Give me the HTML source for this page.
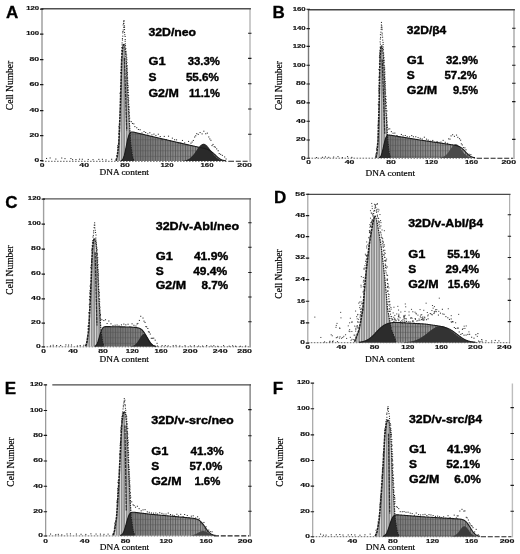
<!DOCTYPE html>
<html lang="en">
<head>
<meta charset="utf-8">
<title>Cell cycle analysis of 32D transfectants</title>
<style>
html,body{margin:0;padding:0;background:#fff;}
body{width:520px;height:554px;overflow:hidden;}
svg{display:block;}
.base{fill:none;stroke:#555;stroke-width:.9;stroke-dasharray:1.6 1.4;}
.rbase{fill:none;stroke:#222;stroke-width:1.1;stroke-dasharray:5 1.8;}
.g1{fill:#8e8e8e;}
.g1i{fill:none;stroke:#2b2b2b;stroke-width:1.3;stroke-dasharray:3 .6;}
.g1s{fill:url(#hw);}
.g1ll{fill:none;stroke:#1f1f1f;stroke-width:1.6;stroke-dasharray:2.6 .6;}
.g1lr{fill:none;stroke:#222;stroke-width:1.2;stroke-dasharray:1.5 .9;}
.sps{fill:url(#hd);}
.spl{fill:none;stroke:#1c1c1c;stroke-width:1.1;}
.ov{fill:#2c2c2c;}
.dots{fill:none;stroke:#262626;stroke-width:1;}
.sdots{fill:none;stroke:#4a4a4a;stroke-width:1;}
.tick{fill:none;stroke:#1a1a1a;stroke-width:1.1;}
.tl{font-family:"Liberation Sans", Arial, Helvetica, sans-serif;font-weight:bold;font-size:5.3px;fill:#111;stroke:#111;stroke-width:.15;}
.ax{font-family:"Liberation Serif", "Times New Roman", Times, serif;font-size:9.5px;fill:#000;stroke:#000;stroke-width:.18;}
.axd{font-family:"Liberation Serif", "Times New Roman", Times, serif;font-size:8.7px;fill:#000;stroke:#000;stroke-width:.18;}
.letter{font-family:"Liberation Sans", Arial, Helvetica, sans-serif;font-weight:bold;font-size:17px;fill:#000;stroke:#000;stroke-width:.3;}
.st{font-family:"Liberation Sans", Arial, Helvetica, sans-serif;font-weight:bold;font-size:11.7px;fill:#000;stroke:#000;stroke-width:.4;}
</style>
</head>
<body>
<svg width="520" height="554" viewBox="0 0 520 554" role="img" aria-label="DNA content histograms">

<defs>
<pattern id="hw" width="2.5" height="4" patternUnits="userSpaceOnUse"><rect x="0" y="0" width=".75" height="4" fill="#e8e8e8"/></pattern>
<pattern id="hd" width="2.5" height="5.5" patternUnits="userSpaceOnUse"><rect x="0" y="0" width=".8" height="5.5" fill="#585858"/><rect x="0" y="2" width="2.5" height=".8" fill="#4e4e4e" fill-opacity=".55"/></pattern>
<filter id="soft" x="0" y="0" width="100%" height="100%" filterUnits="userSpaceOnUse" color-interpolation-filters="sRGB"><feGaussianBlur stdDeviation="0.45"/></filter>
<linearGradient id="sgA" gradientUnits="userSpaceOnUse" x1="126.3" y1="0" x2="216" y2="0"><stop offset="0" stop-color="#6e6e6e"/><stop offset="1" stop-color="#9a9a9a"/></linearGradient>
<linearGradient id="sgB" gradientUnits="userSpaceOnUse" x1="383.6" y1="0" x2="466" y2="0"><stop offset="0" stop-color="#707070"/><stop offset="1" stop-color="#a4a4a4"/></linearGradient>
<linearGradient id="sgC" gradientUnits="userSpaceOnUse" x1="99.5" y1="0" x2="147" y2="0"><stop offset="0" stop-color="#6a6a6a"/><stop offset="1" stop-color="#858585"/></linearGradient>
<linearGradient id="sgD" gradientUnits="userSpaceOnUse" x1="376" y1="0" x2="459" y2="0"><stop offset="0" stop-color="#8a8a8a"/><stop offset="1" stop-color="#9c9c9c"/></linearGradient>
<linearGradient id="sgE" gradientUnits="userSpaceOnUse" x1="126.3" y1="0" x2="205.3" y2="0"><stop offset="0" stop-color="#787878"/><stop offset="1" stop-color="#9a9a9a"/></linearGradient>
<linearGradient id="sgF" gradientUnits="userSpaceOnUse" x1="389.5" y1="0" x2="470.5" y2="0"><stop offset="0" stop-color="#7a7a7a"/><stop offset="1" stop-color="#8e8e8e"/></linearGradient>
</defs>

<rect width="520" height="554" fill="#fff"/>
<g id="frames">
<path d="M42 8.3V162" fill="none" stroke="#9a9a9a" stroke-width="1.4"/>
<path d="M250 8.3V162" fill="none" stroke="#c6c6c6" stroke-width="1.8"/>
<path d="M41.3 8.8H250.9" fill="none" stroke="#505050" stroke-width="1.4"/>
<path class="tick" d="M40 9.1h3.4M40 34.1h3.4M40 59.6h3.4M40 84.6h3.4M40 110.6h3.4M40 135.6h3.4M40 160.6h3.4M248.1 33.3h3.4M248.1 58.4h3.4M248.1 83.7h3.4M248.1 109h3.4M248.1 134.2h3.4"/>
<path d="M308.5 9.2V158.9" fill="none" stroke="#777" stroke-width="1.4"/>
<path d="M514 9.2V158.9" fill="none" stroke="#bbb" stroke-width="1.8"/>
<path d="M307.8 9.7H514.9" fill="none" stroke="#444" stroke-width="1.5"/>
<path class="tick" d="M306.5 9.3h3.4M306.5 28.6h3.4M306.5 46.4h3.4M306.5 65.2h3.4M306.5 84h3.4M306.5 102.9h3.4M306.5 121.2h3.4M306.5 140h3.4M306.5 158.2h3.4M512.1 28.3h3.4M512.1 46.8h3.4M512.1 65.3h3.4M512.1 83.3h3.4M512.1 101.6h3.4M512.1 139.4h3.4"/>
<path d="M43.6 198.4V347.5" fill="none" stroke="#a0a0a0" stroke-width="1.4"/>
<path d="M250.1 198.4V347.5" fill="none" stroke="#888" stroke-width="1.4"/>
<path d="M42.9 198.9H251" fill="none" stroke="#555" stroke-width="1.3"/>
<path class="tick" d="M41.6 199.1h3.4M41.6 224.1h3.4M41.6 249.1h3.4M41.6 274.1h3.4M41.6 298.9h3.4M41.6 323.1h3.4M41.6 346.9h3.4M248.2 222.7h3.4M248.2 247.3h3.4M248.2 272.5h3.4M248.2 297h3.4M248.2 321.8h3.4"/>
<path d="M307.8 193.9V343.4" fill="none" stroke="#a2a2a2" stroke-width="1.2"/>
<path d="M509.6 193.9V343.4" fill="none" stroke="#b0b0b0" stroke-width="1.2"/>
<path d="M307.1 194.4H510.5" fill="none" stroke="#4a4a4a" stroke-width="1.3"/>
<path class="tick" d="M305.8 194.2h3.4M305.8 215.6h3.4M305.8 236.6h3.4M305.8 258.1h3.4M305.8 279.6h3.4M305.8 301.2h3.4M305.8 322.9h3.4M305.8 343.1h3.4M507.7 214.8h3.4M507.7 236.3h3.4M507.7 257.5h3.4M507.7 279h3.4M507.7 300.4h3.4M507.7 321.6h3.4"/>
<path d="M45.7 384.4V536.6" fill="none" stroke="#8a8a8a" stroke-width="1.1"/>
<path d="M250.1 384.4V536.6" fill="none" stroke="#777" stroke-width="1.3"/>
<path d="M52.3 384.9H251" fill="none" stroke="#4a4a4a" stroke-width="1.2"/>
<path class="tick" d="M43.7 384.9h3.4M43.7 410.5h3.4M43.7 435.4h3.4M43.7 461h3.4M43.7 486.2h3.4M43.7 511.8h3.4M43.7 536h3.4M248.2 409.6h3.4M248.2 435.8h3.4M248.2 460.8h3.4M248.2 486.3h3.4M248.2 511.2h3.4"/>
<path d="M312.7 383.5V537.4" fill="none" stroke="#a4a4a4" stroke-width="1.2"/>
<path d="M512.4 383.5V537.4" fill="none" stroke="#bdbdbd" stroke-width="1.4"/>
<path class="tick" d="M310.7 383.1h3.4M310.7 408.7h3.4M310.7 434.9h3.4M310.7 460.5h3.4M310.7 486.1h3.4M310.7 511.7h3.4M310.7 536.8h3.4M510.5 407.6h3.4M510.5 433.5h3.4M510.5 459.5h3.4M510.5 485.4h3.4M510.5 511.2h3.4"/>
</g>
<g filter="url(#soft)">
<g id="panelA">
<path class="base" d="M42 161.3H229"/>
<path class="rbase" d="M229 161.3H249"/>
<path class="g1" d="M116 161L116 160.66L116.25 159.83L116.5 158.99L116.75 158.15L117 157.31L117.25 156.47L117.5 154.57L117.75 152.42L118 150.28L118.25 148.13L118.5 145.98L118.75 143.84L119 138.8L119.25 133.13L119.5 127.47L119.75 121.8L120 115.99L120.25 108.31L120.5 100.63L120.75 92.95L121 84.23L121.25 75.1L121.5 65.97L121.75 59.65L122 54.92L122.25 52.12L122.5 49.33L122.75 47.16L123 46.15L123.25 45.25L123.5 44.68L123.75 44.11L124 44.44L124.25 44.98L124.5 45.62L124.75 46.56L125 47.5L125.25 49.79L125.5 52.1L125.75 54.41L126 57.41L126.25 61.29L126.5 65.69L126.75 71.1L127 76.51L127.25 81.92L127.5 87.34L127.75 92.55L128 97.42L128.25 102.29L128.5 107.16L128.75 112.02L129 116.83L129.25 120.8L129.5 124.77L129.75 128.75L130 132.72L130.25 136.69L130.5 140.67L130.75 144L131 145.85L131.25 147.7L131.5 149.55L131.75 151.4L132 153.24L132.25 155.09L132.5 156.58L132.75 157.37L133 158.16L133.25 158.95L133.5 159.74L133.75 160.53L133.75 161Z"/>
<path class="g1s" d="M116 161L116 160.66L116.25 159.83L116.5 158.99L116.75 158.15L117 157.31L117.25 156.47L117.5 154.57L117.75 152.42L118 150.28L118.25 148.13L118.5 145.98L118.75 143.84L119 138.8L119.25 133.13L119.5 127.47L119.75 121.8L120 115.99L120.25 108.31L120.5 100.63L120.75 92.95L121 84.23L121.25 75.1L121.5 65.97L121.75 59.65L122 54.92L122.25 52.12L122.5 49.33L122.75 47.16L123 46.15L123.25 45.25L123.5 44.68L123.75 44.11L124 44.44L124.25 44.98L124.5 45.62L124.75 46.56L125 47.5L125.25 49.79L125.5 52.1L125.75 54.41L126 57.41L126.25 61.29L126.5 65.69L126.75 71.1L127 76.51L127.25 81.92L127.5 87.34L127.75 92.55L128 97.42L128.25 102.29L128.5 107.16L128.75 112.02L129 116.83L129.25 120.8L129.5 124.77L129.75 128.75L130 132.72L130.25 136.69L130.5 140.67L130.75 144L131 145.85L131.25 147.7L131.5 149.55L131.75 151.4L132 153.24L132.25 155.09L132.5 156.58L132.75 157.37L133 158.16L133.25 158.95L133.5 159.74L133.75 160.53L133.75 161Z"/>
<path class="sp" fill="url(#sgA)" d="M120.75 161L120.75 160.77L121 160.69L121.25 160.58L121.5 160.45L121.75 160.29L122 160.09L122.25 159.84L122.5 159.54L122.75 159.18L123 158.75L123.25 158.26L123.5 157.68L123.75 157.03L124 156.29L124.25 155.47L124.5 154.57L124.75 153.58L125 152.52L125.25 151.4L125.5 150.21L125.75 148.98L126 147.72L126.25 146.45L126.5 145.17L126.75 143.9L127 142.66L127.25 141.46L127.5 140.32L127.75 139.23L128 138.22L128.25 137.29L128.5 136.45L128.75 135.68L129 135L129.25 134.41L129.5 133.89L129.75 133.44L130 133.06L130.25 132.75L130.5 132.49L130.75 132.28L131 132.1L131.25 132.02L131.5 131.97L131.75 131.94L132 131.93L132.25 131.94L132.5 131.96L132.75 131.99L133 132.03L133.25 132.07L133.5 132.12L133.75 132.17L134 132.22L134.25 132.28L134.5 132.33L134.75 132.39L135 132.45L135.25 132.51L135.5 132.57L135.75 132.63L136 132.68L136.25 132.74L136.5 132.8L136.75 132.86L137 132.92L137.25 132.98L137.5 133.04L137.75 133.1L138 133.16L138.25 133.22L138.5 133.28L138.75 133.34L139 133.39L139.25 133.45L139.5 133.51L139.75 133.57L140 133.63L140.25 133.69L140.5 133.75L140.75 133.81L141 133.87L141.25 133.93L141.5 133.99L141.75 134.05L142 134.11L142.25 134.16L142.5 134.22L142.75 134.28L143 134.34L143.25 134.4L143.5 134.46L143.75 134.52L144 134.58L144.25 134.64L144.5 134.7L144.75 134.76L145 134.82L145.25 134.88L145.5 134.93L145.75 134.99L146 135.05L146.25 135.11L146.5 135.17L146.75 135.23L147 135.29L147.25 135.35L147.5 135.41L147.75 135.47L148 135.53L148.25 135.59L148.5 135.64L148.75 135.7L149 135.76L149.25 135.82L149.5 135.88L149.75 135.94L150 136L150.25 136.06L150.5 136.12L150.75 136.18L151 136.23L151.25 136.29L151.5 136.35L151.75 136.41L152 136.47L152.25 136.53L152.5 136.58L152.75 136.64L153 136.7L153.25 136.76L153.5 136.82L153.75 136.88L154 136.93L154.25 136.99L154.5 137.05L154.75 137.11L155 137.17L155.25 137.22L155.5 137.28L155.75 137.34L156 137.4L156.25 137.46L156.5 137.52L156.75 137.57L157 137.63L157.25 137.69L157.5 137.75L157.75 137.81L158 137.87L158.25 137.93L158.5 137.98L158.75 138.04L159 138.1L159.25 138.16L159.5 138.22L159.75 138.28L160 138.33L160.25 138.39L160.5 138.45L160.75 138.51L161 138.57L161.25 138.62L161.5 138.68L161.75 138.74L162 138.8L162.25 138.86L162.5 138.92L162.75 138.97L163 139.03L163.25 139.09L163.5 139.15L163.75 139.21L164 139.27L164.25 139.32L164.5 139.38L164.75 139.44L165 139.5L165.25 139.56L165.5 139.62L165.75 139.68L166 139.73L166.25 139.79L166.5 139.85L166.75 139.91L167 139.97L167.25 140.03L167.5 140.08L167.75 140.14L168 140.2L168.25 140.26L168.5 140.32L168.75 140.38L169 140.43L169.25 140.49L169.5 140.55L169.75 140.61L170 140.67L170.25 140.72L170.5 140.78L170.75 140.84L171 140.9L171.25 140.96L171.5 141.02L171.75 141.07L172 141.13L172.25 141.19L172.5 141.25L172.75 141.31L173 141.37L173.25 141.43L173.5 141.48L173.75 141.54L174 141.6L174.25 141.66L174.5 141.72L174.75 141.78L175 141.83L175.25 141.89L175.5 141.95L175.75 142.01L176 142.07L176.25 142.13L176.5 142.18L176.75 142.24L177 142.3L177.25 142.36L177.5 142.42L177.75 142.48L178 142.53L178.25 142.59L178.5 142.65L178.75 142.71L179 142.77L179.25 142.83L179.5 142.88L179.75 142.94L180 143L180.25 143.06L180.5 143.11L180.75 143.17L181 143.23L181.25 143.28L181.5 143.34L181.75 143.39L182 143.45L182.25 143.51L182.5 143.56L182.75 143.62L183 143.68L183.25 143.73L183.5 143.79L183.75 143.84L184 143.9L184.25 143.96L184.5 144.01L184.75 144.07L185 144.13L185.25 144.18L185.5 144.24L185.75 144.29L186 144.35L186.25 144.41L186.5 144.46L186.75 144.52L187 144.58L187.25 144.63L187.5 144.69L187.75 144.74L188 144.8L188.25 144.86L188.5 144.91L188.75 144.97L189 145.03L189.25 145.08L189.5 145.14L189.75 145.19L190 145.25L190.25 145.31L190.5 145.36L190.75 145.42L191 145.48L191.25 145.53L191.5 145.59L191.75 145.64L192 145.7L192.25 145.76L192.5 145.81L192.75 145.87L193 145.93L193.25 145.98L193.5 146.04L193.75 146.09L194 146.15L194.25 146.21L194.5 146.26L194.75 146.32L195 146.38L195.25 146.43L195.5 146.49L195.75 146.54L196 146.6L196.25 146.66L196.5 146.71L196.75 146.77L197 146.83L197.25 146.88L197.5 146.94L197.75 147L198 147.05L198.25 147.11L198.5 147.17L198.75 147.22L199 147.28L199.25 147.34L199.5 147.39L199.75 147.45L200 147.51L200.25 147.56L200.5 147.6L200.75 147.65L201 147.7L201.25 147.75L201.5 147.79L201.75 147.84L202 147.89L202.25 147.94L202.5 148L202.75 148.05L203 148.1L203.25 148.15L203.5 148.21L203.75 148.27L204 148.32L204.25 148.38L204.5 148.45L204.75 148.51L205 148.58L205.25 148.64L205.5 148.71L205.75 148.79L206 148.86L206.25 148.94L206.5 149.02L206.75 149.11L207 149.2L207.25 149.29L207.5 149.39L207.75 149.49L208 149.6L208.25 149.71L208.5 149.83L208.75 149.95L209 150.08L209.25 150.21L209.5 150.35L209.75 150.5L210 150.65L210.25 150.8L210.5 150.97L210.75 151.13L211 151.31L211.25 151.49L211.5 151.67L211.75 151.87L212 152.06L212.25 152.26L212.5 152.47L212.75 152.68L213 152.9L213.25 153.12L213.5 153.35L213.75 153.57L214 153.8L214.25 154.04L214.5 154.27L214.75 154.51L215 154.74L215.25 154.98L215.5 155.22L215.75 155.45L216 155.69L216.25 155.92L216.5 156.15L216.75 156.38L217 156.61L217.25 156.83L217.5 157.05L217.75 157.26L218 157.46L218.25 157.67L218.5 157.86L218.75 158.05L219 158.24L219.25 158.41L219.5 158.58L219.75 158.75L220 158.9L220.25 159.05L220.5 159.19L220.75 159.33L221 159.46L221.25 159.58L221.5 159.69L221.75 159.8L222 159.9L222.25 160L222.5 160.09L222.75 160.17L223 160.24L223.25 160.32L223.5 160.38L223.75 160.44L224 160.5L224.25 160.55L224.5 160.59L224.75 160.64L225 160.68L225.25 160.71L225.5 160.74L225.75 160.77L226 160.8L226 161Z"/>
<path class="sps" d="M120.75 161L120.75 160.77L121 160.69L121.25 160.58L121.5 160.45L121.75 160.29L122 160.09L122.25 159.84L122.5 159.54L122.75 159.18L123 158.75L123.25 158.26L123.5 157.68L123.75 157.03L124 156.29L124.25 155.47L124.5 154.57L124.75 153.58L125 152.52L125.25 151.4L125.5 150.21L125.75 148.98L126 147.72L126.25 146.45L126.5 145.17L126.75 143.9L127 142.66L127.25 141.46L127.5 140.32L127.75 139.23L128 138.22L128.25 137.29L128.5 136.45L128.75 135.68L129 135L129.25 134.41L129.5 133.89L129.75 133.44L130 133.06L130.25 132.75L130.5 132.49L130.75 132.28L131 132.1L131.25 132.02L131.5 131.97L131.75 131.94L132 131.93L132.25 131.94L132.5 131.96L132.75 131.99L133 132.03L133.25 132.07L133.5 132.12L133.75 132.17L134 132.22L134.25 132.28L134.5 132.33L134.75 132.39L135 132.45L135.25 132.51L135.5 132.57L135.75 132.63L136 132.68L136.25 132.74L136.5 132.8L136.75 132.86L137 132.92L137.25 132.98L137.5 133.04L137.75 133.1L138 133.16L138.25 133.22L138.5 133.28L138.75 133.34L139 133.39L139.25 133.45L139.5 133.51L139.75 133.57L140 133.63L140.25 133.69L140.5 133.75L140.75 133.81L141 133.87L141.25 133.93L141.5 133.99L141.75 134.05L142 134.11L142.25 134.16L142.5 134.22L142.75 134.28L143 134.34L143.25 134.4L143.5 134.46L143.75 134.52L144 134.58L144.25 134.64L144.5 134.7L144.75 134.76L145 134.82L145.25 134.88L145.5 134.93L145.75 134.99L146 135.05L146.25 135.11L146.5 135.17L146.75 135.23L147 135.29L147.25 135.35L147.5 135.41L147.75 135.47L148 135.53L148.25 135.59L148.5 135.64L148.75 135.7L149 135.76L149.25 135.82L149.5 135.88L149.75 135.94L150 136L150.25 136.06L150.5 136.12L150.75 136.18L151 136.23L151.25 136.29L151.5 136.35L151.75 136.41L152 136.47L152.25 136.53L152.5 136.58L152.75 136.64L153 136.7L153.25 136.76L153.5 136.82L153.75 136.88L154 136.93L154.25 136.99L154.5 137.05L154.75 137.11L155 137.17L155.25 137.22L155.5 137.28L155.75 137.34L156 137.4L156.25 137.46L156.5 137.52L156.75 137.57L157 137.63L157.25 137.69L157.5 137.75L157.75 137.81L158 137.87L158.25 137.93L158.5 137.98L158.75 138.04L159 138.1L159.25 138.16L159.5 138.22L159.75 138.28L160 138.33L160.25 138.39L160.5 138.45L160.75 138.51L161 138.57L161.25 138.62L161.5 138.68L161.75 138.74L162 138.8L162.25 138.86L162.5 138.92L162.75 138.97L163 139.03L163.25 139.09L163.5 139.15L163.75 139.21L164 139.27L164.25 139.32L164.5 139.38L164.75 139.44L165 139.5L165.25 139.56L165.5 139.62L165.75 139.68L166 139.73L166.25 139.79L166.5 139.85L166.75 139.91L167 139.97L167.25 140.03L167.5 140.08L167.75 140.14L168 140.2L168.25 140.26L168.5 140.32L168.75 140.38L169 140.43L169.25 140.49L169.5 140.55L169.75 140.61L170 140.67L170.25 140.72L170.5 140.78L170.75 140.84L171 140.9L171.25 140.96L171.5 141.02L171.75 141.07L172 141.13L172.25 141.19L172.5 141.25L172.75 141.31L173 141.37L173.25 141.43L173.5 141.48L173.75 141.54L174 141.6L174.25 141.66L174.5 141.72L174.75 141.78L175 141.83L175.25 141.89L175.5 141.95L175.75 142.01L176 142.07L176.25 142.13L176.5 142.18L176.75 142.24L177 142.3L177.25 142.36L177.5 142.42L177.75 142.48L178 142.53L178.25 142.59L178.5 142.65L178.75 142.71L179 142.77L179.25 142.83L179.5 142.88L179.75 142.94L180 143L180.25 143.06L180.5 143.11L180.75 143.17L181 143.23L181.25 143.28L181.5 143.34L181.75 143.39L182 143.45L182.25 143.51L182.5 143.56L182.75 143.62L183 143.68L183.25 143.73L183.5 143.79L183.75 143.84L184 143.9L184.25 143.96L184.5 144.01L184.75 144.07L185 144.13L185.25 144.18L185.5 144.24L185.75 144.29L186 144.35L186.25 144.41L186.5 144.46L186.75 144.52L187 144.58L187.25 144.63L187.5 144.69L187.75 144.74L188 144.8L188.25 144.86L188.5 144.91L188.75 144.97L189 145.03L189.25 145.08L189.5 145.14L189.75 145.19L190 145.25L190.25 145.31L190.5 145.36L190.75 145.42L191 145.48L191.25 145.53L191.5 145.59L191.75 145.64L192 145.7L192.25 145.76L192.5 145.81L192.75 145.87L193 145.93L193.25 145.98L193.5 146.04L193.75 146.09L194 146.15L194.25 146.21L194.5 146.26L194.75 146.32L195 146.38L195.25 146.43L195.5 146.49L195.75 146.54L196 146.6L196.25 146.66L196.5 146.71L196.75 146.77L197 146.83L197.25 146.88L197.5 146.94L197.75 147L198 147.05L198.25 147.11L198.5 147.17L198.75 147.22L199 147.28L199.25 147.34L199.5 147.39L199.75 147.45L200 147.51L200.25 147.56L200.5 147.6L200.75 147.65L201 147.7L201.25 147.75L201.5 147.79L201.75 147.84L202 147.89L202.25 147.94L202.5 148L202.75 148.05L203 148.1L203.25 148.15L203.5 148.21L203.75 148.27L204 148.32L204.25 148.38L204.5 148.45L204.75 148.51L205 148.58L205.25 148.64L205.5 148.71L205.75 148.79L206 148.86L206.25 148.94L206.5 149.02L206.75 149.11L207 149.2L207.25 149.29L207.5 149.39L207.75 149.49L208 149.6L208.25 149.71L208.5 149.83L208.75 149.95L209 150.08L209.25 150.21L209.5 150.35L209.75 150.5L210 150.65L210.25 150.8L210.5 150.97L210.75 151.13L211 151.31L211.25 151.49L211.5 151.67L211.75 151.87L212 152.06L212.25 152.26L212.5 152.47L212.75 152.68L213 152.9L213.25 153.12L213.5 153.35L213.75 153.57L214 153.8L214.25 154.04L214.5 154.27L214.75 154.51L215 154.74L215.25 154.98L215.5 155.22L215.75 155.45L216 155.69L216.25 155.92L216.5 156.15L216.75 156.38L217 156.61L217.25 156.83L217.5 157.05L217.75 157.26L218 157.46L218.25 157.67L218.5 157.86L218.75 158.05L219 158.24L219.25 158.41L219.5 158.58L219.75 158.75L220 158.9L220.25 159.05L220.5 159.19L220.75 159.33L221 159.46L221.25 159.58L221.5 159.69L221.75 159.8L222 159.9L222.25 160L222.5 160.09L222.75 160.17L223 160.24L223.25 160.32L223.5 160.38L223.75 160.44L224 160.5L224.25 160.55L224.5 160.59L224.75 160.64L225 160.68L225.25 160.71L225.5 160.74L225.75 160.77L226 160.8L226 161Z"/>
<path class="g1i" d="M124.4 58L126.76 130.38"/>
<path class="ov" d="M120.75 161L120.75 160.77L121 160.69L121.25 160.58L121.5 160.45L121.75 160.29L122 160.09L122.25 159.84L122.5 159.54L122.75 159.18L123 158.75L123.25 158.26L123.5 157.68L123.75 157.03L124 156.29L124.25 155.47L124.5 154.57L124.75 153.58L125 152.52L125.25 151.4L125.5 150.21L125.75 148.98L126 147.72L126.25 146.45L126.5 145.17L126.75 143.9L127 142.66L127.25 141.46L127.5 140.32L127.75 139.23L128 138.22L128.25 137.29L128.5 136.45L128.75 135.68L129 135L129.25 134.41L129.5 133.89L129.75 133.44L130 133.06L130.25 136.69L130.5 140.67L130.75 144L131 145.85L131.25 147.7L131.5 149.55L131.75 151.4L132 153.24L132.25 155.09L132.5 156.58L132.75 157.37L133 158.16L133.25 158.95L133.5 159.74L133.75 160.53L133.75 161Z"/>
<path class="g2" fill="#2a2a2a" d="M182.25 161L182.25 160.79L182.5 160.77L182.75 160.74L183 160.71L183.25 160.68L183.5 160.65L183.75 160.62L184 160.58L184.25 160.54L184.5 160.49L184.75 160.44L185 160.39L185.25 160.33L185.5 160.27L185.75 160.2L186 160.13L186.25 160.06L186.5 159.98L186.75 159.89L187 159.79L187.25 159.69L187.5 159.59L187.75 159.48L188 159.36L188.25 159.23L188.5 159.09L188.75 158.95L189 158.8L189.25 158.64L189.5 158.47L189.75 158.3L190 158.11L190.25 157.92L190.5 157.71L190.75 157.5L191 157.28L191.25 157.05L191.5 156.81L191.75 156.56L192 156.3L192.25 156.04L192.5 155.76L192.75 155.47L193 155.18L193.25 154.88L193.5 154.57L193.75 154.25L194 153.93L194.25 153.6L194.5 153.26L194.75 152.92L195 152.57L195.25 152.22L195.5 151.87L195.75 151.51L196 151.15L196.25 150.78L196.5 150.42L196.75 150.06L197 149.7L197.25 149.34L197.5 148.99L197.75 148.64L198 148.29L198.25 147.95L198.5 147.62L198.75 147.29L199 146.98L199.25 146.67L199.5 146.37L199.75 146.09L200 145.82L200.25 145.56L200.5 145.32L200.75 145.1L201 144.89L201.25 144.69L201.5 144.52L201.75 144.36L202 144.22L202.25 144.1L202.5 144L202.75 143.92L203 143.86L203.25 143.82L203.5 143.8L203.75 143.8L204 143.83L204.25 143.87L204.5 143.93L204.75 144.02L205 144.12L205.25 144.25L205.5 144.39L205.75 144.55L206 144.73L206.25 144.93L206.5 145.14L206.75 145.37L207 145.61L207.25 145.87L207.5 146.15L207.75 146.43L208 146.73L208.25 147.04L208.5 147.36L208.75 147.68L209 148.02L209.25 148.36L209.5 148.71L209.75 149.06L210 149.41L210.25 149.77L210.5 150.13L210.75 150.5L211 150.86L211.25 151.22L211.5 151.58L211.75 151.94L212 152.29L212.25 152.64L212.5 152.99L212.75 153.33L213 153.66L213.25 153.99L213.5 154.32L213.75 154.63L214 154.94L214.25 155.24L214.5 155.53L214.75 155.81L215 156.09L215.25 156.35L215.5 156.61L215.75 156.86L216 157.1L216.25 157.33L216.5 157.54L216.75 157.76L217 157.96L217.25 158.15L217.5 158.33L217.75 158.51L218 158.67L218.25 158.83L218.5 158.98L218.75 159.12L219 159.25L219.25 159.38L219.5 159.5L219.75 159.61L220 159.71L220.25 159.81L220.5 159.91L220.75 159.99L221 160.07L221.25 160.15L221.5 160.22L221.75 160.28L222 160.34L222.25 160.4L222.5 160.45L222.75 160.5L223 160.54L223.25 160.58L223.5 160.62L223.75 160.66L224 160.69L224.25 160.72L224.5 160.75L224.75 160.77L225 160.79L225 161Z"/>
<path class="g1ll" d="M116 160.66L116.25 159.83L116.5 158.99L116.75 158.15L117 157.31L117.25 156.47L117.5 154.57L117.75 152.42L118 150.28L118.25 148.13L118.5 145.98L118.75 143.84L119 138.8L119.25 133.13L119.5 127.47L119.75 121.8L120 115.99L120.25 108.31L120.5 100.63L120.75 92.95L121 84.23L121.25 75.1L121.5 65.97L121.75 59.65L122 54.92L122.25 52.12L122.5 49.33L122.75 47.16L123 46.15L123.25 45.25L123.5 44.68L123.75 44.11"/>
<path class="g1lr" d="M123.75 44.11L124 44.44L124.25 44.98L124.5 45.62L124.75 46.56L125 47.5L125.25 49.79L125.5 52.1L125.75 54.41L126 57.41L126.25 61.29L126.5 65.69L126.75 71.1L127 76.51L127.25 81.92L127.5 87.34L127.75 92.55L128 97.42L128.25 102.29L128.5 107.16L128.75 112.02L129 116.83L129.25 120.8L129.5 124.77L129.75 128.75L130 132.72L130.25 136.69L130.5 140.67L130.75 144L131 145.85L131.25 147.7L131.5 149.55L131.75 151.4L132 153.24L132.25 155.09L132.5 156.58L132.75 157.37L133 158.16L133.25 158.95L133.5 159.74L133.75 160.53"/>
<path class="spl" d="M120.75 160.77L121 160.69L121.25 160.58L121.5 160.45L121.75 160.29L122 160.09L122.25 159.84L122.5 159.54L122.75 159.18L123 158.75L123.25 158.26L123.5 157.68L123.75 157.03L124 156.29L124.25 155.47L124.5 154.57L124.75 153.58L125 152.52L125.25 151.4L125.5 150.21L125.75 148.98L126 147.72L126.25 146.45L126.5 145.17L126.75 143.9L127 142.66L127.25 141.46L127.5 140.32L127.75 139.23L128 138.22L128.25 137.29L128.5 136.45L128.75 135.68L129 135L129.25 134.41L129.5 133.89L129.75 133.44L130 133.06L130.25 132.75L130.5 132.49L130.75 132.28L131 132.1L131.25 132.02L131.5 131.97L131.75 131.94L132 131.93L132.25 131.94L132.5 131.96L132.75 131.99L133 132.03L133.25 132.07L133.5 132.12L133.75 132.17L134 132.22L134.25 132.28L134.5 132.33L134.75 132.39L135 132.45L135.25 132.51L135.5 132.57L135.75 132.63L136 132.68L136.25 132.74L136.5 132.8L136.75 132.86L137 132.92L137.25 132.98L137.5 133.04L137.75 133.1L138 133.16L138.25 133.22L138.5 133.28L138.75 133.34L139 133.39L139.25 133.45L139.5 133.51L139.75 133.57L140 133.63L140.25 133.69L140.5 133.75L140.75 133.81L141 133.87L141.25 133.93L141.5 133.99L141.75 134.05L142 134.11L142.25 134.16L142.5 134.22L142.75 134.28L143 134.34L143.25 134.4L143.5 134.46L143.75 134.52L144 134.58L144.25 134.64L144.5 134.7L144.75 134.76L145 134.82L145.25 134.88L145.5 134.93L145.75 134.99L146 135.05L146.25 135.11L146.5 135.17L146.75 135.23L147 135.29L147.25 135.35L147.5 135.41L147.75 135.47L148 135.53L148.25 135.59L148.5 135.64L148.75 135.7L149 135.76L149.25 135.82L149.5 135.88L149.75 135.94L150 136L150.25 136.06L150.5 136.12L150.75 136.18L151 136.23L151.25 136.29L151.5 136.35L151.75 136.41L152 136.47L152.25 136.53L152.5 136.58L152.75 136.64L153 136.7L153.25 136.76L153.5 136.82L153.75 136.88L154 136.93L154.25 136.99L154.5 137.05L154.75 137.11L155 137.17L155.25 137.22L155.5 137.28L155.75 137.34L156 137.4L156.25 137.46L156.5 137.52L156.75 137.57L157 137.63L157.25 137.69L157.5 137.75L157.75 137.81L158 137.87L158.25 137.93L158.5 137.98L158.75 138.04L159 138.1L159.25 138.16L159.5 138.22L159.75 138.28L160 138.33L160.25 138.39L160.5 138.45L160.75 138.51L161 138.57L161.25 138.62L161.5 138.68L161.75 138.74L162 138.8L162.25 138.86L162.5 138.92L162.75 138.97L163 139.03L163.25 139.09L163.5 139.15L163.75 139.21L164 139.27L164.25 139.32L164.5 139.38L164.75 139.44L165 139.5L165.25 139.56L165.5 139.62L165.75 139.68L166 139.73L166.25 139.79L166.5 139.85L166.75 139.91L167 139.97L167.25 140.03L167.5 140.08L167.75 140.14L168 140.2L168.25 140.26L168.5 140.32L168.75 140.38L169 140.43L169.25 140.49L169.5 140.55L169.75 140.61L170 140.67L170.25 140.72L170.5 140.78L170.75 140.84L171 140.9L171.25 140.96L171.5 141.02L171.75 141.07L172 141.13L172.25 141.19L172.5 141.25L172.75 141.31L173 141.37L173.25 141.43L173.5 141.48L173.75 141.54L174 141.6L174.25 141.66L174.5 141.72L174.75 141.78L175 141.83L175.25 141.89L175.5 141.95L175.75 142.01L176 142.07L176.25 142.13L176.5 142.18L176.75 142.24L177 142.3L177.25 142.36L177.5 142.42L177.75 142.48L178 142.53L178.25 142.59L178.5 142.65L178.75 142.71L179 142.77L179.25 142.83L179.5 142.88L179.75 142.94L180 143L180.25 143.06L180.5 143.11L180.75 143.17L181 143.23L181.25 143.28L181.5 143.34L181.75 143.39L182 143.45L182.25 143.51L182.5 143.56L182.75 143.62L183 143.68L183.25 143.73L183.5 143.79L183.75 143.84L184 143.9L184.25 143.96L184.5 144.01L184.75 144.07L185 144.13L185.25 144.18L185.5 144.24L185.75 144.29L186 144.35L186.25 144.41L186.5 144.46L186.75 144.52L187 144.58L187.25 144.63L187.5 144.69L187.75 144.74L188 144.8L188.25 144.86L188.5 144.91L188.75 144.97L189 145.03L189.25 145.08L189.5 145.14L189.75 145.19L190 145.25L190.25 145.31L190.5 145.36L190.75 145.42L191 145.48L191.25 145.53L191.5 145.59L191.75 145.64L192 145.7L192.25 145.76L192.5 145.81L192.75 145.87L193 145.93L193.25 145.98L193.5 146.04L193.75 146.09L194 146.15L194.25 146.21L194.5 146.26L194.75 146.32L195 146.38L195.25 146.43L195.5 146.49L195.75 146.54L196 146.6L196.25 146.66L196.5 146.71L196.75 146.77L197 146.83L197.25 146.88L197.5 146.94L197.75 147L198 147.05L198.25 147.11L198.5 147.17L198.75 147.22L199 147.28L199.25 147.34L199.5 147.39L199.75 147.45L200 147.51L200.25 147.56L200.5 147.6L200.75 147.65L201 147.7L201.25 147.75L201.5 147.79L201.75 147.84L202 147.89L202.25 147.94L202.5 148L202.75 148.05L203 148.1L203.25 148.15L203.5 148.21L203.75 148.27L204 148.32L204.25 148.38L204.5 148.45L204.75 148.51L205 148.58L205.25 148.64L205.5 148.71L205.75 148.79L206 148.86L206.25 148.94L206.5 149.02L206.75 149.11L207 149.2L207.25 149.29L207.5 149.39L207.75 149.49L208 149.6L208.25 149.71L208.5 149.83L208.75 149.95L209 150.08L209.25 150.21L209.5 150.35L209.75 150.5L210 150.65L210.25 150.8L210.5 150.97L210.75 151.13L211 151.31L211.25 151.49L211.5 151.67L211.75 151.87L212 152.06L212.25 152.26L212.5 152.47L212.75 152.68L213 152.9L213.25 153.12L213.5 153.35L213.75 153.57L214 153.8L214.25 154.04L214.5 154.27L214.75 154.51L215 154.74L215.25 154.98L215.5 155.22L215.75 155.45L216 155.69L216.25 155.92L216.5 156.15L216.75 156.38L217 156.61L217.25 156.83L217.5 157.05L217.75 157.26L218 157.46L218.25 157.67L218.5 157.86L218.75 158.05L219 158.24L219.25 158.41L219.5 158.58L219.75 158.75L220 158.9L220.25 159.05L220.5 159.19L220.75 159.33L221 159.46L221.25 159.58L221.5 159.69L221.75 159.8L222 159.9L222.25 160L222.5 160.09L222.75 160.17L223 160.24L223.25 160.32L223.5 160.38L223.75 160.44L224 160.5L224.25 160.55L224.5 160.59L224.75 160.64L225 160.68L225.25 160.71L225.5 160.74L225.75 160.77L226 160.8"/>
<path class="dots" d="M116.06 155.85h1.1M117.23 147.61h1.1M117.22 145.68h1.1M118.23 133.21h1.1M118.42 126.65h1.1M119.5 93.29h1.1M119.95 86.73h1.1M120.05 72.61h1.1M120.8 59.37h1.1M121.11 53.49h1.1M121.22 50.46h1.1M121.23 47.61h1.1M121.53 44.9h1.1M121.58 42.9h1.1M121.93 40.07h1.1M121.91 38.61h1.1M122.24 36.15h1.1M122.23 32.88h1.1M122.37 31.52h1.1M122.74 29.93h1.1M123.06 27.26h1.1M122.66 24.94h1.1M123.12 23.39h1.1M123.44 20.58h1.1M123.29 21.54h1.1M123.19 23.38h1.1M123.96 25.89h1.1M123.98 27.34h1.1M123.98 29.57h1.1M123.96 32.41h1.1M124.25 34.72h1.1M124.58 36.5h1.1M124.66 39.5h1.1M124.61 41.3h1.1M124.79 43.8h1.1M124.95 45.61h1.1M125.27 48.58h1.1M125.51 51.34h1.1M125.49 53.02h1.1M126.03 54.98h1.1M126.15 57.69h1.1M126.37 59.81h1.1M126.42 62.66h1.1M126.8 65.83h1.1M126.65 68.12h1.1M126.65 69.85h1.1M126.93 72.36h1.1M126.86 74.39h1.1M127.02 77.19h1.1M127.02 78.85h1.1M127.22 80.94h1.1M127.23 83.35h1.1M127.48 85.42h1.1M127.69 87.15h1.1M127.7 90.09h1.1M127.81 92.45h1.1M128.03 95.47h1.1M128.08 98.14h1.1M128.19 100.73h1.1M128.3 104.13h1.1M128.82 107.02h1.1M128.59 110.02h1.1M128.76 112.66h1.1M128.88 115.67h1.1M129.11 118.11h1.1M129.18 121.28h1.1M130.79 121.7h1.1M131.93 123.45h1.1M133.28 123.86h1.1M134.3 126.6h1.1M136.21 127.78h1.1M137.87 129.47h1.1M139.59 129.77h1.1M141.44 133.01h1.1M143.48 131.6h1.1M145.1 132.54h1.1M147.24 133.86h1.1M149.28 132.8h1.1M151.42 134.88h1.1M153.39 134.13h1.1M155.37 135.44h1.1M157.77 134.23h1.1M159.7 136.51h1.1M161.44 139.78h1.1M163.73 136.42h1.1M165.8 139.49h1.1M167.98 136.19h1.1M169.68 140.74h1.1M171.83 138.16h1.1M174.06 139.73h1.1M175.99 139.83h1.1M178.21 142.88h1.1M180.16 143.04h1.1M181.92 140.45h1.1M184.11 142.9h1.1M186.17 144.76h1.1M188 141.42h1.1M190.41 143.16h1.1M191.58 142.01h1.1M192.81 140.45h1.1M194.08 137.05h1.1M195.16 135.81h1.1M196.2 133.68h1.1M197.71 134.36h1.1M199.56 132.57h1.1M201.57 133.9h1.1M203.29 131.21h1.1M205.18 133.75h1.1M206.81 133.13h1.1M208.22 136.96h1.1M209.26 138.95h1.1M210.38 140.3h1.1M211.48 145.61h1.1M212.48 144.43h1.1M213.71 146.66h1.1M214.8 147.23h1.1M216.12 148.92h1.1M217.62 150.76h1.1M218.67 153.64h1.1M220.13 154.39h1.1M221.83 155.38h1.1M224.08 156.94h1.1M225.54 159.01h1.1M46 158.44h1.1M49.6 157.98h1.1M55.29 159.06h1.1M61.19 158.03h1.1M64.44 158.64h1.1M70.37 158.55h1.1M72 159.69h1.1M75.41 159.55h1.1M78.98 159.2h1.1M81.77 159.24h1.1M87.71 159.44h1.1M92.49 159.67h1.1M98.28 159.37h1.1M101.86 159.29h1.1M105.47 159.92h1.1M111.09 159.26h1.1"/>
<text class="tl" x="39.2" y="10.4" textLength="13" lengthAdjust="spacingAndGlyphs" text-anchor="end">120</text>
<text class="tl" x="39.2" y="35.4" textLength="13" lengthAdjust="spacingAndGlyphs" text-anchor="end">100</text>
<text class="tl" x="39.2" y="60.9" textLength="9.7" lengthAdjust="spacingAndGlyphs" text-anchor="end">80</text>
<text class="tl" x="39.2" y="85.9" textLength="9.7" lengthAdjust="spacingAndGlyphs" text-anchor="end">60</text>
<text class="tl" x="39.2" y="111.9" textLength="9.7" lengthAdjust="spacingAndGlyphs" text-anchor="end">40</text>
<text class="tl" x="39.2" y="136.9" textLength="9.7" lengthAdjust="spacingAndGlyphs" text-anchor="end">20</text>
<text class="tl" x="39.2" y="161.9" textLength="4.7" lengthAdjust="spacingAndGlyphs" text-anchor="end">0</text>
<text class="tl" x="42" y="166.9" textLength="4.7" lengthAdjust="spacingAndGlyphs" text-anchor="middle">0</text>
<text class="tl" x="84.2" y="166.9" textLength="9.7" lengthAdjust="spacingAndGlyphs" text-anchor="middle">40</text>
<text class="tl" x="125" y="166.9" textLength="9.7" lengthAdjust="spacingAndGlyphs" text-anchor="middle">80</text>
<text class="tl" x="167" y="166.9" textLength="13" lengthAdjust="spacingAndGlyphs" text-anchor="middle">120</text>
<text class="tl" x="207" y="166.9" textLength="13" lengthAdjust="spacingAndGlyphs" text-anchor="middle">160</text>
<text class="tl" x="244.6" y="166.9" textLength="14.7" lengthAdjust="spacingAndGlyphs" text-anchor="middle">200</text>
<text class="ax" text-anchor="middle" transform="translate(13.4 85.5) rotate(-90)">Cell Number</text>
<text class="axd" text-anchor="middle" x="124.2" y="174.8" textLength="49.4" lengthAdjust="spacingAndGlyphs">DNA content</text>
<text class="letter" x="5.9" y="17.5">A</text>
<text class="st" x="148.4" y="35.7" textLength="47.7" lengthAdjust="spacingAndGlyphs">32D/neo</text>
<text class="st" x="148.4" y="65.4" textLength="17.2" lengthAdjust="spacingAndGlyphs">G1</text>
<text class="st" x="148.4" y="80.9" textLength="8" lengthAdjust="spacingAndGlyphs">S</text>
<text class="st" x="148.4" y="96.6" textLength="30.4" lengthAdjust="spacingAndGlyphs">G2/M</text>
<text class="st" x="187.7" y="65.4" textLength="32.2" lengthAdjust="spacingAndGlyphs">33.3%</text>
<text class="st" x="185.9" y="80.9" textLength="33" lengthAdjust="spacingAndGlyphs">55.6%</text>
<text class="st" x="188.9" y="96.6" textLength="31" lengthAdjust="spacingAndGlyphs">11.1%</text>
</g>
<g id="panelB">
<path class="base" d="M308.5 158.2H477"/>
<path class="rbase" d="M477 158.2H513"/>
<path class="g1" d="M375.75 157.9L375.75 157.7L376 156.7L376.25 155.7L376.5 154.7L376.75 153.7L377 151.53L377.25 148.88L377.5 146.23L377.75 143.58L378 140.75L378.25 133.04L378.5 125.33L378.75 117.62L379 107.61L379.25 96.52L379.5 84.22L379.75 70.43L380 60.28L380.25 54.85L380.5 51.34L380.75 48.45L381 47.24L381.25 46.35L381.5 45.67L381.75 45.78L382 46.41L382.25 47.24L382.5 48.31L382.75 50.24L383 52.79L383.25 55.34L383.5 58.67L383.75 62.82L384 67.81L384.25 73.39L384.5 78.97L384.75 84.55L385 90.13L385.25 95.24L385.5 100.32L385.75 105.4L386 110.48L386.25 115.49L386.5 119.72L386.75 123.95L387 128.18L387.25 132.41L387.5 136.64L387.75 140.87L388 143.02L388.25 145.08L388.5 147.15L388.75 149.22L389 151.28L389.25 153.35L389.5 154.28L389.75 155.19L390 156.09L390.25 157L390.25 157.9Z"/>
<path class="g1s" d="M375.75 157.9L375.75 157.7L376 156.7L376.25 155.7L376.5 154.7L376.75 153.7L377 151.53L377.25 148.88L377.5 146.23L377.75 143.58L378 140.75L378.25 133.04L378.5 125.33L378.75 117.62L379 107.61L379.25 96.52L379.5 84.22L379.75 70.43L380 60.28L380.25 54.85L380.5 51.34L380.75 48.45L381 47.24L381.25 46.35L381.5 45.67L381.75 45.78L382 46.41L382.25 47.24L382.5 48.31L382.75 50.24L383 52.79L383.25 55.34L383.5 58.67L383.75 62.82L384 67.81L384.25 73.39L384.5 78.97L384.75 84.55L385 90.13L385.25 95.24L385.5 100.32L385.75 105.4L386 110.48L386.25 115.49L386.5 119.72L386.75 123.95L387 128.18L387.25 132.41L387.5 136.64L387.75 140.87L388 143.02L388.25 145.08L388.5 147.15L388.75 149.22L389 151.28L389.25 153.35L389.5 154.28L389.75 155.19L390 156.09L390.25 157L390.25 157.9Z"/>
<path class="sp" fill="url(#sgB)" d="M379 157.9L379 157.65L379.25 157.56L379.5 157.43L379.75 157.27L380 157.06L380.25 156.81L380.5 156.49L380.75 156.11L381 155.65L381.25 155.11L381.5 154.49L381.75 153.78L382 152.98L382.25 152.1L382.5 151.14L382.75 150.12L383 149.04L383.25 147.91L383.5 146.77L383.75 145.61L384 144.47L384.25 143.36L384.5 142.29L384.75 141.28L385 140.34L385.25 139.48L385.5 138.71L385.75 138.02L386 137.42L386.25 136.91L386.5 136.47L386.75 136.11L387 135.81L387.25 135.57L387.5 135.38L387.75 135.23L388 135.12L388.25 135.07L388.5 135.05L388.75 135.04L389 135.04L389.25 135.06L389.5 135.08L389.75 135.11L390 135.14L390.25 135.18L390.5 135.21L390.75 135.25L391 135.29L391.25 135.33L391.5 135.37L391.75 135.41L392 135.45L392.25 135.49L392.5 135.53L392.75 135.57L393 135.61L393.25 135.65L393.5 135.69L393.75 135.73L394 135.78L394.25 135.82L394.5 135.86L394.75 135.9L395 135.94L395.25 135.98L395.5 136.02L395.75 136.06L396 136.1L396.25 136.14L396.5 136.18L396.75 136.22L397 136.26L397.25 136.3L397.5 136.34L397.75 136.38L398 136.43L398.25 136.47L398.5 136.51L398.75 136.55L399 136.59L399.25 136.63L399.5 136.67L399.75 136.71L400 136.75L400.25 136.79L400.5 136.83L400.75 136.87L401 136.91L401.25 136.95L401.5 136.99L401.75 137.03L402 137.08L402.25 137.12L402.5 137.16L402.75 137.2L403 137.24L403.25 137.28L403.5 137.32L403.75 137.36L404 137.4L404.25 137.44L404.5 137.48L404.75 137.52L405 137.56L405.25 137.6L405.5 137.64L405.75 137.68L406 137.72L406.25 137.77L406.5 137.81L406.75 137.85L407 137.89L407.25 137.93L407.5 137.97L407.75 138.01L408 138.05L408.25 138.09L408.5 138.13L408.75 138.17L409 138.21L409.25 138.25L409.5 138.29L409.75 138.33L410 138.38L410.25 138.42L410.5 138.46L410.75 138.5L411 138.54L411.25 138.58L411.5 138.62L411.75 138.66L412 138.7L412.25 138.74L412.5 138.78L412.75 138.82L413 138.86L413.25 138.9L413.5 138.94L413.75 138.98L414 139.03L414.25 139.07L414.5 139.11L414.75 139.15L415 139.19L415.25 139.23L415.5 139.27L415.75 139.31L416 139.35L416.25 139.39L416.5 139.43L416.75 139.47L417 139.51L417.25 139.55L417.5 139.59L417.75 139.63L418 139.68L418.25 139.72L418.5 139.76L418.75 139.8L419 139.84L419.25 139.88L419.5 139.92L419.75 139.96L420 140L420.25 140.04L420.5 140.07L420.75 140.11L421 140.15L421.25 140.19L421.5 140.22L421.75 140.26L422 140.3L422.25 140.34L422.5 140.38L422.75 140.41L423 140.45L423.25 140.49L423.5 140.53L423.75 140.56L424 140.6L424.25 140.64L424.5 140.68L424.75 140.71L425 140.75L425.25 140.79L425.5 140.82L425.75 140.86L426 140.9L426.25 140.94L426.5 140.97L426.75 141.01L427 141.05L427.25 141.09L427.5 141.12L427.75 141.16L428 141.2L428.25 141.24L428.5 141.28L428.75 141.31L429 141.35L429.25 141.39L429.5 141.43L429.75 141.46L430 141.5L430.25 141.54L430.5 141.58L430.75 141.61L431 141.65L431.25 141.69L431.5 141.73L431.75 141.76L432 141.8L432.25 141.84L432.5 141.88L432.75 141.91L433 141.95L433.25 141.99L433.5 142.03L433.75 142.06L434 142.1L434.25 142.14L434.5 142.18L434.75 142.21L435 142.25L435.25 142.29L435.5 142.33L435.75 142.36L436 142.4L436.25 142.44L436.5 142.48L436.75 142.51L437 142.55L437.25 142.59L437.5 142.63L437.75 142.66L438 142.7L438.25 142.74L438.5 142.78L438.75 142.81L439 142.85L439.25 142.89L439.5 142.93L439.75 142.96L440 143L440.25 143.04L440.5 143.08L440.75 143.11L441 143.15L441.25 143.19L441.5 143.23L441.75 143.26L442 143.3L442.25 143.34L442.5 143.38L442.75 143.41L443 143.45L443.25 143.49L443.5 143.53L443.75 143.56L444 143.6L444.25 143.64L444.5 143.68L444.75 143.71L445 143.75L445.25 143.79L445.5 143.83L445.75 143.86L446 143.9L446.25 143.94L446.5 143.98L446.75 144.01L447 144.05L447.25 144.09L447.5 144.13L447.75 144.16L448 144.2L448.25 144.24L448.5 144.28L448.75 144.31L449 144.35L449.25 144.39L449.5 144.43L449.75 144.46L450 144.5L450.25 144.54L450.5 144.57L450.75 144.61L451 144.65L451.25 144.68L451.5 144.72L451.75 144.76L452 144.79L452.25 144.83L452.5 144.87L452.75 144.91L453 144.95L453.25 144.98L453.5 145.03L453.75 145.07L454 145.11L454.25 145.15L454.5 145.2L454.75 145.24L455 145.29L455.25 145.34L455.5 145.39L455.75 145.45L456 145.5L456.25 145.56L456.5 145.63L456.75 145.69L457 145.76L457.25 145.84L457.5 145.91L457.75 146L458 146.08L458.25 146.18L458.5 146.27L458.75 146.38L459 146.49L459.25 146.6L459.5 146.73L459.75 146.86L460 146.99L460.25 147.14L460.5 147.29L460.75 147.45L461 147.62L461.25 147.8L461.5 147.98L461.75 148.17L462 148.37L462.25 148.58L462.5 148.79L462.75 149.02L463 149.24L463.25 149.48L463.5 149.72L463.75 149.97L464 150.22L464.25 150.47L464.5 150.73L464.75 150.99L465 151.26L465.25 151.52L465.5 151.79L465.75 152.05L466 152.32L466.25 152.58L466.5 152.85L466.75 153.1L467 153.36L467.25 153.61L467.5 153.85L467.75 154.09L468 154.33L468.25 154.55L468.5 154.77L468.75 154.98L469 155.19L469.25 155.38L469.5 155.57L469.75 155.75L470 155.92L470.25 156.08L470.5 156.23L470.75 156.37L471 156.51L471.25 156.63L471.5 156.75L471.75 156.86L472 156.96L472.25 157.05L472.5 157.14L472.75 157.22L473 157.29L473.25 157.36L473.5 157.42L473.75 157.47L474 157.52L474.25 157.57L474.5 157.61L474.75 157.64L475 157.67L475 157.9Z"/>
<path class="sps" d="M379 157.9L379 157.65L379.25 157.56L379.5 157.43L379.75 157.27L380 157.06L380.25 156.81L380.5 156.49L380.75 156.11L381 155.65L381.25 155.11L381.5 154.49L381.75 153.78L382 152.98L382.25 152.1L382.5 151.14L382.75 150.12L383 149.04L383.25 147.91L383.5 146.77L383.75 145.61L384 144.47L384.25 143.36L384.5 142.29L384.75 141.28L385 140.34L385.25 139.48L385.5 138.71L385.75 138.02L386 137.42L386.25 136.91L386.5 136.47L386.75 136.11L387 135.81L387.25 135.57L387.5 135.38L387.75 135.23L388 135.12L388.25 135.07L388.5 135.05L388.75 135.04L389 135.04L389.25 135.06L389.5 135.08L389.75 135.11L390 135.14L390.25 135.18L390.5 135.21L390.75 135.25L391 135.29L391.25 135.33L391.5 135.37L391.75 135.41L392 135.45L392.25 135.49L392.5 135.53L392.75 135.57L393 135.61L393.25 135.65L393.5 135.69L393.75 135.73L394 135.78L394.25 135.82L394.5 135.86L394.75 135.9L395 135.94L395.25 135.98L395.5 136.02L395.75 136.06L396 136.1L396.25 136.14L396.5 136.18L396.75 136.22L397 136.26L397.25 136.3L397.5 136.34L397.75 136.38L398 136.43L398.25 136.47L398.5 136.51L398.75 136.55L399 136.59L399.25 136.63L399.5 136.67L399.75 136.71L400 136.75L400.25 136.79L400.5 136.83L400.75 136.87L401 136.91L401.25 136.95L401.5 136.99L401.75 137.03L402 137.08L402.25 137.12L402.5 137.16L402.75 137.2L403 137.24L403.25 137.28L403.5 137.32L403.75 137.36L404 137.4L404.25 137.44L404.5 137.48L404.75 137.52L405 137.56L405.25 137.6L405.5 137.64L405.75 137.68L406 137.72L406.25 137.77L406.5 137.81L406.75 137.85L407 137.89L407.25 137.93L407.5 137.97L407.75 138.01L408 138.05L408.25 138.09L408.5 138.13L408.75 138.17L409 138.21L409.25 138.25L409.5 138.29L409.75 138.33L410 138.38L410.25 138.42L410.5 138.46L410.75 138.5L411 138.54L411.25 138.58L411.5 138.62L411.75 138.66L412 138.7L412.25 138.74L412.5 138.78L412.75 138.82L413 138.86L413.25 138.9L413.5 138.94L413.75 138.98L414 139.03L414.25 139.07L414.5 139.11L414.75 139.15L415 139.19L415.25 139.23L415.5 139.27L415.75 139.31L416 139.35L416.25 139.39L416.5 139.43L416.75 139.47L417 139.51L417.25 139.55L417.5 139.59L417.75 139.63L418 139.68L418.25 139.72L418.5 139.76L418.75 139.8L419 139.84L419.25 139.88L419.5 139.92L419.75 139.96L420 140L420.25 140.04L420.5 140.07L420.75 140.11L421 140.15L421.25 140.19L421.5 140.22L421.75 140.26L422 140.3L422.25 140.34L422.5 140.38L422.75 140.41L423 140.45L423.25 140.49L423.5 140.53L423.75 140.56L424 140.6L424.25 140.64L424.5 140.68L424.75 140.71L425 140.75L425.25 140.79L425.5 140.82L425.75 140.86L426 140.9L426.25 140.94L426.5 140.97L426.75 141.01L427 141.05L427.25 141.09L427.5 141.12L427.75 141.16L428 141.2L428.25 141.24L428.5 141.28L428.75 141.31L429 141.35L429.25 141.39L429.5 141.43L429.75 141.46L430 141.5L430.25 141.54L430.5 141.58L430.75 141.61L431 141.65L431.25 141.69L431.5 141.73L431.75 141.76L432 141.8L432.25 141.84L432.5 141.88L432.75 141.91L433 141.95L433.25 141.99L433.5 142.03L433.75 142.06L434 142.1L434.25 142.14L434.5 142.18L434.75 142.21L435 142.25L435.25 142.29L435.5 142.33L435.75 142.36L436 142.4L436.25 142.44L436.5 142.48L436.75 142.51L437 142.55L437.25 142.59L437.5 142.63L437.75 142.66L438 142.7L438.25 142.74L438.5 142.78L438.75 142.81L439 142.85L439.25 142.89L439.5 142.93L439.75 142.96L440 143L440.25 143.04L440.5 143.08L440.75 143.11L441 143.15L441.25 143.19L441.5 143.23L441.75 143.26L442 143.3L442.25 143.34L442.5 143.38L442.75 143.41L443 143.45L443.25 143.49L443.5 143.53L443.75 143.56L444 143.6L444.25 143.64L444.5 143.68L444.75 143.71L445 143.75L445.25 143.79L445.5 143.83L445.75 143.86L446 143.9L446.25 143.94L446.5 143.98L446.75 144.01L447 144.05L447.25 144.09L447.5 144.13L447.75 144.16L448 144.2L448.25 144.24L448.5 144.28L448.75 144.31L449 144.35L449.25 144.39L449.5 144.43L449.75 144.46L450 144.5L450.25 144.54L450.5 144.57L450.75 144.61L451 144.65L451.25 144.68L451.5 144.72L451.75 144.76L452 144.79L452.25 144.83L452.5 144.87L452.75 144.91L453 144.95L453.25 144.98L453.5 145.03L453.75 145.07L454 145.11L454.25 145.15L454.5 145.2L454.75 145.24L455 145.29L455.25 145.34L455.5 145.39L455.75 145.45L456 145.5L456.25 145.56L456.5 145.63L456.75 145.69L457 145.76L457.25 145.84L457.5 145.91L457.75 146L458 146.08L458.25 146.18L458.5 146.27L458.75 146.38L459 146.49L459.25 146.6L459.5 146.73L459.75 146.86L460 146.99L460.25 147.14L460.5 147.29L460.75 147.45L461 147.62L461.25 147.8L461.5 147.98L461.75 148.17L462 148.37L462.25 148.58L462.5 148.79L462.75 149.02L463 149.24L463.25 149.48L463.5 149.72L463.75 149.97L464 150.22L464.25 150.47L464.5 150.73L464.75 150.99L465 151.26L465.25 151.52L465.5 151.79L465.75 152.05L466 152.32L466.25 152.58L466.5 152.85L466.75 153.1L467 153.36L467.25 153.61L467.5 153.85L467.75 154.09L468 154.33L468.25 154.55L468.5 154.77L468.75 154.98L469 155.19L469.25 155.38L469.5 155.57L469.75 155.75L470 155.92L470.25 156.08L470.5 156.23L470.75 156.37L471 156.51L471.25 156.63L471.5 156.75L471.75 156.86L472 156.96L472.25 157.05L472.5 157.14L472.75 157.22L473 157.29L473.25 157.36L473.5 157.42L473.75 157.47L474 157.52L474.25 157.57L474.5 157.61L474.75 157.64L475 157.67L475 157.9Z"/>
<path class="g1i" d="M382.2 59.4L384.8 133.72"/>
<path class="ov" d="M379 157.9L379 157.65L379.25 157.56L379.5 157.43L379.75 157.27L380 157.06L380.25 156.81L380.5 156.49L380.75 156.11L381 155.65L381.25 155.11L381.5 154.49L381.75 153.78L382 152.98L382.25 152.1L382.5 151.14L382.75 150.12L383 149.04L383.25 147.91L383.5 146.77L383.75 145.61L384 144.47L384.25 143.36L384.5 142.29L384.75 141.28L385 140.34L385.25 139.48L385.5 138.71L385.75 138.02L386 137.42L386.25 136.91L386.5 136.47L386.75 136.11L387 135.81L387.25 135.57L387.5 136.64L387.75 140.87L388 143.02L388.25 145.08L388.5 147.15L388.75 149.22L389 151.28L389.25 153.35L389.5 154.28L389.75 155.19L390 156.09L390.25 157L390.25 157.9Z"/>
<path class="g2" fill="#4a4a4a" d="M439.75 157.9L439.75 157.67L440 157.64L440.25 157.61L440.5 157.57L440.75 157.53L441 157.48L441.25 157.43L441.5 157.37L441.75 157.31L442 157.24L442.25 157.17L442.5 157.08L442.75 156.99L443 156.89L443.25 156.79L443.5 156.67L443.75 156.55L444 156.41L444.25 156.27L444.5 156.11L444.75 155.94L445 155.77L445.25 155.58L445.5 155.38L445.75 155.16L446 154.94L446.25 154.7L446.5 154.45L446.75 154.19L447 153.91L447.25 153.63L447.5 153.33L447.75 153.02L448 152.71L448.25 152.38L448.5 152.04L448.75 151.7L449 151.35L449.25 150.99L449.5 150.62L449.75 150.26L450 149.89L450.25 149.52L450.5 149.15L450.75 148.78L451 148.41L451.25 148.05L451.5 147.7L451.75 147.35L452 147.02L452.25 146.69L452.5 146.38L452.75 146.09L453 145.81L453.25 145.55L453.5 145.31L453.75 145.09L454 144.89L454.25 144.71L454.5 144.56L454.75 144.44L455 144.34L455.25 144.27L455.5 144.22L455.75 144.2L456 144.21L456.25 144.24L456.5 144.31L456.75 144.4L457 144.51L457.25 144.65L457.5 144.82L457.75 145.01L458 145.22L458.25 145.45L458.5 145.7L458.75 145.97L459 146.26L459.25 146.57L459.5 146.89L459.75 147.22L460 147.56L460.25 147.91L460.5 148.27L460.75 148.63L461 149L461.25 149.37L461.5 149.74L461.75 150.11L462 150.48L462.25 150.84L462.5 151.2L462.75 151.56L463 151.91L463.25 152.25L463.5 152.58L463.75 152.9L464 153.21L464.25 153.51L464.5 153.8L464.75 154.08L465 154.35L465.25 154.6L465.5 154.84L465.75 155.07L466 155.29L466.25 155.5L466.5 155.69L466.75 155.87L467 156.05L467.25 156.21L467.5 156.36L467.75 156.49L468 156.62L468.25 156.74L468.5 156.85L468.75 156.95L469 157.05L469.25 157.13L469.5 157.21L469.75 157.28L470 157.35L470.25 157.41L470.5 157.46L470.75 157.51L471 157.56L471.25 157.6L471.5 157.63L471.75 157.66L472 157.69L472 157.9Z"/>
<path class="g1ll" d="M375.75 157.7L376 156.7L376.25 155.7L376.5 154.7L376.75 153.7L377 151.53L377.25 148.88L377.5 146.23L377.75 143.58L378 140.75L378.25 133.04L378.5 125.33L378.75 117.62L379 107.61L379.25 96.52L379.5 84.22L379.75 70.43L380 60.28L380.25 54.85L380.5 51.34L380.75 48.45L381 47.24L381.25 46.35L381.5 45.67"/>
<path class="g1lr" d="M381.5 45.67L381.75 45.78L382 46.41L382.25 47.24L382.5 48.31L382.75 50.24L383 52.79L383.25 55.34L383.5 58.67L383.75 62.82L384 67.81L384.25 73.39L384.5 78.97L384.75 84.55L385 90.13L385.25 95.24L385.5 100.32L385.75 105.4L386 110.48L386.25 115.49L386.5 119.72L386.75 123.95L387 128.18L387.25 132.41L387.5 136.64L387.75 140.87L388 143.02L388.25 145.08L388.5 147.15L388.75 149.22L389 151.28L389.25 153.35L389.5 154.28L389.75 155.19L390 156.09L390.25 157"/>
<path class="spl" d="M379 157.65L379.25 157.56L379.5 157.43L379.75 157.27L380 157.06L380.25 156.81L380.5 156.49L380.75 156.11L381 155.65L381.25 155.11L381.5 154.49L381.75 153.78L382 152.98L382.25 152.1L382.5 151.14L382.75 150.12L383 149.04L383.25 147.91L383.5 146.77L383.75 145.61L384 144.47L384.25 143.36L384.5 142.29L384.75 141.28L385 140.34L385.25 139.48L385.5 138.71L385.75 138.02L386 137.42L386.25 136.91L386.5 136.47L386.75 136.11L387 135.81L387.25 135.57L387.5 135.38L387.75 135.23L388 135.12L388.25 135.07L388.5 135.05L388.75 135.04L389 135.04L389.25 135.06L389.5 135.08L389.75 135.11L390 135.14L390.25 135.18L390.5 135.21L390.75 135.25L391 135.29L391.25 135.33L391.5 135.37L391.75 135.41L392 135.45L392.25 135.49L392.5 135.53L392.75 135.57L393 135.61L393.25 135.65L393.5 135.69L393.75 135.73L394 135.78L394.25 135.82L394.5 135.86L394.75 135.9L395 135.94L395.25 135.98L395.5 136.02L395.75 136.06L396 136.1L396.25 136.14L396.5 136.18L396.75 136.22L397 136.26L397.25 136.3L397.5 136.34L397.75 136.38L398 136.43L398.25 136.47L398.5 136.51L398.75 136.55L399 136.59L399.25 136.63L399.5 136.67L399.75 136.71L400 136.75L400.25 136.79L400.5 136.83L400.75 136.87L401 136.91L401.25 136.95L401.5 136.99L401.75 137.03L402 137.08L402.25 137.12L402.5 137.16L402.75 137.2L403 137.24L403.25 137.28L403.5 137.32L403.75 137.36L404 137.4L404.25 137.44L404.5 137.48L404.75 137.52L405 137.56L405.25 137.6L405.5 137.64L405.75 137.68L406 137.72L406.25 137.77L406.5 137.81L406.75 137.85L407 137.89L407.25 137.93L407.5 137.97L407.75 138.01L408 138.05L408.25 138.09L408.5 138.13L408.75 138.17L409 138.21L409.25 138.25L409.5 138.29L409.75 138.33L410 138.38L410.25 138.42L410.5 138.46L410.75 138.5L411 138.54L411.25 138.58L411.5 138.62L411.75 138.66L412 138.7L412.25 138.74L412.5 138.78L412.75 138.82L413 138.86L413.25 138.9L413.5 138.94L413.75 138.98L414 139.03L414.25 139.07L414.5 139.11L414.75 139.15L415 139.19L415.25 139.23L415.5 139.27L415.75 139.31L416 139.35L416.25 139.39L416.5 139.43L416.75 139.47L417 139.51L417.25 139.55L417.5 139.59L417.75 139.63L418 139.68L418.25 139.72L418.5 139.76L418.75 139.8L419 139.84L419.25 139.88L419.5 139.92L419.75 139.96L420 140L420.25 140.04L420.5 140.07L420.75 140.11L421 140.15L421.25 140.19L421.5 140.22L421.75 140.26L422 140.3L422.25 140.34L422.5 140.38L422.75 140.41L423 140.45L423.25 140.49L423.5 140.53L423.75 140.56L424 140.6L424.25 140.64L424.5 140.68L424.75 140.71L425 140.75L425.25 140.79L425.5 140.82L425.75 140.86L426 140.9L426.25 140.94L426.5 140.97L426.75 141.01L427 141.05L427.25 141.09L427.5 141.12L427.75 141.16L428 141.2L428.25 141.24L428.5 141.28L428.75 141.31L429 141.35L429.25 141.39L429.5 141.43L429.75 141.46L430 141.5L430.25 141.54L430.5 141.58L430.75 141.61L431 141.65L431.25 141.69L431.5 141.73L431.75 141.76L432 141.8L432.25 141.84L432.5 141.88L432.75 141.91L433 141.95L433.25 141.99L433.5 142.03L433.75 142.06L434 142.1L434.25 142.14L434.5 142.18L434.75 142.21L435 142.25L435.25 142.29L435.5 142.33L435.75 142.36L436 142.4L436.25 142.44L436.5 142.48L436.75 142.51L437 142.55L437.25 142.59L437.5 142.63L437.75 142.66L438 142.7L438.25 142.74L438.5 142.78L438.75 142.81L439 142.85L439.25 142.89L439.5 142.93L439.75 142.96L440 143L440.25 143.04L440.5 143.08L440.75 143.11L441 143.15L441.25 143.19L441.5 143.23L441.75 143.26L442 143.3L442.25 143.34L442.5 143.38L442.75 143.41L443 143.45L443.25 143.49L443.5 143.53L443.75 143.56L444 143.6L444.25 143.64L444.5 143.68L444.75 143.71L445 143.75L445.25 143.79L445.5 143.83L445.75 143.86L446 143.9L446.25 143.94L446.5 143.98L446.75 144.01L447 144.05L447.25 144.09L447.5 144.13L447.75 144.16L448 144.2L448.25 144.24L448.5 144.28L448.75 144.31L449 144.35L449.25 144.39L449.5 144.43L449.75 144.46L450 144.5L450.25 144.54L450.5 144.57L450.75 144.61L451 144.65L451.25 144.68L451.5 144.72L451.75 144.76L452 144.79L452.25 144.83L452.5 144.87L452.75 144.91L453 144.95L453.25 144.98L453.5 145.03L453.75 145.07L454 145.11L454.25 145.15L454.5 145.2L454.75 145.24L455 145.29L455.25 145.34L455.5 145.39L455.75 145.45L456 145.5L456.25 145.56L456.5 145.63L456.75 145.69L457 145.76L457.25 145.84L457.5 145.91L457.75 146L458 146.08L458.25 146.18L458.5 146.27L458.75 146.38L459 146.49L459.25 146.6L459.5 146.73L459.75 146.86L460 146.99L460.25 147.14L460.5 147.29L460.75 147.45L461 147.62L461.25 147.8L461.5 147.98L461.75 148.17L462 148.37L462.25 148.58L462.5 148.79L462.75 149.02L463 149.24L463.25 149.48L463.5 149.72L463.75 149.97L464 150.22L464.25 150.47L464.5 150.73L464.75 150.99L465 151.26L465.25 151.52L465.5 151.79L465.75 152.05L466 152.32L466.25 152.58L466.5 152.85L466.75 153.1L467 153.36L467.25 153.61L467.5 153.85L467.75 154.09L468 154.33L468.25 154.55L468.5 154.77L468.75 154.98L469 155.19L469.25 155.38L469.5 155.57L469.75 155.75L470 155.92L470.25 156.08L470.5 156.23L470.75 156.37L471 156.51L471.25 156.63L471.5 156.75L471.75 156.86L472 156.96L472.25 157.05L472.5 157.14L472.75 157.22L473 157.29L473.25 157.36L473.5 157.42L473.75 157.47L474 157.52L474.25 157.57L474.5 157.61L474.75 157.64L475 157.67"/>
<path class="dots" d="M375.35 154.05h1.1M375.98 148.85h1.1M377.53 125.7h1.1M377.76 104.31h1.1M378.21 90.85h1.1M378.37 88.08h1.1M378.37 85.24h1.1M378.54 80.4h1.1M378.46 77.25h1.1M378.37 69.42h1.1M378.88 63.64h1.1M378.92 57.31h1.1M379.07 55.62h1.1M379.17 52.91h1.1M379.45 50.25h1.1M379.61 47.19h1.1M379.88 44.16h1.1M379.62 41.92h1.1M379.83 39.07h1.1M380.06 37.39h1.1M379.9 34.65h1.1M380.36 32.2h1.1M380.65 29.3h1.1M380.78 27.36h1.1M380.85 24.96h1.1M380.93 22.43h1.1M381.19 25.95h1.1M381.44 27.82h1.1M381.52 29.66h1.1M381.68 33.16h1.1M381.54 35.03h1.1M382.04 37.2h1.1M382.16 40.08h1.1M382.52 42.45h1.1M382.59 44.44h1.1M382.66 47.03h1.1M382.78 49.4h1.1M383.04 52.86h1.1M383.17 54.94h1.1M383.49 57.66h1.1M383.68 60.25h1.1M383.51 62.19h1.1M383.95 65.94h1.1M384.11 68.01h1.1M384.07 69.47h1.1M384.36 71.98h1.1M384.4 74.12h1.1M384.24 76.9h1.1M384.38 78.78h1.1M384.68 81.59h1.1M384.71 83.4h1.1M384.62 85.57h1.1M384.77 87.99h1.1M385.06 90.09h1.1M384.98 92.95h1.1M385.44 96.33h1.1M385.43 99.43h1.1M385.64 102.42h1.1M385.88 105.75h1.1M385.42 108.4h1.1M386.44 110.96h1.1M386.17 114.94h1.1M386.3 117.59h1.1M386.26 119.04h1.1M386.57 121.79h1.1M386.59 124.88h1.1M386.94 127.18h1.1M387.79 129.08h1.1M389.18 128.87h1.1M390.83 131.65h1.1M392.51 133.2h1.1M394.28 133.08h1.1M396.37 135.52h1.1M398.58 136.99h1.1M400.84 134.45h1.1M402.54 135.88h1.1M404.76 135.48h1.1M406.74 136.75h1.1M409.03 136.87h1.1M411.15 135.64h1.1M412.86 136.75h1.1M415.2 136.78h1.1M417.54 137.64h1.1M419.73 138.32h1.1M421.7 139.02h1.1M423.82 137.22h1.1M425.96 139.17h1.1M427.75 140.1h1.1M430.05 141.22h1.1M432.21 140.43h1.1M433.96 142.32h1.1M436.52 141.55h1.1M438.47 142.4h1.1M440.37 142.09h1.1M442.6 140.36h1.1M444.76 142.3h1.1M447.06 143.33h1.1M448.11 138.87h1.1M449.44 139.15h1.1M450.51 135.92h1.1M452.07 134.74h1.1M453.9 136.34h1.1M455.99 135.1h1.1M457.28 137.31h1.1M458.96 138.71h1.1M460.06 140.2h1.1M460.82 143.83h1.1M461.78 144.94h1.1M462.8 147.57h1.1M464.32 147.83h1.1M465.43 149.82h1.1M466.58 155.15h1.1M468.59 154.28h1.1M470.31 154.68h1.1M316 157.57h1.1M321.96 157.28h1.1M324.91 156.86h1.1M328.22 157.3h1.1M333.1 157.03h1.1M337.44 156.63h1.1M341.83 157.64h1.1M346.98 156.62h1.1M351.28 157.36h1.1"/>
<text class="tl" x="305.7" y="10.6" textLength="13" lengthAdjust="spacingAndGlyphs" text-anchor="end">160</text>
<text class="tl" x="305.7" y="29.9" textLength="13" lengthAdjust="spacingAndGlyphs" text-anchor="end">140</text>
<text class="tl" x="305.7" y="47.7" textLength="13" lengthAdjust="spacingAndGlyphs" text-anchor="end">120</text>
<text class="tl" x="305.7" y="66.5" textLength="13" lengthAdjust="spacingAndGlyphs" text-anchor="end">100</text>
<text class="tl" x="305.7" y="85.3" textLength="9.7" lengthAdjust="spacingAndGlyphs" text-anchor="end">80</text>
<text class="tl" x="305.7" y="104.2" textLength="9.7" lengthAdjust="spacingAndGlyphs" text-anchor="end">60</text>
<text class="tl" x="305.7" y="122.5" textLength="9.7" lengthAdjust="spacingAndGlyphs" text-anchor="end">40</text>
<text class="tl" x="305.7" y="141.3" textLength="9.7" lengthAdjust="spacingAndGlyphs" text-anchor="end">20</text>
<text class="tl" x="305.7" y="159.5" textLength="4.7" lengthAdjust="spacingAndGlyphs" text-anchor="end">0</text>
<text class="tl" x="308.5" y="164" textLength="4.7" lengthAdjust="spacingAndGlyphs" text-anchor="middle">0</text>
<text class="tl" x="349.5" y="164" textLength="9.7" lengthAdjust="spacingAndGlyphs" text-anchor="middle">40</text>
<text class="tl" x="391" y="164" textLength="9.7" lengthAdjust="spacingAndGlyphs" text-anchor="middle">80</text>
<text class="tl" x="431.5" y="164" textLength="13" lengthAdjust="spacingAndGlyphs" text-anchor="middle">120</text>
<text class="tl" x="471.5" y="164" textLength="13" lengthAdjust="spacingAndGlyphs" text-anchor="middle">160</text>
<text class="tl" x="508.8" y="164" textLength="14.7" lengthAdjust="spacingAndGlyphs" text-anchor="middle">200</text>
<text class="ax" text-anchor="middle" transform="translate(282.3 85.7) rotate(-90)">Cell Number</text>
<text class="axd" text-anchor="middle" x="390.3" y="175.7" textLength="49.4" lengthAdjust="spacingAndGlyphs">DNA content</text>
<text class="letter" x="272.4" y="17.7">B</text>
<text class="st" x="406.8" y="33.9" textLength="39.5" lengthAdjust="spacingAndGlyphs">32D/β4</text>
<text class="st" x="406.8" y="63.9" textLength="17.2" lengthAdjust="spacingAndGlyphs">G1</text>
<text class="st" x="406.8" y="78.9" textLength="8" lengthAdjust="spacingAndGlyphs">S</text>
<text class="st" x="406.8" y="93.9" textLength="30.4" lengthAdjust="spacingAndGlyphs">G2/M</text>
<text class="st" x="446" y="63.9" textLength="32.1" lengthAdjust="spacingAndGlyphs">32.9%</text>
<text class="st" x="444.4" y="78.9" textLength="32.6" lengthAdjust="spacingAndGlyphs">57.2%</text>
<text class="st" x="452.9" y="93.9" textLength="25.2" lengthAdjust="spacingAndGlyphs">9.5%</text>
</g>
<g id="panelC">
<path class="base" d="M43.6 346.8H250.1"/>
<path class="g1" d="M85.6 346.5L85.6 346.21L85.85 345.47L86.1 344.74L86.35 344.01L86.6 343.27L86.85 342.54L87.1 341.27L87.35 339.45L87.6 337.64L87.85 335.82L88.1 334.01L88.35 332.19L88.6 330.38L88.85 326.16L89.1 321.78L89.35 317.39L89.6 313L89.85 308.61L90.1 303.89L90.35 298.22L90.6 292.55L90.85 286.88L91.1 281.15L91.35 274.63L91.6 268.1L91.85 261.57L92.1 255.59L92.35 251.32L92.6 247.95L92.85 245.63L93.1 243.31L93.35 241.27L93.6 240.39L93.85 239.51L94.1 239L94.35 238.5L94.6 238.4L94.85 238.89L95.1 239.39L95.35 240.18L95.6 241.04L95.85 242.62L96.1 244.82L96.35 247.03L96.6 249.4L96.85 253.3L97.1 257.48L97.35 263.18L97.6 268.88L97.85 274.59L98.1 280.29L98.35 285.47L98.6 290.51L98.85 295.55L99.1 300.59L99.35 305.57L99.6 309.57L99.85 313.57L100.1 317.57L100.35 321.57L100.6 325.57L100.85 329.57L101.1 331.7L101.35 333.44L101.6 335.19L101.85 336.93L102.1 338.68L102.35 340.42L102.6 342.17L102.85 342.89L103.1 343.61L103.35 344.33L103.6 345.06L103.85 345.78L103.85 346.5Z"/>
<path class="g1s" d="M85.6 346.5L85.6 346.21L85.85 345.47L86.1 344.74L86.35 344.01L86.6 343.27L86.85 342.54L87.1 341.27L87.35 339.45L87.6 337.64L87.85 335.82L88.1 334.01L88.35 332.19L88.6 330.38L88.85 326.16L89.1 321.78L89.35 317.39L89.6 313L89.85 308.61L90.1 303.89L90.35 298.22L90.6 292.55L90.85 286.88L91.1 281.15L91.35 274.63L91.6 268.1L91.85 261.57L92.1 255.59L92.35 251.32L92.6 247.95L92.85 245.63L93.1 243.31L93.35 241.27L93.6 240.39L93.85 239.51L94.1 239L94.35 238.5L94.6 238.4L94.85 238.89L95.1 239.39L95.35 240.18L95.6 241.04L95.85 242.62L96.1 244.82L96.35 247.03L96.6 249.4L96.85 253.3L97.1 257.48L97.35 263.18L97.6 268.88L97.85 274.59L98.1 280.29L98.35 285.47L98.6 290.51L98.85 295.55L99.1 300.59L99.35 305.57L99.6 309.57L99.85 313.57L100.1 317.57L100.35 321.57L100.6 325.57L100.85 329.57L101.1 331.7L101.35 333.44L101.6 335.19L101.85 336.93L102.1 338.68L102.35 340.42L102.6 342.17L102.85 342.89L103.1 343.61L103.35 344.33L103.6 345.06L103.85 345.78L103.85 346.5Z"/>
<path class="sp" fill="url(#sgC)" d="M94.6 346.5L94.6 346.24L94.85 346.15L95.1 346.04L95.35 345.9L95.6 345.73L95.85 345.52L96.1 345.27L96.35 344.97L96.6 344.62L96.85 344.21L97.1 343.74L97.35 343.2L97.6 342.61L97.85 341.96L98.1 341.24L98.35 340.48L98.6 339.66L98.85 338.81L99.1 337.93L99.35 337.04L99.6 336.13L99.85 335.23L100.1 334.35L100.35 333.5L100.6 332.68L100.85 331.9L101.1 331.18L101.35 330.52L101.6 329.92L101.85 329.38L102.1 328.9L102.35 328.49L102.6 328.13L102.85 327.82L103.1 327.57L103.35 327.35L103.6 327.18L103.85 327.04L104.1 326.93L104.35 326.85L104.6 326.78L104.85 326.73L105.1 326.69L105.35 326.67L105.6 326.65L105.85 326.64L106.1 326.63L106.35 326.62L106.6 326.62L106.85 326.62L107.1 326.62L107.35 326.63L107.6 326.63L107.85 326.63L108.1 326.64L108.35 326.64L108.6 326.64L108.85 326.65L109.1 326.65L109.35 326.66L109.6 326.66L109.85 326.66L110.1 326.67L110.35 326.67L110.6 326.68L110.85 326.68L111.1 326.69L111.35 326.69L111.6 326.69L111.85 326.7L112.1 326.7L112.35 326.71L112.6 326.71L112.85 326.71L113.1 326.72L113.35 326.72L113.6 326.73L113.85 326.73L114.1 326.74L114.35 326.74L114.6 326.74L114.85 326.75L115.1 326.75L115.35 326.76L115.6 326.76L115.85 326.76L116.1 326.77L116.35 326.77L116.6 326.78L116.85 326.78L117.1 326.79L117.35 326.79L117.6 326.79L117.85 326.8L118.1 326.8L118.35 326.81L118.6 326.81L118.85 326.81L119.1 326.82L119.35 326.82L119.6 326.83L119.85 326.83L120.1 326.84L120.35 326.84L120.6 326.84L120.85 326.85L121.1 326.85L121.35 326.86L121.6 326.86L121.85 326.86L122.1 326.87L122.35 326.87L122.6 326.88L122.85 326.88L123.1 326.89L123.35 326.89L123.6 326.89L123.85 326.9L124.1 326.9L124.35 326.91L124.6 326.91L124.85 326.91L125.1 326.92L125.35 326.92L125.6 326.93L125.85 326.93L126.1 326.94L126.35 326.94L126.6 326.94L126.85 326.95L127.1 326.95L127.35 326.96L127.6 326.96L127.85 326.96L128.1 326.97L128.35 326.97L128.6 326.98L128.85 326.98L129.1 326.99L129.35 326.99L129.6 326.99L129.85 327L130.1 327.01L130.35 327.03L130.6 327.05L130.85 327.07L131.1 327.09L131.35 327.11L131.6 327.13L131.85 327.15L132.1 327.17L132.35 327.19L132.6 327.21L132.85 327.23L133.1 327.25L133.35 327.27L133.6 327.3L133.85 327.32L134.1 327.34L134.35 327.36L134.6 327.39L134.85 327.41L135.1 327.44L135.35 327.46L135.6 327.49L135.85 327.52L136.1 327.55L136.35 327.58L136.6 327.62L136.85 327.65L137.1 327.69L137.35 327.74L137.6 327.79L137.85 327.84L138.1 327.89L138.35 327.96L138.6 328.02L138.85 328.1L139.1 328.18L139.35 328.27L139.6 328.37L139.85 328.48L140.1 328.6L140.35 328.73L140.6 328.87L140.85 329.02L141.1 329.19L141.35 329.37L141.6 329.57L141.85 329.78L142.1 330.01L142.35 330.26L142.6 330.52L142.85 330.79L143.1 331.09L143.35 331.4L143.6 331.73L143.85 332.07L144.1 332.43L144.35 332.81L144.6 333.2L144.85 333.6L145.1 334.01L145.35 334.44L145.6 334.88L145.85 335.32L146.1 335.77L146.35 336.23L146.6 336.69L146.85 337.15L147.1 337.61L147.35 338.08L147.6 338.53L147.85 338.98L148.1 339.43L148.35 339.87L148.6 340.29L148.85 340.71L149.1 341.11L149.35 341.5L149.6 341.88L149.85 342.24L150.1 342.58L150.35 342.9L150.6 343.21L150.85 343.51L151.1 343.78L151.35 344.04L151.6 344.28L151.85 344.5L152.1 344.71L152.35 344.9L152.6 345.07L152.85 345.23L153.1 345.38L153.35 345.51L153.6 345.63L153.85 345.74L154.1 345.83L154.35 345.92L154.6 346L154.85 346.06L155.1 346.12L155.35 346.18L155.6 346.22L155.85 346.26L156.1 346.3L156.1 346.5Z"/>
<path class="sps" d="M94.6 346.5L94.6 346.24L94.85 346.15L95.1 346.04L95.35 345.9L95.6 345.73L95.85 345.52L96.1 345.27L96.35 344.97L96.6 344.62L96.85 344.21L97.1 343.74L97.35 343.2L97.6 342.61L97.85 341.96L98.1 341.24L98.35 340.48L98.6 339.66L98.85 338.81L99.1 337.93L99.35 337.04L99.6 336.13L99.85 335.23L100.1 334.35L100.35 333.5L100.6 332.68L100.85 331.9L101.1 331.18L101.35 330.52L101.6 329.92L101.85 329.38L102.1 328.9L102.35 328.49L102.6 328.13L102.85 327.82L103.1 327.57L103.35 327.35L103.6 327.18L103.85 327.04L104.1 326.93L104.35 326.85L104.6 326.78L104.85 326.73L105.1 326.69L105.35 326.67L105.6 326.65L105.85 326.64L106.1 326.63L106.35 326.62L106.6 326.62L106.85 326.62L107.1 326.62L107.35 326.63L107.6 326.63L107.85 326.63L108.1 326.64L108.35 326.64L108.6 326.64L108.85 326.65L109.1 326.65L109.35 326.66L109.6 326.66L109.85 326.66L110.1 326.67L110.35 326.67L110.6 326.68L110.85 326.68L111.1 326.69L111.35 326.69L111.6 326.69L111.85 326.7L112.1 326.7L112.35 326.71L112.6 326.71L112.85 326.71L113.1 326.72L113.35 326.72L113.6 326.73L113.85 326.73L114.1 326.74L114.35 326.74L114.6 326.74L114.85 326.75L115.1 326.75L115.35 326.76L115.6 326.76L115.85 326.76L116.1 326.77L116.35 326.77L116.6 326.78L116.85 326.78L117.1 326.79L117.35 326.79L117.6 326.79L117.85 326.8L118.1 326.8L118.35 326.81L118.6 326.81L118.85 326.81L119.1 326.82L119.35 326.82L119.6 326.83L119.85 326.83L120.1 326.84L120.35 326.84L120.6 326.84L120.85 326.85L121.1 326.85L121.35 326.86L121.6 326.86L121.85 326.86L122.1 326.87L122.35 326.87L122.6 326.88L122.85 326.88L123.1 326.89L123.35 326.89L123.6 326.89L123.85 326.9L124.1 326.9L124.35 326.91L124.6 326.91L124.85 326.91L125.1 326.92L125.35 326.92L125.6 326.93L125.85 326.93L126.1 326.94L126.35 326.94L126.6 326.94L126.85 326.95L127.1 326.95L127.35 326.96L127.6 326.96L127.85 326.96L128.1 326.97L128.35 326.97L128.6 326.98L128.85 326.98L129.1 326.99L129.35 326.99L129.6 326.99L129.85 327L130.1 327.01L130.35 327.03L130.6 327.05L130.85 327.07L131.1 327.09L131.35 327.11L131.6 327.13L131.85 327.15L132.1 327.17L132.35 327.19L132.6 327.21L132.85 327.23L133.1 327.25L133.35 327.27L133.6 327.3L133.85 327.32L134.1 327.34L134.35 327.36L134.6 327.39L134.85 327.41L135.1 327.44L135.35 327.46L135.6 327.49L135.85 327.52L136.1 327.55L136.35 327.58L136.6 327.62L136.85 327.65L137.1 327.69L137.35 327.74L137.6 327.79L137.85 327.84L138.1 327.89L138.35 327.96L138.6 328.02L138.85 328.1L139.1 328.18L139.35 328.27L139.6 328.37L139.85 328.48L140.1 328.6L140.35 328.73L140.6 328.87L140.85 329.02L141.1 329.19L141.35 329.37L141.6 329.57L141.85 329.78L142.1 330.01L142.35 330.26L142.6 330.52L142.85 330.79L143.1 331.09L143.35 331.4L143.6 331.73L143.85 332.07L144.1 332.43L144.35 332.81L144.6 333.2L144.85 333.6L145.1 334.01L145.35 334.44L145.6 334.88L145.85 335.32L146.1 335.77L146.35 336.23L146.6 336.69L146.85 337.15L147.1 337.61L147.35 338.08L147.6 338.53L147.85 338.98L148.1 339.43L148.35 339.87L148.6 340.29L148.85 340.71L149.1 341.11L149.35 341.5L149.6 341.88L149.85 342.24L150.1 342.58L150.35 342.9L150.6 343.21L150.85 343.51L151.1 343.78L151.35 344.04L151.6 344.28L151.85 344.5L152.1 344.71L152.35 344.9L152.6 345.07L152.85 345.23L153.1 345.38L153.35 345.51L153.6 345.63L153.85 345.74L154.1 345.83L154.35 345.92L154.6 346L154.85 346.06L155.1 346.12L155.35 346.18L155.6 346.22L155.85 346.26L156.1 346.3L156.1 346.5Z"/>
<path class="g1i" d="M95.1 252.2L96.98 325.42"/>
<path class="ov" d="M94.6 346.5L94.6 346.24L94.85 346.15L95.1 346.04L95.35 345.9L95.6 345.73L95.85 345.52L96.1 345.27L96.35 344.97L96.6 344.62L96.85 344.21L97.1 343.74L97.35 343.2L97.6 342.61L97.85 341.96L98.1 341.24L98.35 340.48L98.6 339.66L98.85 338.81L99.1 337.93L99.35 337.04L99.6 336.13L99.85 335.23L100.1 334.35L100.35 333.5L100.6 332.68L100.85 331.9L101.1 331.7L101.35 333.44L101.6 335.19L101.85 336.93L102.1 338.68L102.35 340.42L102.6 342.17L102.85 342.89L103.1 343.61L103.35 344.33L103.6 345.06L103.85 345.78L103.85 346.5Z"/>
<path class="g2" fill="#2a2a2a" d="M130.85 346.5L130.85 346.29L131.1 346.25L131.35 346.22L131.6 346.17L131.85 346.12L132.1 346.06L132.35 345.99L132.6 345.92L132.85 345.84L133.1 345.75L133.35 345.64L133.6 345.53L133.85 345.4L134.1 345.27L134.35 345.12L134.6 344.95L134.85 344.77L135.1 344.58L135.35 344.37L135.6 344.14L135.85 343.9L136.1 343.64L136.35 343.36L136.6 343.07L136.85 342.77L137.1 342.44L137.35 342.1L137.6 341.75L137.85 341.39L138.1 341.01L138.35 340.62L138.6 340.22L138.85 339.82L139.1 339.41L139.35 339L139.6 338.59L139.85 338.18L140.1 337.77L140.35 337.38L140.6 336.99L140.85 336.61L141.1 336.25L141.35 335.91L141.6 335.59L141.85 335.29L142.1 335.02L142.35 334.78L142.6 334.57L142.85 334.38L143.1 334.24L143.35 334.12L143.6 334.05L143.85 334.01L144.1 334L144.35 334.04L144.6 334.11L144.85 334.21L145.1 334.35L145.35 334.53L145.6 334.73L145.85 334.97L146.1 335.24L146.35 335.53L146.6 335.85L146.85 336.18L147.1 336.54L147.35 336.91L147.6 337.3L147.85 337.69L148.1 338.1L148.35 338.51L148.6 338.92L148.85 339.33L149.1 339.74L149.35 340.14L149.6 340.54L149.85 340.93L150.1 341.31L150.35 341.68L150.6 342.03L150.85 342.38L151.1 342.7L151.35 343.01L151.6 343.31L151.85 343.59L152.1 343.85L152.35 344.09L152.6 344.32L152.85 344.54L153.1 344.73L153.35 344.92L153.6 345.08L153.85 345.24L154.1 345.38L154.35 345.51L154.6 345.62L154.85 345.73L155.1 345.82L155.35 345.9L155.6 345.98L155.85 346.05L156.1 346.11L156.35 346.16L156.6 346.21L156.85 346.25L157.1 346.28L157.1 346.5Z"/>
<path class="g1ll" d="M85.6 346.21L85.85 345.47L86.1 344.74L86.35 344.01L86.6 343.27L86.85 342.54L87.1 341.27L87.35 339.45L87.6 337.64L87.85 335.82L88.1 334.01L88.35 332.19L88.6 330.38L88.85 326.16L89.1 321.78L89.35 317.39L89.6 313L89.85 308.61L90.1 303.89L90.35 298.22L90.6 292.55L90.85 286.88L91.1 281.15L91.35 274.63L91.6 268.1L91.85 261.57L92.1 255.59L92.35 251.32L92.6 247.95L92.85 245.63L93.1 243.31L93.35 241.27L93.6 240.39L93.85 239.51L94.1 239L94.35 238.5L94.6 238.4"/>
<path class="g1lr" d="M94.6 238.4L94.85 238.89L95.1 239.39L95.35 240.18L95.6 241.04L95.85 242.62L96.1 244.82L96.35 247.03L96.6 249.4L96.85 253.3L97.1 257.48L97.35 263.18L97.6 268.88L97.85 274.59L98.1 280.29L98.35 285.47L98.6 290.51L98.85 295.55L99.1 300.59L99.35 305.57L99.6 309.57L99.85 313.57L100.1 317.57L100.35 321.57L100.6 325.57L100.85 329.57L101.1 331.7L101.35 333.44L101.6 335.19L101.85 336.93L102.1 338.68L102.35 340.42L102.6 342.17L102.85 342.89L103.1 343.61L103.35 344.33L103.6 345.06L103.85 345.78"/>
<path class="spl" d="M94.6 346.24L94.85 346.15L95.1 346.04L95.35 345.9L95.6 345.73L95.85 345.52L96.1 345.27L96.35 344.97L96.6 344.62L96.85 344.21L97.1 343.74L97.35 343.2L97.6 342.61L97.85 341.96L98.1 341.24L98.35 340.48L98.6 339.66L98.85 338.81L99.1 337.93L99.35 337.04L99.6 336.13L99.85 335.23L100.1 334.35L100.35 333.5L100.6 332.68L100.85 331.9L101.1 331.18L101.35 330.52L101.6 329.92L101.85 329.38L102.1 328.9L102.35 328.49L102.6 328.13L102.85 327.82L103.1 327.57L103.35 327.35L103.6 327.18L103.85 327.04L104.1 326.93L104.35 326.85L104.6 326.78L104.85 326.73L105.1 326.69L105.35 326.67L105.6 326.65L105.85 326.64L106.1 326.63L106.35 326.62L106.6 326.62L106.85 326.62L107.1 326.62L107.35 326.63L107.6 326.63L107.85 326.63L108.1 326.64L108.35 326.64L108.6 326.64L108.85 326.65L109.1 326.65L109.35 326.66L109.6 326.66L109.85 326.66L110.1 326.67L110.35 326.67L110.6 326.68L110.85 326.68L111.1 326.69L111.35 326.69L111.6 326.69L111.85 326.7L112.1 326.7L112.35 326.71L112.6 326.71L112.85 326.71L113.1 326.72L113.35 326.72L113.6 326.73L113.85 326.73L114.1 326.74L114.35 326.74L114.6 326.74L114.85 326.75L115.1 326.75L115.35 326.76L115.6 326.76L115.85 326.76L116.1 326.77L116.35 326.77L116.6 326.78L116.85 326.78L117.1 326.79L117.35 326.79L117.6 326.79L117.85 326.8L118.1 326.8L118.35 326.81L118.6 326.81L118.85 326.81L119.1 326.82L119.35 326.82L119.6 326.83L119.85 326.83L120.1 326.84L120.35 326.84L120.6 326.84L120.85 326.85L121.1 326.85L121.35 326.86L121.6 326.86L121.85 326.86L122.1 326.87L122.35 326.87L122.6 326.88L122.85 326.88L123.1 326.89L123.35 326.89L123.6 326.89L123.85 326.9L124.1 326.9L124.35 326.91L124.6 326.91L124.85 326.91L125.1 326.92L125.35 326.92L125.6 326.93L125.85 326.93L126.1 326.94L126.35 326.94L126.6 326.94L126.85 326.95L127.1 326.95L127.35 326.96L127.6 326.96L127.85 326.96L128.1 326.97L128.35 326.97L128.6 326.98L128.85 326.98L129.1 326.99L129.35 326.99L129.6 326.99L129.85 327L130.1 327.01L130.35 327.03L130.6 327.05L130.85 327.07L131.1 327.09L131.35 327.11L131.6 327.13L131.85 327.15L132.1 327.17L132.35 327.19L132.6 327.21L132.85 327.23L133.1 327.25L133.35 327.27L133.6 327.3L133.85 327.32L134.1 327.34L134.35 327.36L134.6 327.39L134.85 327.41L135.1 327.44L135.35 327.46L135.6 327.49L135.85 327.52L136.1 327.55L136.35 327.58L136.6 327.62L136.85 327.65L137.1 327.69L137.35 327.74L137.6 327.79L137.85 327.84L138.1 327.89L138.35 327.96L138.6 328.02L138.85 328.1L139.1 328.18L139.35 328.27L139.6 328.37L139.85 328.48L140.1 328.6L140.35 328.73L140.6 328.87L140.85 329.02L141.1 329.19L141.35 329.37L141.6 329.57L141.85 329.78L142.1 330.01L142.35 330.26L142.6 330.52L142.85 330.79L143.1 331.09L143.35 331.4L143.6 331.73L143.85 332.07L144.1 332.43L144.35 332.81L144.6 333.2L144.85 333.6L145.1 334.01L145.35 334.44L145.6 334.88L145.85 335.32L146.1 335.77L146.35 336.23L146.6 336.69L146.85 337.15L147.1 337.61L147.35 338.08L147.6 338.53L147.85 338.98L148.1 339.43L148.35 339.87L148.6 340.29L148.85 340.71L149.1 341.11L149.35 341.5L149.6 341.88L149.85 342.24L150.1 342.58L150.35 342.9L150.6 343.21L150.85 343.51L151.1 343.78L151.35 344.04L151.6 344.28L151.85 344.5L152.1 344.71L152.35 344.9L152.6 345.07L152.85 345.23L153.1 345.38L153.35 345.51L153.6 345.63L153.85 345.74L154.1 345.83L154.35 345.92L154.6 346L154.85 346.06L155.1 346.12L155.35 346.18L155.6 346.22L155.85 346.26L156.1 346.3"/>
<path class="dots" d="M87.54 328.96h1.1M87.42 326.18h1.1M88.21 312.79h1.1M88.79 304.8h1.1M88.91 299.59h1.1M89.17 296.38h1.1M89.12 292.99h1.1M89.62 290.53h1.1M89.56 286.09h1.1M90.31 267.6h1.1M90.77 265.76h1.1M91.07 260.39h1.1M91.14 250.18h1.1M91.67 248.17h1.1M91.71 245.55h1.1M91.95 242.62h1.1M92.22 240.66h1.1M92.44 237.02h1.1M92.85 235.39h1.1M93.13 232.89h1.1M93 230.88h1.1M93.58 227.6h1.1M93.78 225.13h1.1M94.08 222.84h1.1M94.25 225.18h1.1M94.23 227.95h1.1M94.67 230.28h1.1M94.99 232.47h1.1M95.46 235.04h1.1M95.28 238.06h1.1M95.44 240.15h1.1M95.74 242.4h1.1M95.89 244.52h1.1M96.24 247.34h1.1M96.58 249.69h1.1M96.62 253.31h1.1M96.71 254.58h1.1M97.2 257.65h1.1M97.12 259.86h1.1M97.09 261.82h1.1M97.55 264.66h1.1M97.23 266.86h1.1M97.41 269.51h1.1M97.65 271.22h1.1M97.96 273.8h1.1M97.96 275.8h1.1M97.76 278.29h1.1M97.99 280.76h1.1M98.14 283.8h1.1M98.25 286.3h1.1M98.32 289.97h1.1M98.84 292.62h1.1M98.79 295.23h1.1M99 299.27h1.1M99.11 301.85h1.1M99.04 304.81h1.1M99.51 307.17h1.1M99.41 310h1.1M99.43 312.05h1.1M99.92 314.47h1.1M99.82 315.92h1.1M100.05 319.05h1.1M101.33 319.73h1.1M103.3 320.55h1.1M104.95 319.74h1.1M106.55 323.53h1.1M108.28 321.02h1.1M110.41 323.8h1.1M112.43 325.73h1.1M114.58 325.22h1.1M116.56 325.04h1.1M118.52 325.98h1.1M120.91 324.86h1.1M123.29 324.08h1.1M125.26 324.85h1.1M127.53 324.23h1.1M129.34 326.86h1.1M131.51 323.84h1.1M133.38 325.31h1.1M135.39 326.04h1.1M136.53 324h1.1M137.29 323.43h1.1M138.86 320.41h1.1M140.18 316.27h1.1M142.46 318.05h1.1M143.48 321.14h1.1M144.5 322.41h1.1M145.33 326.57h1.1M146.1 326.84h1.1M147.29 328.51h1.1M147.89 331.82h1.1M148.91 332.14h1.1M149.73 334.05h1.1M150.76 338.3h1.1M151.84 338.25h1.1M153.14 338.17h1.1M154.65 340.16h1.1M156.51 343.32h1.1M50 345.94h1.1M52.67 345.23h1.1M56.11 345.53h1.1M60.1 345.47h1.1M65.31 344.9h1.1M68 345.05h1.1M70.94 344.98h1.1M76.85 345.93h1.1M79.65 345.5h1.1M83.26 345.28h1.1M157 345.98h1.1M161.55 345.63h1.1M164.72 345.59h1.1M167.66 345.87h1.1M172.66 345.66h1.1M175.44 345.41h1.1M179.25 345.93h1.1M184.49 345.66h1.1M189.79 345.95h1.1M193.8 345.65h1.1M198.04 346.04h1.1M202.01 346.03h1.1M206.12 345.49h1.1M210.5 346.03h1.1M213.25 345.71h1.1M217.24 346.26h1.1M223.02 345.65h1.1M228.66 346.15h1.1M232.08 345.76h1.1M235.01 346.18h1.1M239.83 346.26h1.1M245.1 346h1.1"/>
<text class="tl" x="40.8" y="200.4" textLength="13" lengthAdjust="spacingAndGlyphs" text-anchor="end">120</text>
<text class="tl" x="40.8" y="225.4" textLength="13" lengthAdjust="spacingAndGlyphs" text-anchor="end">100</text>
<text class="tl" x="40.8" y="250.4" textLength="9.7" lengthAdjust="spacingAndGlyphs" text-anchor="end">80</text>
<text class="tl" x="40.8" y="275.4" textLength="9.7" lengthAdjust="spacingAndGlyphs" text-anchor="end">60</text>
<text class="tl" x="40.8" y="300.2" textLength="9.7" lengthAdjust="spacingAndGlyphs" text-anchor="end">40</text>
<text class="tl" x="40.8" y="324.4" textLength="9.7" lengthAdjust="spacingAndGlyphs" text-anchor="end">20</text>
<text class="tl" x="40.8" y="348.2" textLength="4.7" lengthAdjust="spacingAndGlyphs" text-anchor="end">0</text>
<text class="tl" x="43.6" y="353.2" textLength="4.7" lengthAdjust="spacingAndGlyphs" text-anchor="middle">0</text>
<text class="tl" x="73" y="353.2" textLength="9.7" lengthAdjust="spacingAndGlyphs" text-anchor="middle">40</text>
<text class="tl" x="103" y="353.2" textLength="9.7" lengthAdjust="spacingAndGlyphs" text-anchor="middle">80</text>
<text class="tl" x="132.3" y="353.2" textLength="13" lengthAdjust="spacingAndGlyphs" text-anchor="middle">120</text>
<text class="tl" x="161" y="353.2" textLength="13" lengthAdjust="spacingAndGlyphs" text-anchor="middle">160</text>
<text class="tl" x="190.2" y="353.2" textLength="14.7" lengthAdjust="spacingAndGlyphs" text-anchor="middle">200</text>
<text class="tl" x="220.2" y="353.2" textLength="14.7" lengthAdjust="spacingAndGlyphs" text-anchor="middle">240</text>
<text class="tl" x="244.6" y="353.2" textLength="14.7" lengthAdjust="spacingAndGlyphs" text-anchor="middle">280</text>
<text class="ax" text-anchor="middle" transform="translate(13.3 270) rotate(-90)">Cell Number</text>
<text class="axd" text-anchor="middle" x="124.2" y="361.9" textLength="49.4" lengthAdjust="spacingAndGlyphs">DNA content</text>
<text class="letter" x="5.2" y="208.4">C</text>
<text class="st" x="155.7" y="229.7" textLength="83.5" lengthAdjust="spacingAndGlyphs">32D/v-Abl/neo</text>
<text class="st" x="155.7" y="259.9" textLength="17.2" lengthAdjust="spacingAndGlyphs">G1</text>
<text class="st" x="155.7" y="275.1" textLength="8" lengthAdjust="spacingAndGlyphs">S</text>
<text class="st" x="155.7" y="289.3" textLength="30.4" lengthAdjust="spacingAndGlyphs">G2/M</text>
<text class="st" x="193.9" y="259.9" textLength="34.3" lengthAdjust="spacingAndGlyphs">41.9%</text>
<text class="st" x="193.2" y="275.1" textLength="34" lengthAdjust="spacingAndGlyphs">49.4%</text>
<text class="st" x="201.6" y="289.3" textLength="26.6" lengthAdjust="spacingAndGlyphs">8.7%</text>
</g>
<g id="panelD">
<path class="base" d="M307.8 342.7H509.6"/>
<path class="g1" d="M354.55 342.4L354.55 341.74L354.8 341.08L355.05 340.42L355.3 339.76L355.55 339.1L355.8 338.44L356.05 337.78L356.3 337.12L356.55 336.46L356.8 335.8L357.05 335.14L357.3 334.47L357.55 333.81L357.8 333.15L358.05 332.49L358.3 331.83L358.55 331.17L358.8 330.51L359.05 329.85L359.3 328.63L359.55 327.27L359.8 325.91L360.05 324.56L360.3 323.2L360.55 321.84L360.8 320.48L361.05 319.12L361.3 317.76L361.55 316.4L361.8 315.04L362.05 313.68L362.3 312.32L362.55 310.97L362.8 309.61L363.05 306.84L363.3 303.87L363.55 300.91L363.8 297.94L364.05 294.97L364.3 292L364.55 289.03L364.8 286.06L365.05 283.09L365.3 280.33L365.55 277.8L365.8 275.27L366.05 272.74L366.3 270.22L366.55 268L366.8 265.8L367.05 263.6L367.3 261.4L367.55 259.2L367.8 256.99L368.05 254.79L368.3 252.59L368.55 250.39L368.8 248.19L369.05 245.99L369.3 244.08L369.55 242.55L369.8 241.02L370.05 239.49L370.3 237.96L370.55 236.43L370.8 234.9L371.05 233.36L371.3 231.83L371.55 230.3L371.8 228.77L372.05 227.24L372.3 225.71L372.55 224.26L372.8 223.17L373.05 222.08L373.3 220.99L373.55 219.91L373.8 218.82L374.05 217.91L374.3 217.3L374.55 216.69L374.8 216.09L375.05 215.72L375.3 216.32L375.55 216.92L375.8 217.52L376.05 218.12L376.3 219.18L376.55 220.25L376.8 221.31L377.05 222.38L377.3 223.45L377.55 224.53L377.8 226.02L378.05 227.51L378.3 228.99L378.55 230.48L378.8 231.97L379.05 233.46L379.3 234.95L379.55 236.44L379.8 237.92L380.05 239.41L380.3 240.9L380.55 242.39L380.8 243.88L381.05 245.62L381.3 247.73L381.55 249.84L381.8 251.96L382.05 254.07L382.3 256.18L382.55 258.3L382.8 260.41L383.05 262.52L383.3 264.64L383.55 266.75L383.8 268.86L384.05 271.1L384.3 273.51L384.55 275.93L384.8 278.34L385.05 280.75L385.3 283.44L385.55 286.25L385.8 289.06L386.05 291.87L386.3 294.68L386.55 297.49L386.8 300.3L387.05 303.11L387.3 305.92L387.55 308.73L387.8 310.43L388.05 311.75L388.3 313.08L388.55 314.4L388.8 315.73L389.05 317.05L389.3 318.38L389.55 319.7L389.8 321.03L390.05 322.35L390.3 323.68L390.55 325L390.8 326.33L391.05 327.65L391.3 328.98L391.55 330.01L391.8 330.66L392.05 331.31L392.3 331.96L392.55 332.62L392.8 333.27L393.05 333.92L393.3 334.57L393.55 335.23L393.8 335.88L394.05 336.53L394.3 337.18L394.55 337.83L394.8 338.49L395.05 339.14L395.3 339.79L395.55 340.44L395.8 341.1L396.05 341.75L396.05 342.4Z"/>
<path class="g1s" d="M354.55 342.4L354.55 341.74L354.8 341.08L355.05 340.42L355.3 339.76L355.55 339.1L355.8 338.44L356.05 337.78L356.3 337.12L356.55 336.46L356.8 335.8L357.05 335.14L357.3 334.47L357.55 333.81L357.8 333.15L358.05 332.49L358.3 331.83L358.55 331.17L358.8 330.51L359.05 329.85L359.3 328.63L359.55 327.27L359.8 325.91L360.05 324.56L360.3 323.2L360.55 321.84L360.8 320.48L361.05 319.12L361.3 317.76L361.55 316.4L361.8 315.04L362.05 313.68L362.3 312.32L362.55 310.97L362.8 309.61L363.05 306.84L363.3 303.87L363.55 300.91L363.8 297.94L364.05 294.97L364.3 292L364.55 289.03L364.8 286.06L365.05 283.09L365.3 280.33L365.55 277.8L365.8 275.27L366.05 272.74L366.3 270.22L366.55 268L366.8 265.8L367.05 263.6L367.3 261.4L367.55 259.2L367.8 256.99L368.05 254.79L368.3 252.59L368.55 250.39L368.8 248.19L369.05 245.99L369.3 244.08L369.55 242.55L369.8 241.02L370.05 239.49L370.3 237.96L370.55 236.43L370.8 234.9L371.05 233.36L371.3 231.83L371.55 230.3L371.8 228.77L372.05 227.24L372.3 225.71L372.55 224.26L372.8 223.17L373.05 222.08L373.3 220.99L373.55 219.91L373.8 218.82L374.05 217.91L374.3 217.3L374.55 216.69L374.8 216.09L375.05 215.72L375.3 216.32L375.55 216.92L375.8 217.52L376.05 218.12L376.3 219.18L376.55 220.25L376.8 221.31L377.05 222.38L377.3 223.45L377.55 224.53L377.8 226.02L378.05 227.51L378.3 228.99L378.55 230.48L378.8 231.97L379.05 233.46L379.3 234.95L379.55 236.44L379.8 237.92L380.05 239.41L380.3 240.9L380.55 242.39L380.8 243.88L381.05 245.62L381.3 247.73L381.55 249.84L381.8 251.96L382.05 254.07L382.3 256.18L382.55 258.3L382.8 260.41L383.05 262.52L383.3 264.64L383.55 266.75L383.8 268.86L384.05 271.1L384.3 273.51L384.55 275.93L384.8 278.34L385.05 280.75L385.3 283.44L385.55 286.25L385.8 289.06L386.05 291.87L386.3 294.68L386.55 297.49L386.8 300.3L387.05 303.11L387.3 305.92L387.55 308.73L387.8 310.43L388.05 311.75L388.3 313.08L388.55 314.4L388.8 315.73L389.05 317.05L389.3 318.38L389.55 319.7L389.8 321.03L390.05 322.35L390.3 323.68L390.55 325L390.8 326.33L391.05 327.65L391.3 328.98L391.55 330.01L391.8 330.66L392.05 331.31L392.3 331.96L392.55 332.62L392.8 333.27L393.05 333.92L393.3 334.57L393.55 335.23L393.8 335.88L394.05 336.53L394.3 337.18L394.55 337.83L394.8 338.49L395.05 339.14L395.3 339.79L395.55 340.44L395.8 341.1L396.05 341.75L396.05 342.4Z"/>
<path class="sp" fill="url(#sgD)" d="M358.8 342.4L358.8 342.19L359.05 342.17L359.3 342.15L359.55 342.12L359.8 342.1L360.05 342.07L360.3 342.04L360.55 342.01L360.8 341.98L361.05 341.95L361.3 341.91L361.55 341.87L361.8 341.83L362.05 341.78L362.3 341.74L362.55 341.69L362.8 341.63L363.05 341.57L363.3 341.51L363.55 341.45L363.8 341.38L364.05 341.31L364.3 341.23L364.55 341.16L364.8 341.07L365.05 340.98L365.3 340.89L365.55 340.79L365.8 340.69L366.05 340.59L366.3 340.47L366.55 340.36L366.8 340.24L367.05 340.11L367.3 339.98L367.55 339.84L367.8 339.7L368.05 339.55L368.3 339.4L368.55 339.24L368.8 339.08L369.05 338.91L369.3 338.74L369.55 338.56L369.8 338.38L370.05 338.19L370.3 337.99L370.55 337.79L370.8 337.59L371.05 337.38L371.3 337.16L371.55 336.94L371.8 336.72L372.05 336.49L372.3 336.26L372.55 336.03L372.8 335.79L373.05 335.54L373.3 335.3L373.55 335.05L373.8 334.8L374.05 334.54L374.3 334.28L374.55 334.03L374.8 333.76L375.05 333.5L375.3 333.24L375.55 332.97L375.8 332.71L376.05 332.44L376.3 332.18L376.55 331.91L376.8 331.65L377.05 331.39L377.3 331.12L377.55 330.86L377.8 330.6L378.05 330.35L378.3 330.09L378.55 329.84L378.8 329.59L379.05 329.34L379.3 329.1L379.55 328.86L379.8 328.62L380.05 328.39L380.3 328.16L380.55 327.93L380.8 327.71L381.05 327.5L381.3 327.28L381.55 327.08L381.8 326.88L382.05 326.68L382.3 326.49L382.55 326.3L382.8 326.12L383.05 325.94L383.3 325.77L383.55 325.61L383.8 325.45L384.05 325.29L384.3 325.14L384.55 325L384.8 324.86L385.05 324.72L385.3 324.6L385.55 324.47L385.8 324.35L386.05 324.24L386.3 324.13L386.55 324.02L386.8 323.92L387.05 323.83L387.3 323.74L387.55 323.65L387.8 323.57L388.05 323.49L388.3 323.41L388.55 323.34L388.8 323.28L389.05 323.21L389.3 323.15L389.55 323.09L389.8 323.04L390.05 322.99L390.3 322.94L390.55 322.89L390.8 322.85L391.05 322.81L391.3 322.77L391.55 322.74L391.8 322.7L392.05 322.67L392.3 322.64L392.55 322.61L392.8 322.59L393.05 322.56L393.3 322.54L393.55 322.52L393.8 322.5L394.05 322.48L394.3 322.46L394.55 322.44L394.8 322.43L395.05 322.41L395.3 322.42L395.55 322.42L395.8 322.43L396.05 322.43L396.3 322.44L396.55 322.45L396.8 322.46L397.05 322.47L397.3 322.48L397.55 322.49L397.8 322.5L398.05 322.51L398.3 322.52L398.55 322.53L398.8 322.54L399.05 322.55L399.3 322.56L399.55 322.57L399.8 322.59L400.05 322.6L400.3 322.61L400.55 322.63L400.8 322.64L401.05 322.65L401.3 322.66L401.55 322.68L401.8 322.69L402.05 322.7L402.3 322.72L402.55 322.73L402.8 322.75L403.05 322.76L403.3 322.77L403.55 322.79L403.8 322.8L404.05 322.81L404.3 322.83L404.55 322.84L404.8 322.86L405.05 322.87L405.3 322.88L405.55 322.9L405.8 322.91L406.05 322.93L406.3 322.94L406.55 322.95L406.8 322.97L407.05 322.98L407.3 323L407.55 323.01L407.8 323.03L408.05 323.04L408.3 323.05L408.55 323.07L408.8 323.08L409.05 323.1L409.3 323.11L409.55 323.12L409.8 323.14L410.05 323.15L410.3 323.17L410.55 323.18L410.8 323.2L411.05 323.21L411.3 323.22L411.55 323.24L411.8 323.25L412.05 323.27L412.3 323.28L412.55 323.29L412.8 323.31L413.05 323.32L413.3 323.34L413.55 323.35L413.8 323.37L414.05 323.38L414.3 323.39L414.55 323.41L414.8 323.42L415.05 323.44L415.3 323.45L415.55 323.46L415.8 323.48L416.05 323.49L416.3 323.51L416.55 323.52L416.8 323.54L417.05 323.55L417.3 323.56L417.55 323.58L417.8 323.59L418.05 323.61L418.3 323.62L418.55 323.63L418.8 323.65L419.05 323.66L419.3 323.68L419.55 323.69L419.8 323.71L420.05 323.72L420.3 323.73L420.55 323.75L420.8 323.76L421.05 323.78L421.3 323.79L421.55 323.8L421.8 323.82L422.05 323.83L422.3 323.85L422.55 323.86L422.8 323.88L423.05 323.89L423.3 323.9L423.55 323.92L423.8 323.93L424.05 323.95L424.3 323.96L424.55 323.97L424.8 323.99L425.05 324.01L425.3 324.04L425.55 324.08L425.8 324.11L426.05 324.15L426.3 324.18L426.55 324.22L426.8 324.25L427.05 324.29L427.3 324.32L427.55 324.36L427.8 324.39L428.05 324.43L428.3 324.46L428.55 324.5L428.8 324.53L429.05 324.57L429.3 324.6L429.55 324.64L429.8 324.67L430.05 324.71L430.3 324.74L430.55 324.78L430.8 324.82L431.05 324.85L431.3 324.89L431.55 324.92L431.8 324.96L432.05 324.99L432.3 325.03L432.55 325.07L432.8 325.1L433.05 325.14L433.3 325.17L433.55 325.21L433.8 325.25L434.05 325.28L434.3 325.32L434.55 325.36L434.8 325.39L435.05 325.43L435.3 325.47L435.55 325.51L435.8 325.54L436.05 325.58L436.3 325.62L436.55 325.66L436.8 325.7L437.05 325.74L437.3 325.78L437.55 325.82L437.8 325.86L438.05 325.9L438.3 325.94L438.55 325.98L438.8 326.03L439.05 326.07L439.3 326.12L439.55 326.16L439.8 326.21L440.05 326.25L440.3 326.3L440.55 326.35L440.8 326.4L441.05 326.45L441.3 326.5L441.55 326.55L441.8 326.61L442.05 326.66L442.3 326.72L442.55 326.77L442.8 326.83L443.05 326.89L443.3 326.96L443.55 327.02L443.8 327.08L444.05 327.15L444.3 327.22L444.55 327.29L444.8 327.37L445.05 327.44L445.3 327.52L445.55 327.6L445.8 327.68L446.05 327.76L446.3 327.85L446.55 327.94L446.8 328.03L447.05 328.12L447.3 328.22L447.55 328.32L447.8 328.42L448.05 328.52L448.3 328.63L448.55 328.74L448.8 328.86L449.05 328.97L449.3 329.09L449.55 329.21L449.8 329.34L450.05 329.47L450.3 329.61L450.55 329.75L450.8 329.9L451.05 330.05L451.3 330.2L451.55 330.35L451.8 330.51L452.05 330.67L452.3 330.83L452.55 331L452.8 331.17L453.05 331.34L453.3 331.51L453.55 331.68L453.8 331.86L454.05 332.04L454.3 332.22L454.55 332.4L454.8 332.58L455.05 332.77L455.3 332.95L455.55 333.14L455.8 333.33L456.05 333.52L456.3 333.71L456.55 333.9L456.8 334.09L457.05 334.29L457.3 334.48L457.55 334.67L457.8 334.86L458.05 335.05L458.3 335.24L458.55 335.43L458.8 335.62L459.05 335.81L459.3 336L459.55 336.19L459.8 336.37L460.05 336.55L460.3 336.73L460.55 336.91L460.8 337.09L461.05 337.26L461.3 337.44L461.55 337.61L461.8 337.77L462.05 337.94L462.3 338.1L462.55 338.26L462.8 338.42L463.05 338.57L463.3 338.72L463.55 338.86L463.8 339.01L464.05 339.15L464.3 339.28L464.55 339.42L464.8 339.55L465.05 339.67L465.3 339.79L465.55 339.91L465.8 340.03L466.05 340.14L466.3 340.25L466.55 340.35L466.8 340.45L467.05 340.55L467.3 340.64L467.55 340.73L467.8 340.82L468.05 340.91L468.3 340.99L468.55 341.06L468.8 341.14L469.05 341.21L469.3 341.28L469.55 341.34L469.8 341.4L470.05 341.46L470.3 341.52L470.55 341.57L470.8 341.62L471.05 341.67L471.3 341.72L471.55 341.76L471.8 341.8L472.05 341.84L472.3 341.88L472.55 341.91L472.8 341.95L473.05 341.98L473.3 342.01L473.55 342.04L473.8 342.06L474.05 342.09L474.3 342.11L474.55 342.13L474.8 342.15L475.05 342.17L475.3 342.19L475.3 342.4Z"/>
<path class="sps" d="M358.8 342.4L358.8 342.19L359.05 342.17L359.3 342.15L359.55 342.12L359.8 342.1L360.05 342.07L360.3 342.04L360.55 342.01L360.8 341.98L361.05 341.95L361.3 341.91L361.55 341.87L361.8 341.83L362.05 341.78L362.3 341.74L362.55 341.69L362.8 341.63L363.05 341.57L363.3 341.51L363.55 341.45L363.8 341.38L364.05 341.31L364.3 341.23L364.55 341.16L364.8 341.07L365.05 340.98L365.3 340.89L365.55 340.79L365.8 340.69L366.05 340.59L366.3 340.47L366.55 340.36L366.8 340.24L367.05 340.11L367.3 339.98L367.55 339.84L367.8 339.7L368.05 339.55L368.3 339.4L368.55 339.24L368.8 339.08L369.05 338.91L369.3 338.74L369.55 338.56L369.8 338.38L370.05 338.19L370.3 337.99L370.55 337.79L370.8 337.59L371.05 337.38L371.3 337.16L371.55 336.94L371.8 336.72L372.05 336.49L372.3 336.26L372.55 336.03L372.8 335.79L373.05 335.54L373.3 335.3L373.55 335.05L373.8 334.8L374.05 334.54L374.3 334.28L374.55 334.03L374.8 333.76L375.05 333.5L375.3 333.24L375.55 332.97L375.8 332.71L376.05 332.44L376.3 332.18L376.55 331.91L376.8 331.65L377.05 331.39L377.3 331.12L377.55 330.86L377.8 330.6L378.05 330.35L378.3 330.09L378.55 329.84L378.8 329.59L379.05 329.34L379.3 329.1L379.55 328.86L379.8 328.62L380.05 328.39L380.3 328.16L380.55 327.93L380.8 327.71L381.05 327.5L381.3 327.28L381.55 327.08L381.8 326.88L382.05 326.68L382.3 326.49L382.55 326.3L382.8 326.12L383.05 325.94L383.3 325.77L383.55 325.61L383.8 325.45L384.05 325.29L384.3 325.14L384.55 325L384.8 324.86L385.05 324.72L385.3 324.6L385.55 324.47L385.8 324.35L386.05 324.24L386.3 324.13L386.55 324.02L386.8 323.92L387.05 323.83L387.3 323.74L387.55 323.65L387.8 323.57L388.05 323.49L388.3 323.41L388.55 323.34L388.8 323.28L389.05 323.21L389.3 323.15L389.55 323.09L389.8 323.04L390.05 322.99L390.3 322.94L390.55 322.89L390.8 322.85L391.05 322.81L391.3 322.77L391.55 322.74L391.8 322.7L392.05 322.67L392.3 322.64L392.55 322.61L392.8 322.59L393.05 322.56L393.3 322.54L393.55 322.52L393.8 322.5L394.05 322.48L394.3 322.46L394.55 322.44L394.8 322.43L395.05 322.41L395.3 322.42L395.55 322.42L395.8 322.43L396.05 322.43L396.3 322.44L396.55 322.45L396.8 322.46L397.05 322.47L397.3 322.48L397.55 322.49L397.8 322.5L398.05 322.51L398.3 322.52L398.55 322.53L398.8 322.54L399.05 322.55L399.3 322.56L399.55 322.57L399.8 322.59L400.05 322.6L400.3 322.61L400.55 322.63L400.8 322.64L401.05 322.65L401.3 322.66L401.55 322.68L401.8 322.69L402.05 322.7L402.3 322.72L402.55 322.73L402.8 322.75L403.05 322.76L403.3 322.77L403.55 322.79L403.8 322.8L404.05 322.81L404.3 322.83L404.55 322.84L404.8 322.86L405.05 322.87L405.3 322.88L405.55 322.9L405.8 322.91L406.05 322.93L406.3 322.94L406.55 322.95L406.8 322.97L407.05 322.98L407.3 323L407.55 323.01L407.8 323.03L408.05 323.04L408.3 323.05L408.55 323.07L408.8 323.08L409.05 323.1L409.3 323.11L409.55 323.12L409.8 323.14L410.05 323.15L410.3 323.17L410.55 323.18L410.8 323.2L411.05 323.21L411.3 323.22L411.55 323.24L411.8 323.25L412.05 323.27L412.3 323.28L412.55 323.29L412.8 323.31L413.05 323.32L413.3 323.34L413.55 323.35L413.8 323.37L414.05 323.38L414.3 323.39L414.55 323.41L414.8 323.42L415.05 323.44L415.3 323.45L415.55 323.46L415.8 323.48L416.05 323.49L416.3 323.51L416.55 323.52L416.8 323.54L417.05 323.55L417.3 323.56L417.55 323.58L417.8 323.59L418.05 323.61L418.3 323.62L418.55 323.63L418.8 323.65L419.05 323.66L419.3 323.68L419.55 323.69L419.8 323.71L420.05 323.72L420.3 323.73L420.55 323.75L420.8 323.76L421.05 323.78L421.3 323.79L421.55 323.8L421.8 323.82L422.05 323.83L422.3 323.85L422.55 323.86L422.8 323.88L423.05 323.89L423.3 323.9L423.55 323.92L423.8 323.93L424.05 323.95L424.3 323.96L424.55 323.97L424.8 323.99L425.05 324.01L425.3 324.04L425.55 324.08L425.8 324.11L426.05 324.15L426.3 324.18L426.55 324.22L426.8 324.25L427.05 324.29L427.3 324.32L427.55 324.36L427.8 324.39L428.05 324.43L428.3 324.46L428.55 324.5L428.8 324.53L429.05 324.57L429.3 324.6L429.55 324.64L429.8 324.67L430.05 324.71L430.3 324.74L430.55 324.78L430.8 324.82L431.05 324.85L431.3 324.89L431.55 324.92L431.8 324.96L432.05 324.99L432.3 325.03L432.55 325.07L432.8 325.1L433.05 325.14L433.3 325.17L433.55 325.21L433.8 325.25L434.05 325.28L434.3 325.32L434.55 325.36L434.8 325.39L435.05 325.43L435.3 325.47L435.55 325.51L435.8 325.54L436.05 325.58L436.3 325.62L436.55 325.66L436.8 325.7L437.05 325.74L437.3 325.78L437.55 325.82L437.8 325.86L438.05 325.9L438.3 325.94L438.55 325.98L438.8 326.03L439.05 326.07L439.3 326.12L439.55 326.16L439.8 326.21L440.05 326.25L440.3 326.3L440.55 326.35L440.8 326.4L441.05 326.45L441.3 326.5L441.55 326.55L441.8 326.61L442.05 326.66L442.3 326.72L442.55 326.77L442.8 326.83L443.05 326.89L443.3 326.96L443.55 327.02L443.8 327.08L444.05 327.15L444.3 327.22L444.55 327.29L444.8 327.37L445.05 327.44L445.3 327.52L445.55 327.6L445.8 327.68L446.05 327.76L446.3 327.85L446.55 327.94L446.8 328.03L447.05 328.12L447.3 328.22L447.55 328.32L447.8 328.42L448.05 328.52L448.3 328.63L448.55 328.74L448.8 328.86L449.05 328.97L449.3 329.09L449.55 329.21L449.8 329.34L450.05 329.47L450.3 329.61L450.55 329.75L450.8 329.9L451.05 330.05L451.3 330.2L451.55 330.35L451.8 330.51L452.05 330.67L452.3 330.83L452.55 331L452.8 331.17L453.05 331.34L453.3 331.51L453.55 331.68L453.8 331.86L454.05 332.04L454.3 332.22L454.55 332.4L454.8 332.58L455.05 332.77L455.3 332.95L455.55 333.14L455.8 333.33L456.05 333.52L456.3 333.71L456.55 333.9L456.8 334.09L457.05 334.29L457.3 334.48L457.55 334.67L457.8 334.86L458.05 335.05L458.3 335.24L458.55 335.43L458.8 335.62L459.05 335.81L459.3 336L459.55 336.19L459.8 336.37L460.05 336.55L460.3 336.73L460.55 336.91L460.8 337.09L461.05 337.26L461.3 337.44L461.55 337.61L461.8 337.77L462.05 337.94L462.3 338.1L462.55 338.26L462.8 338.42L463.05 338.57L463.3 338.72L463.55 338.86L463.8 339.01L464.05 339.15L464.3 339.28L464.55 339.42L464.8 339.55L465.05 339.67L465.3 339.79L465.55 339.91L465.8 340.03L466.05 340.14L466.3 340.25L466.55 340.35L466.8 340.45L467.05 340.55L467.3 340.64L467.55 340.73L467.8 340.82L468.05 340.91L468.3 340.99L468.55 341.06L468.8 341.14L469.05 341.21L469.3 341.28L469.55 341.34L469.8 341.4L470.05 341.46L470.3 341.52L470.55 341.57L470.8 341.62L471.05 341.67L471.3 341.72L471.55 341.76L471.8 341.8L472.05 341.84L472.3 341.88L472.55 341.91L472.8 341.95L473.05 341.98L473.3 342.01L473.55 342.04L473.8 342.06L474.05 342.09L474.3 342.11L474.55 342.13L474.8 342.15L475.05 342.17L475.3 342.19L475.3 342.4Z"/>
<path class="ov" d="M358.8 342.4L358.8 342.19L359.05 342.17L359.3 342.15L359.55 342.12L359.8 342.1L360.05 342.07L360.3 342.04L360.55 342.01L360.8 341.98L361.05 341.95L361.3 341.91L361.55 341.87L361.8 341.83L362.05 341.78L362.3 341.74L362.55 341.69L362.8 341.63L363.05 341.57L363.3 341.51L363.55 341.45L363.8 341.38L364.05 341.31L364.3 341.23L364.55 341.16L364.8 341.07L365.05 340.98L365.3 340.89L365.55 340.79L365.8 340.69L366.05 340.59L366.3 340.47L366.55 340.36L366.8 340.24L367.05 340.11L367.3 339.98L367.55 339.84L367.8 339.7L368.05 339.55L368.3 339.4L368.55 339.24L368.8 339.08L369.05 338.91L369.3 338.74L369.55 338.56L369.8 338.38L370.05 338.19L370.3 337.99L370.55 337.79L370.8 337.59L371.05 337.38L371.3 337.16L371.55 336.94L371.8 336.72L372.05 336.49L372.3 336.26L372.55 336.03L372.8 335.79L373.05 335.54L373.3 335.3L373.55 335.05L373.8 334.8L374.05 334.54L374.3 334.28L374.55 334.03L374.8 333.76L375.05 333.5L375.3 333.24L375.55 332.97L375.8 332.71L376.05 332.44L376.3 332.18L376.55 331.91L376.8 331.65L377.05 331.39L377.3 331.12L377.55 330.86L377.8 330.6L378.05 330.35L378.3 330.09L378.55 329.84L378.8 329.59L379.05 329.34L379.3 329.1L379.55 328.86L379.8 328.62L380.05 328.39L380.3 328.16L380.55 327.93L380.8 327.71L381.05 327.5L381.3 327.28L381.55 327.08L381.8 326.88L382.05 326.68L382.3 326.49L382.55 326.3L382.8 326.12L383.05 325.94L383.3 325.77L383.55 325.61L383.8 325.45L384.05 325.29L384.3 325.14L384.55 325L384.8 324.86L385.05 324.72L385.3 324.6L385.55 324.47L385.8 324.35L386.05 324.24L386.3 324.13L386.55 324.02L386.8 323.92L387.05 323.83L387.3 323.74L387.55 323.65L387.8 323.57L388.05 323.49L388.3 323.41L388.55 323.34L388.8 323.28L389.05 323.21L389.3 323.15L389.55 323.09L389.8 323.04L390.05 322.99L390.3 323.68L390.55 325L390.8 326.33L391.05 327.65L391.3 328.98L391.55 330.01L391.8 330.66L392.05 331.31L392.3 331.96L392.55 332.62L392.8 333.27L393.05 333.92L393.3 334.57L393.55 335.23L393.8 335.88L394.05 336.53L394.3 337.18L394.55 337.83L394.8 338.49L395.05 339.14L395.3 339.79L395.55 340.44L395.8 341.1L396.05 341.75L396.05 342.4Z"/>
<path class="g2" fill="#333" d="M403.55 342.4L403.55 342.2L403.8 342.18L404.05 342.17L404.3 342.16L404.55 342.14L404.8 342.13L405.05 342.11L405.3 342.1L405.55 342.08L405.8 342.06L406.05 342.04L406.3 342.02L406.55 342L406.8 341.98L407.05 341.95L407.3 341.93L407.55 341.9L407.8 341.88L408.05 341.85L408.3 341.82L408.55 341.79L408.8 341.76L409.05 341.72L409.3 341.69L409.55 341.65L409.8 341.61L410.05 341.57L410.3 341.53L410.55 341.49L410.8 341.44L411.05 341.4L411.3 341.35L411.55 341.3L411.8 341.25L412.05 341.19L412.3 341.14L412.55 341.08L412.8 341.02L413.05 340.95L413.3 340.89L413.55 340.82L413.8 340.75L414.05 340.68L414.3 340.61L414.55 340.53L414.8 340.45L415.05 340.37L415.3 340.29L415.55 340.2L415.8 340.11L416.05 340.02L416.3 339.92L416.55 339.82L416.8 339.72L417.05 339.62L417.3 339.51L417.55 339.4L417.8 339.29L418.05 339.18L418.3 339.06L418.55 338.94L418.8 338.82L419.05 338.69L419.3 338.56L419.55 338.43L419.8 338.29L420.05 338.15L420.3 338.01L420.55 337.87L420.8 337.72L421.05 337.57L421.3 337.42L421.55 337.27L421.8 337.11L422.05 336.95L422.3 336.78L422.55 336.62L422.8 336.45L423.05 336.28L423.3 336.11L423.55 335.93L423.8 335.75L424.05 335.57L424.3 335.39L424.55 335.21L424.8 335.02L425.05 334.84L425.3 334.65L425.55 334.46L425.8 334.26L426.05 334.07L426.3 333.88L426.55 333.68L426.8 333.48L427.05 333.29L427.3 333.09L427.55 332.89L427.8 332.69L428.05 332.49L428.3 332.29L428.55 332.09L428.8 331.9L429.05 331.7L429.3 331.5L429.55 331.3L429.8 331.11L430.05 330.91L430.3 330.72L430.55 330.53L430.8 330.34L431.05 330.15L431.3 329.97L431.55 329.78L431.8 329.6L432.05 329.42L432.3 329.24L432.55 329.07L432.8 328.9L433.05 328.73L433.3 328.57L433.55 328.41L433.8 328.26L434.05 328.1L434.3 327.96L434.55 327.81L434.8 327.67L435.05 327.54L435.3 327.41L435.55 327.29L435.8 327.17L436.05 327.05L436.3 326.94L436.55 326.84L436.8 326.74L437.05 326.65L437.3 326.56L437.55 326.48L437.8 326.41L438.05 326.34L438.3 326.28L438.55 326.22L438.8 326.17L439.05 326.13L439.3 326.09L439.55 326.06L439.8 326.03L440.05 326.02L440.3 326L440.55 326L440.8 326L441.05 326.01L441.3 326.03L441.55 326.05L441.8 326.08L442.05 326.11L442.3 326.15L442.55 326.2L442.8 326.25L443.05 326.31L443.3 326.38L443.55 326.45L443.8 326.53L444.05 326.61L444.3 326.7L444.55 326.8L444.8 326.9L445.05 327.01L445.3 327.12L445.55 327.24L445.8 327.36L446.05 327.49L446.3 327.62L446.55 327.76L446.8 327.9L447.05 328.04L447.3 328.19L447.55 328.35L447.8 328.51L448.05 328.67L448.3 328.83L448.55 329L448.8 329.17L449.05 329.35L449.3 329.53L449.55 329.71L449.8 329.89L450.05 330.08L450.3 330.26L450.55 330.45L450.8 330.64L451.05 330.84L451.3 331.03L451.55 331.23L451.8 331.42L452.05 331.62L452.3 331.82L452.55 332.02L452.8 332.21L453.05 332.41L453.3 332.61L453.55 332.81L453.8 333.01L454.05 333.21L454.3 333.4L454.55 333.6L454.8 333.8L455.05 333.99L455.3 334.19L455.55 334.38L455.8 334.57L456.05 334.76L456.3 334.95L456.55 335.13L456.8 335.32L457.05 335.5L457.3 335.68L457.55 335.86L457.8 336.04L458.05 336.21L458.3 336.38L458.55 336.55L458.8 336.72L459.05 336.88L459.3 337.04L459.55 337.2L459.8 337.36L460.05 337.51L460.3 337.66L460.55 337.81L460.8 337.96L461.05 338.1L461.3 338.24L461.55 338.37L461.8 338.51L462.05 338.64L462.3 338.77L462.55 338.89L462.8 339.01L463.05 339.13L463.3 339.25L463.55 339.36L463.8 339.47L464.05 339.58L464.3 339.68L464.55 339.78L464.8 339.88L465.05 339.98L465.3 340.07L465.55 340.16L465.8 340.25L466.05 340.34L466.3 340.42L466.55 340.5L466.8 340.58L467.05 340.65L467.3 340.72L467.55 340.8L467.8 340.86L468.05 340.93L468.3 340.99L468.55 341.05L468.8 341.11L469.05 341.17L469.3 341.22L469.55 341.28L469.8 341.33L470.05 341.38L470.3 341.43L470.55 341.47L470.8 341.51L471.05 341.56L471.3 341.6L471.55 341.64L471.8 341.67L472.05 341.71L472.3 341.74L472.55 341.77L472.8 341.81L473.05 341.84L473.3 341.86L473.55 341.89L473.8 341.92L474.05 341.94L474.3 341.97L474.55 341.99L474.8 342.01L475.05 342.03L475.3 342.05L475.55 342.07L475.8 342.09L476.05 342.11L476.3 342.12L476.55 342.14L476.8 342.15L477.05 342.17L477.3 342.18L477.55 342.19L477.55 342.4Z"/>
<path class="g1ll" d="M354.55 341.74L354.8 341.08L355.05 340.42L355.3 339.76L355.55 339.1L355.8 338.44L356.05 337.78L356.3 337.12L356.55 336.46L356.8 335.8L357.05 335.14L357.3 334.47L357.55 333.81L357.8 333.15L358.05 332.49L358.3 331.83L358.55 331.17L358.8 330.51L359.05 329.85L359.3 328.63L359.55 327.27L359.8 325.91L360.05 324.56L360.3 323.2L360.55 321.84L360.8 320.48L361.05 319.12L361.3 317.76L361.55 316.4L361.8 315.04L362.05 313.68L362.3 312.32L362.55 310.97L362.8 309.61L363.05 306.84L363.3 303.87L363.55 300.91L363.8 297.94L364.05 294.97L364.3 292L364.55 289.03L364.8 286.06L365.05 283.09L365.3 280.33L365.55 277.8L365.8 275.27L366.05 272.74L366.3 270.22L366.55 268L366.8 265.8L367.05 263.6L367.3 261.4L367.55 259.2L367.8 256.99L368.05 254.79L368.3 252.59L368.55 250.39L368.8 248.19L369.05 245.99L369.3 244.08L369.55 242.55L369.8 241.02L370.05 239.49L370.3 237.96L370.55 236.43L370.8 234.9L371.05 233.36L371.3 231.83L371.55 230.3L371.8 228.77L372.05 227.24L372.3 225.71L372.55 224.26L372.8 223.17L373.05 222.08L373.3 220.99L373.55 219.91L373.8 218.82L374.05 217.91L374.3 217.3L374.55 216.69L374.8 216.09L375.05 215.72"/>
<path class="g1lr" d="M375.05 215.72L375.3 216.32L375.55 216.92L375.8 217.52L376.05 218.12L376.3 219.18L376.55 220.25L376.8 221.31L377.05 222.38L377.3 223.45L377.55 224.53L377.8 226.02L378.05 227.51L378.3 228.99L378.55 230.48L378.8 231.97L379.05 233.46L379.3 234.95L379.55 236.44L379.8 237.92L380.05 239.41L380.3 240.9L380.55 242.39L380.8 243.88L381.05 245.62L381.3 247.73L381.55 249.84L381.8 251.96L382.05 254.07L382.3 256.18L382.55 258.3L382.8 260.41L383.05 262.52L383.3 264.64L383.55 266.75L383.8 268.86L384.05 271.1L384.3 273.51L384.55 275.93L384.8 278.34L385.05 280.75L385.3 283.44L385.55 286.25L385.8 289.06L386.05 291.87L386.3 294.68L386.55 297.49L386.8 300.3L387.05 303.11L387.3 305.92L387.55 308.73L387.8 310.43L388.05 311.75L388.3 313.08L388.55 314.4L388.8 315.73L389.05 317.05L389.3 318.38L389.55 319.7L389.8 321.03L390.05 322.35L390.3 323.68L390.55 325L390.8 326.33L391.05 327.65L391.3 328.98L391.55 330.01L391.8 330.66L392.05 331.31L392.3 331.96L392.55 332.62L392.8 333.27L393.05 333.92L393.3 334.57L393.55 335.23L393.8 335.88L394.05 336.53L394.3 337.18L394.55 337.83L394.8 338.49L395.05 339.14L395.3 339.79L395.55 340.44L395.8 341.1L396.05 341.75"/>
<path class="spl" d="M358.8 342.19L359.05 342.17L359.3 342.15L359.55 342.12L359.8 342.1L360.05 342.07L360.3 342.04L360.55 342.01L360.8 341.98L361.05 341.95L361.3 341.91L361.55 341.87L361.8 341.83L362.05 341.78L362.3 341.74L362.55 341.69L362.8 341.63L363.05 341.57L363.3 341.51L363.55 341.45L363.8 341.38L364.05 341.31L364.3 341.23L364.55 341.16L364.8 341.07L365.05 340.98L365.3 340.89L365.55 340.79L365.8 340.69L366.05 340.59L366.3 340.47L366.55 340.36L366.8 340.24L367.05 340.11L367.3 339.98L367.55 339.84L367.8 339.7L368.05 339.55L368.3 339.4L368.55 339.24L368.8 339.08L369.05 338.91L369.3 338.74L369.55 338.56L369.8 338.38L370.05 338.19L370.3 337.99L370.55 337.79L370.8 337.59L371.05 337.38L371.3 337.16L371.55 336.94L371.8 336.72L372.05 336.49L372.3 336.26L372.55 336.03L372.8 335.79L373.05 335.54L373.3 335.3L373.55 335.05L373.8 334.8L374.05 334.54L374.3 334.28L374.55 334.03L374.8 333.76L375.05 333.5L375.3 333.24L375.55 332.97L375.8 332.71L376.05 332.44L376.3 332.18L376.55 331.91L376.8 331.65L377.05 331.39L377.3 331.12L377.55 330.86L377.8 330.6L378.05 330.35L378.3 330.09L378.55 329.84L378.8 329.59L379.05 329.34L379.3 329.1L379.55 328.86L379.8 328.62L380.05 328.39L380.3 328.16L380.55 327.93L380.8 327.71L381.05 327.5L381.3 327.28L381.55 327.08L381.8 326.88L382.05 326.68L382.3 326.49L382.55 326.3L382.8 326.12L383.05 325.94L383.3 325.77L383.55 325.61L383.8 325.45L384.05 325.29L384.3 325.14L384.55 325L384.8 324.86L385.05 324.72L385.3 324.6L385.55 324.47L385.8 324.35L386.05 324.24L386.3 324.13L386.55 324.02L386.8 323.92L387.05 323.83L387.3 323.74L387.55 323.65L387.8 323.57L388.05 323.49L388.3 323.41L388.55 323.34L388.8 323.28L389.05 323.21L389.3 323.15L389.55 323.09L389.8 323.04L390.05 322.99L390.3 322.94L390.55 322.89L390.8 322.85L391.05 322.81L391.3 322.77L391.55 322.74L391.8 322.7L392.05 322.67L392.3 322.64L392.55 322.61L392.8 322.59L393.05 322.56L393.3 322.54L393.55 322.52L393.8 322.5L394.05 322.48L394.3 322.46L394.55 322.44L394.8 322.43L395.05 322.41L395.3 322.42L395.55 322.42L395.8 322.43L396.05 322.43L396.3 322.44L396.55 322.45L396.8 322.46L397.05 322.47L397.3 322.48L397.55 322.49L397.8 322.5L398.05 322.51L398.3 322.52L398.55 322.53L398.8 322.54L399.05 322.55L399.3 322.56L399.55 322.57L399.8 322.59L400.05 322.6L400.3 322.61L400.55 322.63L400.8 322.64L401.05 322.65L401.3 322.66L401.55 322.68L401.8 322.69L402.05 322.7L402.3 322.72L402.55 322.73L402.8 322.75L403.05 322.76L403.3 322.77L403.55 322.79L403.8 322.8L404.05 322.81L404.3 322.83L404.55 322.84L404.8 322.86L405.05 322.87L405.3 322.88L405.55 322.9L405.8 322.91L406.05 322.93L406.3 322.94L406.55 322.95L406.8 322.97L407.05 322.98L407.3 323L407.55 323.01L407.8 323.03L408.05 323.04L408.3 323.05L408.55 323.07L408.8 323.08L409.05 323.1L409.3 323.11L409.55 323.12L409.8 323.14L410.05 323.15L410.3 323.17L410.55 323.18L410.8 323.2L411.05 323.21L411.3 323.22L411.55 323.24L411.8 323.25L412.05 323.27L412.3 323.28L412.55 323.29L412.8 323.31L413.05 323.32L413.3 323.34L413.55 323.35L413.8 323.37L414.05 323.38L414.3 323.39L414.55 323.41L414.8 323.42L415.05 323.44L415.3 323.45L415.55 323.46L415.8 323.48L416.05 323.49L416.3 323.51L416.55 323.52L416.8 323.54L417.05 323.55L417.3 323.56L417.55 323.58L417.8 323.59L418.05 323.61L418.3 323.62L418.55 323.63L418.8 323.65L419.05 323.66L419.3 323.68L419.55 323.69L419.8 323.71L420.05 323.72L420.3 323.73L420.55 323.75L420.8 323.76L421.05 323.78L421.3 323.79L421.55 323.8L421.8 323.82L422.05 323.83L422.3 323.85L422.55 323.86L422.8 323.88L423.05 323.89L423.3 323.9L423.55 323.92L423.8 323.93L424.05 323.95L424.3 323.96L424.55 323.97L424.8 323.99L425.05 324.01L425.3 324.04L425.55 324.08L425.8 324.11L426.05 324.15L426.3 324.18L426.55 324.22L426.8 324.25L427.05 324.29L427.3 324.32L427.55 324.36L427.8 324.39L428.05 324.43L428.3 324.46L428.55 324.5L428.8 324.53L429.05 324.57L429.3 324.6L429.55 324.64L429.8 324.67L430.05 324.71L430.3 324.74L430.55 324.78L430.8 324.82L431.05 324.85L431.3 324.89L431.55 324.92L431.8 324.96L432.05 324.99L432.3 325.03L432.55 325.07L432.8 325.1L433.05 325.14L433.3 325.17L433.55 325.21L433.8 325.25L434.05 325.28L434.3 325.32L434.55 325.36L434.8 325.39L435.05 325.43L435.3 325.47L435.55 325.51L435.8 325.54L436.05 325.58L436.3 325.62L436.55 325.66L436.8 325.7L437.05 325.74L437.3 325.78L437.55 325.82L437.8 325.86L438.05 325.9L438.3 325.94L438.55 325.98L438.8 326.03L439.05 326.07L439.3 326.12L439.55 326.16L439.8 326.21L440.05 326.25L440.3 326.3L440.55 326.35L440.8 326.4L441.05 326.45L441.3 326.5L441.55 326.55L441.8 326.61L442.05 326.66L442.3 326.72L442.55 326.77L442.8 326.83L443.05 326.89L443.3 326.96L443.55 327.02L443.8 327.08L444.05 327.15L444.3 327.22L444.55 327.29L444.8 327.37L445.05 327.44L445.3 327.52L445.55 327.6L445.8 327.68L446.05 327.76L446.3 327.85L446.55 327.94L446.8 328.03L447.05 328.12L447.3 328.22L447.55 328.32L447.8 328.42L448.05 328.52L448.3 328.63L448.55 328.74L448.8 328.86L449.05 328.97L449.3 329.09L449.55 329.21L449.8 329.34L450.05 329.47L450.3 329.61L450.55 329.75L450.8 329.9L451.05 330.05L451.3 330.2L451.55 330.35L451.8 330.51L452.05 330.67L452.3 330.83L452.55 331L452.8 331.17L453.05 331.34L453.3 331.51L453.55 331.68L453.8 331.86L454.05 332.04L454.3 332.22L454.55 332.4L454.8 332.58L455.05 332.77L455.3 332.95L455.55 333.14L455.8 333.33L456.05 333.52L456.3 333.71L456.55 333.9L456.8 334.09L457.05 334.29L457.3 334.48L457.55 334.67L457.8 334.86L458.05 335.05L458.3 335.24L458.55 335.43L458.8 335.62L459.05 335.81L459.3 336L459.55 336.19L459.8 336.37L460.05 336.55L460.3 336.73L460.55 336.91L460.8 337.09L461.05 337.26L461.3 337.44L461.55 337.61L461.8 337.77L462.05 337.94L462.3 338.1L462.55 338.26L462.8 338.42L463.05 338.57L463.3 338.72L463.55 338.86L463.8 339.01L464.05 339.15L464.3 339.28L464.55 339.42L464.8 339.55L465.05 339.67L465.3 339.79L465.55 339.91L465.8 340.03L466.05 340.14L466.3 340.25L466.55 340.35L466.8 340.45L467.05 340.55L467.3 340.64L467.55 340.73L467.8 340.82L468.05 340.91L468.3 340.99L468.55 341.06L468.8 341.14L469.05 341.21L469.3 341.28L469.55 341.34L469.8 341.4L470.05 341.46L470.3 341.52L470.55 341.57L470.8 341.62L471.05 341.67L471.3 341.72L471.55 341.76L471.8 341.8L472.05 341.84L472.3 341.88L472.55 341.91L472.8 341.95L473.05 341.98L473.3 342.01L473.55 342.04L473.8 342.06L474.05 342.09L474.3 342.11L474.55 342.13L474.8 342.15L475.05 342.17L475.3 342.19"/>
<path class="sdots" d="M355.66 326.93h1.1M339.28 328.46h1.1M369.99 218.17h1.1M359.95 315.84h1.1M339.47 336.79h1.1M358.04 319.33h1.1M343.24 336.33h1.1M370.2 225.28h1.1M363.52 269.35h1.1M359.46 317.15h1.1M365.49 263.6h1.1M358.21 303.14h1.1M353.11 339.66h1.1M361.79 303.45h1.1M355.02 329.02h1.1M370.59 222.49h1.1M340.1 312.36h1.1M357.48 328.18h1.1M346.03 338.43h1.1M366.15 247.94h1.1M371.05 221.83h1.1M369.29 224.67h1.1M351.44 339.34h1.1M340.42 317.85h1.1M360.74 309.23h1.1M345.01 334.74h1.1M339.08 327.98h1.1M366.04 246.08h1.1M337.05 336.93h1.1M332.62 340.94h1.1M351.3 331.52h1.1M331.74 335.79h1.1M354.29 335.2h1.1M372.54 216.23h1.1M371.91 214.17h1.1M371.77 208.6h1.1M336.36 337.52h1.1M359.58 305.59h1.1M366.19 256.37h1.1M360.14 297.03h1.1M360.58 287.01h1.1M353.56 335.14h1.1M349.06 322.8h1.1M365.45 261.41h1.1M336.48 323.39h1.1M363.44 268.3h1.1M349.26 331.61h1.1M342.19 337.47h1.1M364.39 265.61h1.1M348.55 331.15h1.1M351.03 322.12h1.1M335.76 325.42h1.1M349.07 329.62h1.1M364.85 254.23h1.1M363.17 284.81h1.1M367.31 244.81h1.1M347.76 325.86h1.1M366.04 259.19h1.1M359.13 302.09h1.1M357.06 314.87h1.1M355.03 311.06h1.1M330.66 334.76h1.1M349.82 318.27h1.1M351.76 322.01h1.1M370.73 213.03h1.1M369.35 227.26h1.1M357.3 314.4h1.1M349.82 337.33h1.1M356.71 318.83h1.1M354.11 326.11h1.1M369.95 210.69h1.1M368.88 230.48h1.1M359.84 309.37h1.1M335.77 337.78h1.1M350.5 340.36h1.1M371.13 203.43h1.1M338.94 338.13h1.1M335.44 327.33h1.1M356.61 325.82h1.1M357.5 322.53h1.1M362.56 292.13h1.1M374.79 206.58h1.1M355.53 328.97h1.1M368.65 238.2h1.1M364.99 261.21h1.1M373.96 204.33h1.1M366.15 241.95h1.1M360.63 301.87h1.1M357.28 321.56h1.1M360.82 276.63h1.1M355.09 331.13h1.1M359.66 314.8h1.1M365.36 255.24h1.1M371.6 206.23h1.1M360.73 308.27h1.1M369.95 226.23h1.1M362.82 291.41h1.1M369.67 231.43h1.1M360.11 314.73h1.1M369.05 231.23h1.1M356.09 316.66h1.1M320.28 337.46h1.1M360.47 285.24h1.1M359.12 307.62h1.1M314.26 317.12h1.1M356.86 325.9h1.1M341.01 338.29h1.1M365.81 259.14h1.1M362.78 277.46h1.1M371.19 213.24h1.1M369.45 232.66h1.1M329.41 341.22h1.1M387.69 286.23h1.1M401.15 320.76h1.1M433.81 311.85h1.1M434.41 311.39h1.1M410.73 317.78h1.1M390.37 307.49h1.1M406.11 321.29h1.1M404.09 320.92h1.1M408.49 311.92h1.1M424.08 317.1h1.1M412.39 320.72h1.1M383.84 246.15h1.1M403.13 316.39h1.1M416.32 321.01h1.1M398.19 319.86h1.1M452.57 321.84h1.1M380.42 222.64h1.1M403.47 317.77h1.1M464.34 328.44h1.1M389.17 301.37h1.1M380 220.57h1.1M415.51 313.32h1.1M417.39 315.13h1.1M382.11 238.76h1.1M398.53 316.86h1.1M382.78 242.37h1.1M422.1 317.9h1.1M433.89 312.08h1.1M411.52 318.26h1.1M425.59 303.19h1.1M402.28 321.22h1.1M415.8 313.94h1.1M388.41 287.88h1.1M442.16 313.91h1.1M423.2 310.29h1.1M438.78 298.18h1.1M450.72 315.65h1.1M430.76 314.23h1.1M383.56 244.57h1.1M458.1 314.37h1.1M427.2 315.9h1.1M435.02 309.77h1.1M384.76 253.32h1.1M393.2 317.26h1.1M398.2 315.49h1.1M381.51 229.95h1.1M403.48 317.91h1.1M378.04 218.43h1.1M461.91 329.51h1.1M384.96 260.24h1.1M391.99 319.12h1.1M463.62 326.2h1.1M393.39 307.24h1.1M455.06 322.75h1.1M405.14 306.82h1.1M451.16 322.29h1.1M375.45 204.51h1.1M427.71 314.92h1.1M384.3 250.31h1.1M426.81 312.51h1.1M414.5 312.19h1.1M396.18 313.95h1.1M394.18 318.41h1.1M391.06 316.72h1.1M414.93 319.41h1.1M405.88 318.83h1.1M386.96 279.2h1.1M388.53 294.56h1.1M382.51 241.35h1.1M431.35 310.56h1.1M392.62 312.89h1.1M433.9 306.6h1.1M383.84 252.85h1.1M438.21 311.35h1.1M420.55 317.65h1.1M421.14 314.67h1.1M403.56 315.57h1.1M404.43 311.42h1.1M422.58 319.27h1.1M394.23 315.4h1.1M390.58 309.2h1.1M387.64 284.07h1.1M412.41 321.68h1.1M420.2 315.12h1.1M410.96 309.36h1.1M387.01 275.46h1.1M389.39 304.4h1.1M457.93 328.1h1.1M376.18 209.72h1.1M377.61 211.7h1.1M422.65 320.46h1.1M408.49 315.16h1.1M384.41 257.45h1.1M423.7 319.85h1.1M412.26 311.76h1.1M417.44 320.62h1.1M383.83 230.69h1.1M379.42 214.54h1.1M404.77 303.98h1.1M418.53 319.04h1.1M409.98 322.01h1.1M376.58 204.18h1.1M432.61 308.18h1.1M398.26 314.24h1.1M393.72 319.68h1.1M419.8 316.77h1.1M398.23 320.71h1.1M385.47 265.91h1.1M397.98 310.05h1.1M395.04 319.93h1.1M468.39 331.87h1.1M436.19 309.61h1.1M404.18 318.91h1.1M386.02 259.09h1.1M419.52 309.59h1.1M385.83 268.12h1.1M421.84 319.11h1.1M465.68 325.94h1.1M403.98 316.59h1.1M392.06 319.34h1.1M385.61 260.87h1.1M419.24 320.26h1.1M404.55 318.54h1.1M422.28 316.96h1.1M404.6 315.31h1.1M397.25 318.97h1.1M394.39 319.88h1.1M380.37 225.87h1.1M447.75 308.76h1.1M389.27 306.1h1.1M399.57 317.77h1.1M402.43 319.69h1.1M431.95 305.5h1.1M386.79 266.93h1.1M476.8 336.36h1.1M377.39 209.21h1.1M450.64 321.82h1.1M397.26 306.37h1.1M378.41 209.96h1.1M376.91 203.7h1.1M400.26 312.03h1.1M379.01 221.92h1.1M462.53 328.58h1.1"/>
<path class="dots" d="M357.33 327.2h1.1M360.18 312h1.1M360.49 311.67h1.1M361.35 303.84h1.1M362.83 286.71h1.1M362.82 281.99h1.1M363.15 280.3h1.1M364.59 267.95h1.1M366.1 255.42h1.1M368.39 237.43h1.1M368.97 232.6h1.1M370.16 226.61h1.1M370.55 222.89h1.1M371.33 221.97h1.1M371.58 220.17h1.1M371.91 220.03h1.1M372.47 215.19h1.1M373.1 213.49h1.1M373.4 211.19h1.1M373.86 210.46h1.1M374.35 208.16h1.1M374.83 205.34h1.1M375.2 207.61h1.1M375.73 210.86h1.1M375.97 212.26h1.1M376.85 215.12h1.1M376.86 216.19h1.1M377.45 218.11h1.1M377.96 221.09h1.1M378.33 222.33h1.1M378.64 224.26h1.1M379.28 226.29h1.1M379.4 228.12h1.1M379.68 231.9h1.1M380.29 232.84h1.1M380.72 234.95h1.1M381 237.2h1.1M381.67 238.08h1.1M381.76 241.09h1.1M382.15 243.75h1.1M382.48 246h1.1M382.76 247.27h1.1M383.28 250.25h1.1M382.78 250.86h1.1M383.19 254.86h1.1M383.55 254.91h1.1M383.94 257.24h1.1M384.29 260.55h1.1M384.68 261.19h1.1M384.82 264.16h1.1M384.8 265.45h1.1M385.03 267.61h1.1M385.23 270.87h1.1M385.65 272.92h1.1M386.28 274.99h1.1M386.56 279.23h1.1M386.67 280.48h1.1M386.96 283.45h1.1M387.12 286.7h1.1M387.02 287.26h1.1M387.36 290.69h1.1M387.22 291.46h1.1M387.74 294h1.1M388.19 296.53h1.1M388.36 298.87h1.1M388.45 301.92h1.1M388.51 301.69h1.1M388.36 304.99h1.1M388.92 308.83h1.1M389.05 311.38h1.1M389.63 311.22h1.1M389.97 314.17h1.1M390.6 316.54h1.1M390.5 318.55h1.1M391.39 320.01h1.1M393.38 321.55h1.1M395.63 320.82h1.1M397.9 316.7h1.1M400.01 321.86h1.1M401.76 323.28h1.1M404.01 322.32h1.1M405.76 321.47h1.1M408.31 321.74h1.1M410.12 318.11h1.1M412.29 321.21h1.1M414.71 318.55h1.1M416.93 323.5h1.1M418.79 323.53h1.1M420.88 319.61h1.1M422.48 318.93h1.1M424.17 317.92h1.1M425.95 319.71h1.1M427.55 318.83h1.1M429.74 313.54h1.1M431.68 314.79h1.1M433.43 313.54h1.1M435.66 311.63h1.1M437.9 315.07h1.1M439.93 313.17h1.1M441.85 309.29h1.1M443.49 314.31h1.1M445.35 316.63h1.1M447.29 317.8h1.1M448.91 319.41h1.1M450.63 318.94h1.1M451.93 321.65h1.1M453.81 327.54h1.1M455.11 328.51h1.1M456.89 328.11h1.1M458.67 331.98h1.1M460.29 334.42h1.1M461.71 333.53h1.1M463.48 335.17h1.1M465.53 335.09h1.1M467.34 334.39h1.1M469.07 334.29h1.1M471.09 337.22h1.1M473.46 338.2h1.1M475.28 334.7h1.1M477.33 333.6h1.1M479.41 341.58h1.1M481.2 339.56h1.1M324 341.93h1.1M329.16 341.96h1.1M332.07 341.58h1.1M336.93 341.69h1.1M478 341.1h1.1M481.56 341.21h1.1M485.48 340.82h1.1M491.12 340.94h1.1M494.7 340.38h1.1M498.35 340.85h1.1"/>
<text class="tl" x="305" y="195.5" textLength="9.7" lengthAdjust="spacingAndGlyphs" text-anchor="end">56</text>
<text class="tl" x="305" y="216.9" textLength="9.7" lengthAdjust="spacingAndGlyphs" text-anchor="end">48</text>
<text class="tl" x="305" y="237.9" textLength="9.7" lengthAdjust="spacingAndGlyphs" text-anchor="end">40</text>
<text class="tl" x="305" y="259.4" textLength="9.7" lengthAdjust="spacingAndGlyphs" text-anchor="end">32</text>
<text class="tl" x="305" y="280.9" textLength="9.7" lengthAdjust="spacingAndGlyphs" text-anchor="end">24</text>
<text class="tl" x="305" y="302.5" textLength="8" lengthAdjust="spacingAndGlyphs" text-anchor="end">16</text>
<text class="tl" x="305" y="324.2" textLength="4.7" lengthAdjust="spacingAndGlyphs" text-anchor="end">8</text>
<text class="tl" x="305" y="344.4" textLength="4.7" lengthAdjust="spacingAndGlyphs" text-anchor="end">0</text>
<text class="tl" x="307.8" y="348.7" textLength="4.7" lengthAdjust="spacingAndGlyphs" text-anchor="middle">0</text>
<text class="tl" x="341.4" y="348.7" textLength="9.7" lengthAdjust="spacingAndGlyphs" text-anchor="middle">40</text>
<text class="tl" x="374.6" y="348.7" textLength="9.7" lengthAdjust="spacingAndGlyphs" text-anchor="middle">80</text>
<text class="tl" x="407.8" y="348.7" textLength="13" lengthAdjust="spacingAndGlyphs" text-anchor="middle">120</text>
<text class="tl" x="441.4" y="348.7" textLength="13" lengthAdjust="spacingAndGlyphs" text-anchor="middle">160</text>
<text class="tl" x="475.4" y="348.7" textLength="14.7" lengthAdjust="spacingAndGlyphs" text-anchor="middle">200</text>
<text class="tl" x="504.4" y="348.7" textLength="14.7" lengthAdjust="spacingAndGlyphs" text-anchor="middle">240</text>
<text class="ax" text-anchor="middle" transform="translate(282.3 274) rotate(-90)">Cell Number</text>
<text class="axd" text-anchor="middle" x="389.8" y="361.8" textLength="49.4" lengthAdjust="spacingAndGlyphs">DNA content</text>
<text class="letter" x="273.9" y="203.2">D</text>
<text class="st" x="408.2" y="227.3" textLength="75" lengthAdjust="spacingAndGlyphs">32D/v-Abl/β4</text>
<text class="st" x="408.2" y="257.6" textLength="17.2" lengthAdjust="spacingAndGlyphs">G1</text>
<text class="st" x="408.2" y="272.6" textLength="8" lengthAdjust="spacingAndGlyphs">S</text>
<text class="st" x="408.2" y="287.9" textLength="30.4" lengthAdjust="spacingAndGlyphs">G2/M</text>
<text class="st" x="447.2" y="257.6" textLength="32.8" lengthAdjust="spacingAndGlyphs">55.1%</text>
<text class="st" x="445.4" y="272.6" textLength="33.5" lengthAdjust="spacingAndGlyphs">29.4%</text>
<text class="st" x="447.8" y="287.9" textLength="31.9" lengthAdjust="spacingAndGlyphs">15.6%</text>
</g>
<g id="panelE">
<path class="base" d="M45.7 535.9H214"/>
<path class="rbase" d="M214 535.9H249.1"/>
<path class="g1" d="M112.95 535.6L112.95 535.18L113.2 534.48L113.45 533.79L113.7 533.09L113.95 532.39L114.2 531.7L114.45 531L114.7 529.83L114.95 528.15L115.2 526.48L115.45 524.8L115.7 523.12L115.95 521.45L116.2 519.77L116.45 518.09L116.7 515.69L116.95 511.89L117.2 508.08L117.45 504.27L117.7 500.47L117.95 496.66L118.2 492.86L118.45 489.05L118.7 484.43L118.95 479.66L119.2 474.89L119.45 470.11L119.7 465.34L119.95 460.49L120.2 455.11L120.45 449.72L120.7 444.34L120.95 438.95L121.2 433.57L121.45 429.55L121.7 425.84L121.95 422.89L122.2 420.77L122.45 418.66L122.7 416.54L122.95 414.91L123.2 414.07L123.45 413.24L123.7 412.65L123.95 412.17L124.2 411.69L124.45 411.79L124.7 412.28L124.95 412.77L125.2 413.46L125.45 414.31L125.7 415.17L125.95 417.36L126.2 419.63L126.45 421.91L126.7 424.42L126.95 428.63L127.2 432.99L127.45 439.5L127.7 446.02L127.95 452.54L128.2 459.05L128.45 464.98L128.7 470.62L128.95 476.26L129.2 481.9L129.45 487.54L129.7 492.09L129.95 496.42L130.2 500.76L130.45 505.1L130.7 509.44L130.95 513.77L131.2 517.45L131.45 519.22L131.7 520.99L131.95 522.76L132.2 524.54L132.45 526.31L132.7 528.08L132.95 529.86L133.2 531.04L133.45 531.75L133.7 532.46L133.95 533.18L134.2 533.89L134.45 534.6L134.7 535.31L134.7 535.6Z"/>
<path class="g1s" d="M112.95 535.6L112.95 535.18L113.2 534.48L113.45 533.79L113.7 533.09L113.95 532.39L114.2 531.7L114.45 531L114.7 529.83L114.95 528.15L115.2 526.48L115.45 524.8L115.7 523.12L115.95 521.45L116.2 519.77L116.45 518.09L116.7 515.69L116.95 511.89L117.2 508.08L117.45 504.27L117.7 500.47L117.95 496.66L118.2 492.86L118.45 489.05L118.7 484.43L118.95 479.66L119.2 474.89L119.45 470.11L119.7 465.34L119.95 460.49L120.2 455.11L120.45 449.72L120.7 444.34L120.95 438.95L121.2 433.57L121.45 429.55L121.7 425.84L121.95 422.89L122.2 420.77L122.45 418.66L122.7 416.54L122.95 414.91L123.2 414.07L123.45 413.24L123.7 412.65L123.95 412.17L124.2 411.69L124.45 411.79L124.7 412.28L124.95 412.77L125.2 413.46L125.45 414.31L125.7 415.17L125.95 417.36L126.2 419.63L126.45 421.91L126.7 424.42L126.95 428.63L127.2 432.99L127.45 439.5L127.7 446.02L127.95 452.54L128.2 459.05L128.45 464.98L128.7 470.62L128.95 476.26L129.2 481.9L129.45 487.54L129.7 492.09L129.95 496.42L130.2 500.76L130.45 505.1L130.7 509.44L130.95 513.77L131.2 517.45L131.45 519.22L131.7 520.99L131.95 522.76L132.2 524.54L132.45 526.31L132.7 528.08L132.95 529.86L133.2 531.04L133.45 531.75L133.7 532.46L133.95 533.18L134.2 533.89L134.45 534.6L134.7 535.31L134.7 535.6Z"/>
<path class="sp" fill="url(#sgE)" d="M120.2 535.6L120.2 535.37L120.45 535.3L120.7 535.22L120.95 535.12L121.2 535L121.45 534.85L121.7 534.67L121.95 534.46L122.2 534.21L122.45 533.92L122.7 533.59L122.95 533.21L123.2 532.78L123.45 532.3L123.7 531.77L123.95 531.18L124.2 530.54L124.45 529.85L124.7 529.11L124.95 528.32L125.2 527.5L125.45 526.64L125.7 525.75L125.95 524.85L126.2 523.93L126.45 523.01L126.7 522.1L126.95 521.2L127.2 520.32L127.45 519.47L127.7 518.66L127.95 517.89L128.2 517.16L128.45 516.49L128.7 515.86L128.95 515.3L129.2 514.8L129.45 514.36L129.7 513.97L129.95 513.63L130.2 513.34L130.45 513.1L130.7 512.89L130.95 512.72L131.2 512.58L131.45 512.47L131.7 512.38L131.95 512.32L132.2 512.27L132.45 512.24L132.7 512.22L132.95 512.21L133.2 512.21L133.45 512.22L133.7 512.23L133.95 512.25L134.2 512.27L134.45 512.29L134.7 512.32L134.95 512.35L135.2 512.37L135.45 512.4L135.7 512.43L135.95 512.46L136.2 512.49L136.45 512.52L136.7 512.55L136.95 512.58L137.2 512.62L137.45 512.65L137.7 512.68L137.95 512.71L138.2 512.74L138.45 512.77L138.7 512.8L138.95 512.83L139.2 512.86L139.45 512.89L139.7 512.92L139.95 512.96L140.2 512.99L140.45 513.02L140.7 513.05L140.95 513.08L141.2 513.11L141.45 513.14L141.7 513.17L141.95 513.2L142.2 513.23L142.45 513.27L142.7 513.3L142.95 513.33L143.2 513.36L143.45 513.39L143.7 513.42L143.95 513.45L144.2 513.48L144.45 513.51L144.7 513.54L144.95 513.57L145.2 513.61L145.45 513.64L145.7 513.67L145.95 513.7L146.2 513.73L146.45 513.76L146.7 513.79L146.95 513.82L147.2 513.85L147.45 513.88L147.7 513.92L147.95 513.95L148.2 513.98L148.45 514.01L148.7 514.04L148.95 514.07L149.2 514.1L149.45 514.13L149.7 514.16L149.95 514.19L150.2 514.22L150.45 514.24L150.7 514.27L150.95 514.29L151.2 514.31L151.45 514.34L151.7 514.36L151.95 514.38L152.2 514.41L152.45 514.43L152.7 514.45L152.95 514.48L153.2 514.5L153.45 514.52L153.7 514.55L153.95 514.57L154.2 514.59L154.45 514.62L154.7 514.64L154.95 514.66L155.2 514.69L155.45 514.71L155.7 514.73L155.95 514.76L156.2 514.78L156.45 514.8L156.7 514.83L156.95 514.85L157.2 514.87L157.45 514.9L157.7 514.92L157.95 514.94L158.2 514.97L158.45 514.99L158.7 515.01L158.95 515.04L159.2 515.06L159.45 515.08L159.7 515.11L159.95 515.13L160.2 515.15L160.45 515.18L160.7 515.2L160.95 515.22L161.2 515.25L161.45 515.27L161.7 515.29L161.95 515.32L162.2 515.34L162.45 515.36L162.7 515.39L162.95 515.41L163.2 515.43L163.45 515.46L163.7 515.48L163.95 515.5L164.2 515.53L164.45 515.55L164.7 515.57L164.95 515.6L165.2 515.62L165.45 515.64L165.7 515.67L165.95 515.69L166.2 515.71L166.45 515.74L166.7 515.76L166.95 515.78L167.2 515.81L167.45 515.83L167.7 515.85L167.95 515.88L168.2 515.9L168.45 515.92L168.7 515.95L168.95 515.97L169.2 515.99L169.45 516.02L169.7 516.04L169.95 516.06L170.2 516.09L170.45 516.11L170.7 516.14L170.95 516.16L171.2 516.18L171.45 516.21L171.7 516.23L171.95 516.25L172.2 516.28L172.45 516.3L172.7 516.32L172.95 516.35L173.2 516.37L173.45 516.39L173.7 516.42L173.95 516.44L174.2 516.46L174.45 516.49L174.7 516.51L174.95 516.53L175.2 516.56L175.45 516.58L175.7 516.6L175.95 516.63L176.2 516.65L176.45 516.67L176.7 516.7L176.95 516.72L177.2 516.74L177.45 516.77L177.7 516.79L177.95 516.81L178.2 516.84L178.45 516.86L178.7 516.88L178.95 516.91L179.2 516.93L179.45 516.95L179.7 516.98L179.95 517L180.2 517.02L180.45 517.05L180.7 517.07L180.95 517.09L181.2 517.12L181.45 517.14L181.7 517.16L181.95 517.19L182.2 517.21L182.45 517.23L182.7 517.26L182.95 517.28L183.2 517.3L183.45 517.33L183.7 517.35L183.95 517.37L184.2 517.4L184.45 517.42L184.7 517.44L184.95 517.47L185.2 517.49L185.45 517.51L185.7 517.54L185.95 517.56L186.2 517.58L186.45 517.61L186.7 517.63L186.95 517.65L187.2 517.68L187.45 517.7L187.7 517.73L187.95 517.75L188.2 517.77L188.45 517.8L188.7 517.82L188.95 517.84L189.2 517.87L189.45 517.89L189.7 517.92L189.95 517.94L190.2 517.97L190.45 517.99L190.7 518.02L190.95 518.04L191.2 518.07L191.45 518.1L191.7 518.13L191.95 518.15L192.2 518.18L192.45 518.21L192.7 518.25L192.95 518.28L193.2 518.31L193.45 518.35L193.7 518.39L193.95 518.43L194.2 518.47L194.45 518.51L194.7 518.56L194.95 518.61L195.2 518.67L195.45 518.73L195.7 518.79L195.95 518.86L196.2 518.92L196.45 519L196.7 519.08L196.95 519.17L197.2 519.26L197.45 519.36L197.7 519.47L197.95 519.59L198.2 519.71L198.45 519.85L198.7 519.99L198.95 520.15L199.2 520.31L199.45 520.48L199.7 520.67L199.95 520.87L200.2 521.07L200.45 521.29L200.7 521.53L200.95 521.77L201.2 522.02L201.45 522.29L201.7 522.56L201.95 522.85L202.2 523.15L202.45 523.45L202.7 523.77L202.95 524.09L203.2 524.42L203.45 524.76L203.7 525.11L203.95 525.46L204.2 525.82L204.45 526.18L204.7 526.54L204.95 526.91L205.2 527.27L205.45 527.64L205.7 528L205.95 528.36L206.2 528.72L206.45 529.07L206.7 529.42L206.95 529.76L207.2 530.09L207.45 530.42L207.7 530.73L207.95 531.04L208.2 531.34L208.45 531.62L208.7 531.9L208.95 532.16L209.2 532.42L209.45 532.66L209.7 532.89L209.95 533.1L210.2 533.31L210.45 533.5L210.7 533.68L210.95 533.85L211.2 534.01L211.45 534.16L211.7 534.3L211.95 534.43L212.2 534.54L212.45 534.65L212.7 534.75L212.95 534.84L213.2 534.92L213.45 535L213.7 535.07L213.95 535.13L214.2 535.18L214.45 535.23L214.7 535.28L214.95 535.32L215.2 535.36L215.45 535.39L215.45 535.6Z"/>
<path class="sps" d="M120.2 535.6L120.2 535.37L120.45 535.3L120.7 535.22L120.95 535.12L121.2 535L121.45 534.85L121.7 534.67L121.95 534.46L122.2 534.21L122.45 533.92L122.7 533.59L122.95 533.21L123.2 532.78L123.45 532.3L123.7 531.77L123.95 531.18L124.2 530.54L124.45 529.85L124.7 529.11L124.95 528.32L125.2 527.5L125.45 526.64L125.7 525.75L125.95 524.85L126.2 523.93L126.45 523.01L126.7 522.1L126.95 521.2L127.2 520.32L127.45 519.47L127.7 518.66L127.95 517.89L128.2 517.16L128.45 516.49L128.7 515.86L128.95 515.3L129.2 514.8L129.45 514.36L129.7 513.97L129.95 513.63L130.2 513.34L130.45 513.1L130.7 512.89L130.95 512.72L131.2 512.58L131.45 512.47L131.7 512.38L131.95 512.32L132.2 512.27L132.45 512.24L132.7 512.22L132.95 512.21L133.2 512.21L133.45 512.22L133.7 512.23L133.95 512.25L134.2 512.27L134.45 512.29L134.7 512.32L134.95 512.35L135.2 512.37L135.45 512.4L135.7 512.43L135.95 512.46L136.2 512.49L136.45 512.52L136.7 512.55L136.95 512.58L137.2 512.62L137.45 512.65L137.7 512.68L137.95 512.71L138.2 512.74L138.45 512.77L138.7 512.8L138.95 512.83L139.2 512.86L139.45 512.89L139.7 512.92L139.95 512.96L140.2 512.99L140.45 513.02L140.7 513.05L140.95 513.08L141.2 513.11L141.45 513.14L141.7 513.17L141.95 513.2L142.2 513.23L142.45 513.27L142.7 513.3L142.95 513.33L143.2 513.36L143.45 513.39L143.7 513.42L143.95 513.45L144.2 513.48L144.45 513.51L144.7 513.54L144.95 513.57L145.2 513.61L145.45 513.64L145.7 513.67L145.95 513.7L146.2 513.73L146.45 513.76L146.7 513.79L146.95 513.82L147.2 513.85L147.45 513.88L147.7 513.92L147.95 513.95L148.2 513.98L148.45 514.01L148.7 514.04L148.95 514.07L149.2 514.1L149.45 514.13L149.7 514.16L149.95 514.19L150.2 514.22L150.45 514.24L150.7 514.27L150.95 514.29L151.2 514.31L151.45 514.34L151.7 514.36L151.95 514.38L152.2 514.41L152.45 514.43L152.7 514.45L152.95 514.48L153.2 514.5L153.45 514.52L153.7 514.55L153.95 514.57L154.2 514.59L154.45 514.62L154.7 514.64L154.95 514.66L155.2 514.69L155.45 514.71L155.7 514.73L155.95 514.76L156.2 514.78L156.45 514.8L156.7 514.83L156.95 514.85L157.2 514.87L157.45 514.9L157.7 514.92L157.95 514.94L158.2 514.97L158.45 514.99L158.7 515.01L158.95 515.04L159.2 515.06L159.45 515.08L159.7 515.11L159.95 515.13L160.2 515.15L160.45 515.18L160.7 515.2L160.95 515.22L161.2 515.25L161.45 515.27L161.7 515.29L161.95 515.32L162.2 515.34L162.45 515.36L162.7 515.39L162.95 515.41L163.2 515.43L163.45 515.46L163.7 515.48L163.95 515.5L164.2 515.53L164.45 515.55L164.7 515.57L164.95 515.6L165.2 515.62L165.45 515.64L165.7 515.67L165.95 515.69L166.2 515.71L166.45 515.74L166.7 515.76L166.95 515.78L167.2 515.81L167.45 515.83L167.7 515.85L167.95 515.88L168.2 515.9L168.45 515.92L168.7 515.95L168.95 515.97L169.2 515.99L169.45 516.02L169.7 516.04L169.95 516.06L170.2 516.09L170.45 516.11L170.7 516.14L170.95 516.16L171.2 516.18L171.45 516.21L171.7 516.23L171.95 516.25L172.2 516.28L172.45 516.3L172.7 516.32L172.95 516.35L173.2 516.37L173.45 516.39L173.7 516.42L173.95 516.44L174.2 516.46L174.45 516.49L174.7 516.51L174.95 516.53L175.2 516.56L175.45 516.58L175.7 516.6L175.95 516.63L176.2 516.65L176.45 516.67L176.7 516.7L176.95 516.72L177.2 516.74L177.45 516.77L177.7 516.79L177.95 516.81L178.2 516.84L178.45 516.86L178.7 516.88L178.95 516.91L179.2 516.93L179.45 516.95L179.7 516.98L179.95 517L180.2 517.02L180.45 517.05L180.7 517.07L180.95 517.09L181.2 517.12L181.45 517.14L181.7 517.16L181.95 517.19L182.2 517.21L182.45 517.23L182.7 517.26L182.95 517.28L183.2 517.3L183.45 517.33L183.7 517.35L183.95 517.37L184.2 517.4L184.45 517.42L184.7 517.44L184.95 517.47L185.2 517.49L185.45 517.51L185.7 517.54L185.95 517.56L186.2 517.58L186.45 517.61L186.7 517.63L186.95 517.65L187.2 517.68L187.45 517.7L187.7 517.73L187.95 517.75L188.2 517.77L188.45 517.8L188.7 517.82L188.95 517.84L189.2 517.87L189.45 517.89L189.7 517.92L189.95 517.94L190.2 517.97L190.45 517.99L190.7 518.02L190.95 518.04L191.2 518.07L191.45 518.1L191.7 518.13L191.95 518.15L192.2 518.18L192.45 518.21L192.7 518.25L192.95 518.28L193.2 518.31L193.45 518.35L193.7 518.39L193.95 518.43L194.2 518.47L194.45 518.51L194.7 518.56L194.95 518.61L195.2 518.67L195.45 518.73L195.7 518.79L195.95 518.86L196.2 518.92L196.45 519L196.7 519.08L196.95 519.17L197.2 519.26L197.45 519.36L197.7 519.47L197.95 519.59L198.2 519.71L198.45 519.85L198.7 519.99L198.95 520.15L199.2 520.31L199.45 520.48L199.7 520.67L199.95 520.87L200.2 521.07L200.45 521.29L200.7 521.53L200.95 521.77L201.2 522.02L201.45 522.29L201.7 522.56L201.95 522.85L202.2 523.15L202.45 523.45L202.7 523.77L202.95 524.09L203.2 524.42L203.45 524.76L203.7 525.11L203.95 525.46L204.2 525.82L204.45 526.18L204.7 526.54L204.95 526.91L205.2 527.27L205.45 527.64L205.7 528L205.95 528.36L206.2 528.72L206.45 529.07L206.7 529.42L206.95 529.76L207.2 530.09L207.45 530.42L207.7 530.73L207.95 531.04L208.2 531.34L208.45 531.62L208.7 531.9L208.95 532.16L209.2 532.42L209.45 532.66L209.7 532.89L209.95 533.1L210.2 533.31L210.45 533.5L210.7 533.68L210.95 533.85L211.2 534.01L211.45 534.16L211.7 534.3L211.95 534.43L212.2 534.54L212.45 534.65L212.7 534.75L212.95 534.84L213.2 534.92L213.45 535L213.7 535.07L213.95 535.13L214.2 535.18L214.45 535.23L214.7 535.28L214.95 535.32L215.2 535.36L215.45 535.39L215.45 535.6Z"/>
<path class="g1i" d="M124.9 425.5L126.3 510.53"/>
<path class="ov" d="M120.2 535.6L120.2 535.37L120.45 535.3L120.7 535.22L120.95 535.12L121.2 535L121.45 534.85L121.7 534.67L121.95 534.46L122.2 534.21L122.45 533.92L122.7 533.59L122.95 533.21L123.2 532.78L123.45 532.3L123.7 531.77L123.95 531.18L124.2 530.54L124.45 529.85L124.7 529.11L124.95 528.32L125.2 527.5L125.45 526.64L125.7 525.75L125.95 524.85L126.2 523.93L126.45 523.01L126.7 522.1L126.95 521.2L127.2 520.32L127.45 519.47L127.7 518.66L127.95 517.89L128.2 517.16L128.45 516.49L128.7 515.86L128.95 515.3L129.2 514.8L129.45 514.36L129.7 513.97L129.95 513.63L130.2 513.34L130.45 513.1L130.7 512.89L130.95 513.77L131.2 517.45L131.45 519.22L131.7 520.99L131.95 522.76L132.2 524.54L132.45 526.31L132.7 528.08L132.95 529.86L133.2 531.04L133.45 531.75L133.7 532.46L133.95 533.18L134.2 533.89L134.45 534.6L134.7 535.31L134.7 535.6Z"/>
<path class="g2" fill="#444" d="M190.7 535.6L190.7 535.38L190.95 535.35L191.2 535.32L191.45 535.28L191.7 535.24L191.95 535.2L192.2 535.15L192.45 535.1L192.7 535.05L192.95 534.99L193.2 534.93L193.45 534.86L193.7 534.78L193.95 534.71L194.2 534.62L194.45 534.53L194.7 534.44L194.95 534.34L195.2 534.24L195.45 534.13L195.7 534.02L195.95 533.9L196.2 533.78L196.45 533.65L196.7 533.52L196.95 533.39L197.2 533.25L197.45 533.12L197.7 532.98L197.95 532.84L198.2 532.7L198.45 532.56L198.7 532.42L198.95 532.29L199.2 532.15L199.45 532.02L199.7 531.9L199.95 531.78L200.2 531.67L200.45 531.56L200.7 531.46L200.95 531.37L201.2 531.29L201.45 531.22L201.7 531.15L201.95 531.1L202.2 531.06L202.45 531.03L202.7 531.01L202.95 531L203.2 531L203.45 531.02L203.7 531.04L203.95 531.08L204.2 531.13L204.45 531.19L204.7 531.26L204.95 531.34L205.2 531.42L205.45 531.52L205.7 531.62L205.95 531.73L206.2 531.85L206.45 531.97L206.7 532.1L206.95 532.23L207.2 532.37L207.45 532.5L207.7 532.64L207.95 532.78L208.2 532.92L208.45 533.06L208.7 533.2L208.95 533.33L209.2 533.47L209.45 533.6L209.7 533.73L209.95 533.85L210.2 533.97L210.45 534.08L210.7 534.19L210.95 534.3L211.2 534.4L211.45 534.5L211.7 534.59L211.95 534.67L212.2 534.75L212.45 534.83L212.7 534.9L212.95 534.96L213.2 535.03L213.45 535.08L213.7 535.13L213.95 535.18L214.2 535.23L214.45 535.27L214.7 535.3L214.95 535.34L215.2 535.37L215.45 535.39L215.45 535.6Z"/>
<path class="g1ll" d="M112.95 535.18L113.2 534.48L113.45 533.79L113.7 533.09L113.95 532.39L114.2 531.7L114.45 531L114.7 529.83L114.95 528.15L115.2 526.48L115.45 524.8L115.7 523.12L115.95 521.45L116.2 519.77L116.45 518.09L116.7 515.69L116.95 511.89L117.2 508.08L117.45 504.27L117.7 500.47L117.95 496.66L118.2 492.86L118.45 489.05L118.7 484.43L118.95 479.66L119.2 474.89L119.45 470.11L119.7 465.34L119.95 460.49L120.2 455.11L120.45 449.72L120.7 444.34L120.95 438.95L121.2 433.57L121.45 429.55L121.7 425.84L121.95 422.89L122.2 420.77L122.45 418.66L122.7 416.54L122.95 414.91L123.2 414.07L123.45 413.24L123.7 412.65L123.95 412.17L124.2 411.69"/>
<path class="g1lr" d="M124.2 411.69L124.45 411.79L124.7 412.28L124.95 412.77L125.2 413.46L125.45 414.31L125.7 415.17L125.95 417.36L126.2 419.63L126.45 421.91L126.7 424.42L126.95 428.63L127.2 432.99L127.45 439.5L127.7 446.02L127.95 452.54L128.2 459.05L128.45 464.98L128.7 470.62L128.95 476.26L129.2 481.9L129.45 487.54L129.7 492.09L129.95 496.42L130.2 500.76L130.45 505.1L130.7 509.44L130.95 513.77L131.2 517.45L131.45 519.22L131.7 520.99L131.95 522.76L132.2 524.54L132.45 526.31L132.7 528.08L132.95 529.86L133.2 531.04L133.45 531.75L133.7 532.46L133.95 533.18L134.2 533.89L134.45 534.6L134.7 535.31"/>
<path class="spl" d="M120.2 535.37L120.45 535.3L120.7 535.22L120.95 535.12L121.2 535L121.45 534.85L121.7 534.67L121.95 534.46L122.2 534.21L122.45 533.92L122.7 533.59L122.95 533.21L123.2 532.78L123.45 532.3L123.7 531.77L123.95 531.18L124.2 530.54L124.45 529.85L124.7 529.11L124.95 528.32L125.2 527.5L125.45 526.64L125.7 525.75L125.95 524.85L126.2 523.93L126.45 523.01L126.7 522.1L126.95 521.2L127.2 520.32L127.45 519.47L127.7 518.66L127.95 517.89L128.2 517.16L128.45 516.49L128.7 515.86L128.95 515.3L129.2 514.8L129.45 514.36L129.7 513.97L129.95 513.63L130.2 513.34L130.45 513.1L130.7 512.89L130.95 512.72L131.2 512.58L131.45 512.47L131.7 512.38L131.95 512.32L132.2 512.27L132.45 512.24L132.7 512.22L132.95 512.21L133.2 512.21L133.45 512.22L133.7 512.23L133.95 512.25L134.2 512.27L134.45 512.29L134.7 512.32L134.95 512.35L135.2 512.37L135.45 512.4L135.7 512.43L135.95 512.46L136.2 512.49L136.45 512.52L136.7 512.55L136.95 512.58L137.2 512.62L137.45 512.65L137.7 512.68L137.95 512.71L138.2 512.74L138.45 512.77L138.7 512.8L138.95 512.83L139.2 512.86L139.45 512.89L139.7 512.92L139.95 512.96L140.2 512.99L140.45 513.02L140.7 513.05L140.95 513.08L141.2 513.11L141.45 513.14L141.7 513.17L141.95 513.2L142.2 513.23L142.45 513.27L142.7 513.3L142.95 513.33L143.2 513.36L143.45 513.39L143.7 513.42L143.95 513.45L144.2 513.48L144.45 513.51L144.7 513.54L144.95 513.57L145.2 513.61L145.45 513.64L145.7 513.67L145.95 513.7L146.2 513.73L146.45 513.76L146.7 513.79L146.95 513.82L147.2 513.85L147.45 513.88L147.7 513.92L147.95 513.95L148.2 513.98L148.45 514.01L148.7 514.04L148.95 514.07L149.2 514.1L149.45 514.13L149.7 514.16L149.95 514.19L150.2 514.22L150.45 514.24L150.7 514.27L150.95 514.29L151.2 514.31L151.45 514.34L151.7 514.36L151.95 514.38L152.2 514.41L152.45 514.43L152.7 514.45L152.95 514.48L153.2 514.5L153.45 514.52L153.7 514.55L153.95 514.57L154.2 514.59L154.45 514.62L154.7 514.64L154.95 514.66L155.2 514.69L155.45 514.71L155.7 514.73L155.95 514.76L156.2 514.78L156.45 514.8L156.7 514.83L156.95 514.85L157.2 514.87L157.45 514.9L157.7 514.92L157.95 514.94L158.2 514.97L158.45 514.99L158.7 515.01L158.95 515.04L159.2 515.06L159.45 515.08L159.7 515.11L159.95 515.13L160.2 515.15L160.45 515.18L160.7 515.2L160.95 515.22L161.2 515.25L161.45 515.27L161.7 515.29L161.95 515.32L162.2 515.34L162.45 515.36L162.7 515.39L162.95 515.41L163.2 515.43L163.45 515.46L163.7 515.48L163.95 515.5L164.2 515.53L164.45 515.55L164.7 515.57L164.95 515.6L165.2 515.62L165.45 515.64L165.7 515.67L165.95 515.69L166.2 515.71L166.45 515.74L166.7 515.76L166.95 515.78L167.2 515.81L167.45 515.83L167.7 515.85L167.95 515.88L168.2 515.9L168.45 515.92L168.7 515.95L168.95 515.97L169.2 515.99L169.45 516.02L169.7 516.04L169.95 516.06L170.2 516.09L170.45 516.11L170.7 516.14L170.95 516.16L171.2 516.18L171.45 516.21L171.7 516.23L171.95 516.25L172.2 516.28L172.45 516.3L172.7 516.32L172.95 516.35L173.2 516.37L173.45 516.39L173.7 516.42L173.95 516.44L174.2 516.46L174.45 516.49L174.7 516.51L174.95 516.53L175.2 516.56L175.45 516.58L175.7 516.6L175.95 516.63L176.2 516.65L176.45 516.67L176.7 516.7L176.95 516.72L177.2 516.74L177.45 516.77L177.7 516.79L177.95 516.81L178.2 516.84L178.45 516.86L178.7 516.88L178.95 516.91L179.2 516.93L179.45 516.95L179.7 516.98L179.95 517L180.2 517.02L180.45 517.05L180.7 517.07L180.95 517.09L181.2 517.12L181.45 517.14L181.7 517.16L181.95 517.19L182.2 517.21L182.45 517.23L182.7 517.26L182.95 517.28L183.2 517.3L183.45 517.33L183.7 517.35L183.95 517.37L184.2 517.4L184.45 517.42L184.7 517.44L184.95 517.47L185.2 517.49L185.45 517.51L185.7 517.54L185.95 517.56L186.2 517.58L186.45 517.61L186.7 517.63L186.95 517.65L187.2 517.68L187.45 517.7L187.7 517.73L187.95 517.75L188.2 517.77L188.45 517.8L188.7 517.82L188.95 517.84L189.2 517.87L189.45 517.89L189.7 517.92L189.95 517.94L190.2 517.97L190.45 517.99L190.7 518.02L190.95 518.04L191.2 518.07L191.45 518.1L191.7 518.13L191.95 518.15L192.2 518.18L192.45 518.21L192.7 518.25L192.95 518.28L193.2 518.31L193.45 518.35L193.7 518.39L193.95 518.43L194.2 518.47L194.45 518.51L194.7 518.56L194.95 518.61L195.2 518.67L195.45 518.73L195.7 518.79L195.95 518.86L196.2 518.92L196.45 519L196.7 519.08L196.95 519.17L197.2 519.26L197.45 519.36L197.7 519.47L197.95 519.59L198.2 519.71L198.45 519.85L198.7 519.99L198.95 520.15L199.2 520.31L199.45 520.48L199.7 520.67L199.95 520.87L200.2 521.07L200.45 521.29L200.7 521.53L200.95 521.77L201.2 522.02L201.45 522.29L201.7 522.56L201.95 522.85L202.2 523.15L202.45 523.45L202.7 523.77L202.95 524.09L203.2 524.42L203.45 524.76L203.7 525.11L203.95 525.46L204.2 525.82L204.45 526.18L204.7 526.54L204.95 526.91L205.2 527.27L205.45 527.64L205.7 528L205.95 528.36L206.2 528.72L206.45 529.07L206.7 529.42L206.95 529.76L207.2 530.09L207.45 530.42L207.7 530.73L207.95 531.04L208.2 531.34L208.45 531.62L208.7 531.9L208.95 532.16L209.2 532.42L209.45 532.66L209.7 532.89L209.95 533.1L210.2 533.31L210.45 533.5L210.7 533.68L210.95 533.85L211.2 534.01L211.45 534.16L211.7 534.3L211.95 534.43L212.2 534.54L212.45 534.65L212.7 534.75L212.95 534.84L213.2 534.92L213.45 535L213.7 535.07L213.95 535.13L214.2 535.18L214.45 535.23L214.7 535.28L214.95 535.32L215.2 535.36L215.45 535.39"/>
<path class="dots" d="M113.88 528.27h1.1M114.17 526.23h1.1M114.16 523.13h1.1M116.41 502.29h1.1M116.68 500.64h1.1M117.03 493.64h1.1M117.24 490.87h1.1M117.08 488.67h1.1M117.46 482.5h1.1M117.71 480.92h1.1M118.97 454.15h1.1M119.75 445.58h1.1M119.86 443.41h1.1M120.33 430.65h1.1M120.53 427.68h1.1M120.96 420.86h1.1M121.2 418.24h1.1M121.53 416.39h1.1M121.86 413.98h1.1M121.99 412.04h1.1M122.52 408.94h1.1M122.82 406.8h1.1M122.85 405.23h1.1M123.18 402.96h1.1M123.54 401.19h1.1M123.74 398.62h1.1M124.32 400.22h1.1M124 401.9h1.1M124.42 404.59h1.1M124.73 405.8h1.1M124.86 408.34h1.1M125.18 410.33h1.1M125.11 412.57h1.1M125.82 415.17h1.1M126.1 416.72h1.1M126.17 418.91h1.1M126.32 421.45h1.1M126.72 423.99h1.1M126.25 427.22h1.1M127.2 428.48h1.1M126.93 432.12h1.1M127.18 434.16h1.1M127.26 437.58h1.1M127.49 440.11h1.1M127.88 442.34h1.1M127.48 444.7h1.1M127.67 447.77h1.1M127.76 450.9h1.1M128 452.57h1.1M128.06 454.8h1.1M128.02 457.52h1.1M128.21 460.23h1.1M128.27 462.55h1.1M128.14 465.16h1.1M128.45 467.06h1.1M128.8 469.43h1.1M128.68 471.84h1.1M128.69 474.04h1.1M128.82 476.01h1.1M129.09 478.13h1.1M129.14 480.56h1.1M129.05 482.66h1.1M129.37 485.1h1.1M129.57 486.97h1.1M129.4 489.24h1.1M129.87 492.7h1.1M129.76 495.38h1.1M130.18 497.25h1.1M129.92 500.71h1.1M131.15 501.84h1.1M132.52 504.78h1.1M133.51 505.58h1.1M134.97 507.21h1.1M136.83 506.27h1.1M138.59 508.66h1.1M140.64 510.82h1.1M142.49 509.89h1.1M144.52 509.65h1.1M146.81 511.86h1.1M148.76 512.3h1.1M150.94 512.97h1.1M152.99 513.16h1.1M155.21 513.02h1.1M157 514h1.1M159.16 512.74h1.1M161.35 513.36h1.1M163.35 514.09h1.1M165.49 514.08h1.1M167.72 513.06h1.1M169.95 514.53h1.1M172.01 515.16h1.1M173.84 515.81h1.1M176.32 514.25h1.1M177.91 515.96h1.1M180.16 514.35h1.1M182.48 516.52h1.1M184.1 514.49h1.1M186.75 515.46h1.1M188.46 517.84h1.1M190.82 516.18h1.1M192.66 515.82h1.1M195.08 518.02h1.1M197.06 516.79h1.1M198.7 518.81h1.1M200.35 522.72h1.1M201.62 523.41h1.1M203.37 522.45h1.1M204.42 528.1h1.1M205.49 526.77h1.1M206.72 531.33h1.1M208.18 530.15h1.1M209.77 531.61h1.1M211.53 531.8h1.1M50 534.05h1.1M55.24 534.69h1.1M57.78 534.34h1.1M61.24 534.82h1.1M66.48 533.99h1.1M69.91 533.89h1.1M75.87 534.05h1.1M80.5 534.27h1.1M85.26 534.42h1.1M90.36 533.84h1.1M95.52 534.06h1.1M99.89 534.1h1.1M103.43 534.34h1.1M107.55 534.13h1.1"/>
<text class="tl" x="42.9" y="386.2" textLength="13" lengthAdjust="spacingAndGlyphs" text-anchor="end">120</text>
<text class="tl" x="42.9" y="411.8" textLength="13" lengthAdjust="spacingAndGlyphs" text-anchor="end">100</text>
<text class="tl" x="42.9" y="436.7" textLength="9.7" lengthAdjust="spacingAndGlyphs" text-anchor="end">80</text>
<text class="tl" x="42.9" y="462.3" textLength="9.7" lengthAdjust="spacingAndGlyphs" text-anchor="end">60</text>
<text class="tl" x="42.9" y="487.5" textLength="9.7" lengthAdjust="spacingAndGlyphs" text-anchor="end">40</text>
<text class="tl" x="42.9" y="513.1" textLength="9.7" lengthAdjust="spacingAndGlyphs" text-anchor="end">20</text>
<text class="tl" x="42.9" y="537.3" textLength="4.7" lengthAdjust="spacingAndGlyphs" text-anchor="end">0</text>
<text class="tl" x="45.5" y="542.8" textLength="4.7" lengthAdjust="spacingAndGlyphs" text-anchor="middle">0</text>
<text class="tl" x="84.7" y="542.8" textLength="9.7" lengthAdjust="spacingAndGlyphs" text-anchor="middle">40</text>
<text class="tl" x="125.5" y="542.8" textLength="9.7" lengthAdjust="spacingAndGlyphs" text-anchor="middle">80</text>
<text class="tl" x="166" y="542.8" textLength="13" lengthAdjust="spacingAndGlyphs" text-anchor="middle">120</text>
<text class="tl" x="206" y="542.8" textLength="13" lengthAdjust="spacingAndGlyphs" text-anchor="middle">160</text>
<text class="tl" x="245" y="542.8" textLength="14.7" lengthAdjust="spacingAndGlyphs" text-anchor="middle">200</text>
<text class="ax" text-anchor="middle" transform="translate(14.1 462) rotate(-90)">Cell Number</text>
<text class="axd" text-anchor="middle" x="124.5" y="549.8" textLength="49.4" lengthAdjust="spacingAndGlyphs">DNA content</text>
<text class="letter" x="4.8" y="394">E</text>
<text class="st" x="151.2" y="423.9" textLength="82.6" lengthAdjust="spacingAndGlyphs">32D/v-src/neo</text>
<text class="st" x="151.2" y="455.2" textLength="17.2" lengthAdjust="spacingAndGlyphs">G1</text>
<text class="st" x="151.2" y="470.2" textLength="8" lengthAdjust="spacingAndGlyphs">S</text>
<text class="st" x="151.2" y="485.2" textLength="30.4" lengthAdjust="spacingAndGlyphs">G2/M</text>
<text class="st" x="190.4" y="455.2" textLength="33.2" lengthAdjust="spacingAndGlyphs">41.3%</text>
<text class="st" x="189.4" y="470.2" textLength="32.8" lengthAdjust="spacingAndGlyphs">57.0%</text>
<text class="st" x="194.4" y="485.2" textLength="25.9" lengthAdjust="spacingAndGlyphs">1.6%</text>
</g>
<g id="panelF">
<path class="base" d="M312.7 536.7H481"/>
<path class="rbase" d="M481 536.7H511.4"/>
<path class="g1" d="M375.2 536.4L375.2 536.16L375.45 535.56L375.7 534.97L375.95 534.37L376.2 533.77L376.45 533.17L376.7 532.58L376.95 531.98L377.2 530.89L377.45 529.47L377.7 528.04L377.95 526.61L378.2 525.19L378.45 523.76L378.7 522.33L378.95 520.91L379.2 519.48L379.45 517L379.7 513.81L379.95 510.62L380.2 507.44L380.45 504.25L380.7 501.07L380.95 497.88L381.2 494.69L381.45 491.36L381.7 487.39L381.95 483.42L382.2 479.46L382.45 475.49L382.7 471.52L382.95 467.55L383.2 463.23L383.45 458.77L383.7 454.31L383.95 449.86L384.2 445.4L384.45 440.94L384.7 437.43L384.95 434.32L385.2 431.32L385.45 429.52L385.7 427.72L385.95 425.93L386.2 424.13L386.45 422.92L386.7 422.2L386.95 421.49L387.2 420.95L387.45 420.54L387.7 420.13L387.95 419.88L388.2 420.31L388.45 420.73L388.7 421.15L388.95 421.85L389.2 422.6L389.45 423.41L389.7 425.4L389.95 427.39L390.2 429.39L390.45 431.38L390.7 435.06L390.95 438.81L391.2 444.25L391.45 450.15L391.7 456.05L391.95 461.95L392.2 467.66L392.45 472.73L392.7 477.8L392.95 482.88L393.2 487.95L393.45 492.8L393.7 496.66L393.95 500.53L394.2 504.39L394.45 508.25L394.7 512.11L394.95 515.97L395.2 519.28L395.45 520.83L395.7 522.38L395.95 523.92L396.2 525.47L396.45 527.02L396.7 528.57L396.95 530.11L397.2 531.66L397.45 532.32L397.7 532.94L397.95 533.56L398.2 534.18L398.45 534.79L398.7 535.41L398.95 536.03L398.95 536.4Z"/>
<path class="g1s" d="M375.2 536.4L375.2 536.16L375.45 535.56L375.7 534.97L375.95 534.37L376.2 533.77L376.45 533.17L376.7 532.58L376.95 531.98L377.2 530.89L377.45 529.47L377.7 528.04L377.95 526.61L378.2 525.19L378.45 523.76L378.7 522.33L378.95 520.91L379.2 519.48L379.45 517L379.7 513.81L379.95 510.62L380.2 507.44L380.45 504.25L380.7 501.07L380.95 497.88L381.2 494.69L381.45 491.36L381.7 487.39L381.95 483.42L382.2 479.46L382.45 475.49L382.7 471.52L382.95 467.55L383.2 463.23L383.45 458.77L383.7 454.31L383.95 449.86L384.2 445.4L384.45 440.94L384.7 437.43L384.95 434.32L385.2 431.32L385.45 429.52L385.7 427.72L385.95 425.93L386.2 424.13L386.45 422.92L386.7 422.2L386.95 421.49L387.2 420.95L387.45 420.54L387.7 420.13L387.95 419.88L388.2 420.31L388.45 420.73L388.7 421.15L388.95 421.85L389.2 422.6L389.45 423.41L389.7 425.4L389.95 427.39L390.2 429.39L390.45 431.38L390.7 435.06L390.95 438.81L391.2 444.25L391.45 450.15L391.7 456.05L391.95 461.95L392.2 467.66L392.45 472.73L392.7 477.8L392.95 482.88L393.2 487.95L393.45 492.8L393.7 496.66L393.95 500.53L394.2 504.39L394.45 508.25L394.7 512.11L394.95 515.97L395.2 519.28L395.45 520.83L395.7 522.38L395.95 523.92L396.2 525.47L396.45 527.02L396.7 528.57L396.95 530.11L397.2 531.66L397.45 532.32L397.7 532.94L397.95 533.56L398.2 534.18L398.45 534.79L398.7 535.41L398.95 536.03L398.95 536.4Z"/>
<path class="sp" fill="url(#sgF)" d="M382.95 536.4L382.95 536.19L383.2 536.13L383.45 536.06L383.7 535.98L383.95 535.88L384.2 535.76L384.45 535.61L384.7 535.45L384.95 535.25L385.2 535.03L385.45 534.77L385.7 534.47L385.95 534.14L386.2 533.77L386.45 533.36L386.7 532.91L386.95 532.41L387.2 531.87L387.45 531.29L387.7 530.68L387.95 530.02L388.2 529.34L388.45 528.62L388.7 527.88L388.95 527.13L389.2 526.36L389.45 525.58L389.7 524.8L389.95 524.03L390.2 523.27L390.45 522.53L390.7 521.81L390.95 521.11L391.2 520.45L391.45 519.83L391.7 519.24L391.95 518.69L392.2 518.19L392.45 517.72L392.7 517.3L392.95 516.93L393.2 516.59L393.45 516.29L393.7 516.02L393.95 515.79L394.2 515.6L394.45 515.43L394.7 515.28L394.95 515.16L395.2 515.07L395.45 515L395.7 514.95L395.95 514.91L396.2 514.88L396.45 514.86L396.7 514.85L396.95 514.84L397.2 514.84L397.45 514.84L397.7 514.85L397.95 514.86L398.2 514.88L398.45 514.89L398.7 514.91L398.95 514.92L399.2 514.94L399.45 514.96L399.7 514.98L399.95 515L400.2 515.02L400.45 515.04L400.7 515.06L400.95 515.08L401.2 515.1L401.45 515.12L401.7 515.14L401.95 515.16L402.2 515.18L402.45 515.2L402.7 515.22L402.95 515.24L403.2 515.26L403.45 515.28L403.7 515.3L403.95 515.32L404.2 515.34L404.45 515.36L404.7 515.38L404.95 515.4L405.2 515.42L405.45 515.44L405.7 515.46L405.95 515.48L406.2 515.5L406.45 515.52L406.7 515.54L406.95 515.56L407.2 515.58L407.45 515.6L407.7 515.62L407.95 515.64L408.2 515.66L408.45 515.68L408.7 515.7L408.95 515.72L409.2 515.74L409.45 515.76L409.7 515.78L409.95 515.8L410.2 515.82L410.45 515.84L410.7 515.86L410.95 515.88L411.2 515.9L411.45 515.92L411.7 515.94L411.95 515.96L412.2 515.98L412.45 516L412.7 516.02L412.95 516.04L413.2 516.06L413.45 516.08L413.7 516.1L413.95 516.12L414.2 516.14L414.45 516.16L414.7 516.18L414.95 516.2L415.2 516.22L415.45 516.24L415.7 516.26L415.95 516.28L416.2 516.3L416.45 516.32L416.7 516.34L416.95 516.36L417.2 516.38L417.45 516.4L417.7 516.42L417.95 516.44L418.2 516.46L418.45 516.48L418.7 516.5L418.95 516.52L419.2 516.54L419.45 516.56L419.7 516.58L419.95 516.6L420.2 516.61L420.45 516.63L420.7 516.64L420.95 516.66L421.2 516.68L421.45 516.69L421.7 516.71L421.95 516.72L422.2 516.74L422.45 516.76L422.7 516.77L422.95 516.79L423.2 516.8L423.45 516.82L423.7 516.84L423.95 516.85L424.2 516.87L424.45 516.88L424.7 516.9L424.95 516.92L425.2 516.93L425.45 516.95L425.7 516.96L425.95 516.98L426.2 517L426.45 517.01L426.7 517.03L426.95 517.04L427.2 517.06L427.45 517.08L427.7 517.09L427.95 517.11L428.2 517.12L428.45 517.14L428.7 517.16L428.95 517.17L429.2 517.19L429.45 517.2L429.7 517.22L429.95 517.24L430.2 517.25L430.45 517.27L430.7 517.28L430.95 517.3L431.2 517.32L431.45 517.33L431.7 517.35L431.95 517.36L432.2 517.38L432.45 517.4L432.7 517.41L432.95 517.43L433.2 517.44L433.45 517.46L433.7 517.48L433.95 517.49L434.2 517.51L434.45 517.52L434.7 517.54L434.95 517.56L435.2 517.57L435.45 517.59L435.7 517.6L435.95 517.62L436.2 517.64L436.45 517.65L436.7 517.67L436.95 517.68L437.2 517.7L437.45 517.72L437.7 517.73L437.95 517.75L438.2 517.76L438.45 517.78L438.7 517.8L438.95 517.81L439.2 517.83L439.45 517.84L439.7 517.86L439.95 517.88L440.2 517.89L440.45 517.91L440.7 517.92L440.95 517.94L441.2 517.96L441.45 517.97L441.7 517.99L441.95 518L442.2 518.02L442.45 518.04L442.7 518.05L442.95 518.07L443.2 518.08L443.45 518.1L443.7 518.12L443.95 518.13L444.2 518.15L444.45 518.16L444.7 518.18L444.95 518.2L445.2 518.21L445.45 518.22L445.7 518.24L445.95 518.25L446.2 518.26L446.45 518.27L446.7 518.29L446.95 518.3L447.2 518.31L447.45 518.33L447.7 518.34L447.95 518.35L448.2 518.36L448.45 518.38L448.7 518.39L448.95 518.4L449.2 518.42L449.45 518.43L449.7 518.44L449.95 518.45L450.2 518.47L450.45 518.48L450.7 518.49L450.95 518.51L451.2 518.52L451.45 518.53L451.7 518.54L451.95 518.56L452.2 518.57L452.45 518.58L452.7 518.6L452.95 518.61L453.2 518.62L453.45 518.64L453.7 518.65L453.95 518.66L454.2 518.67L454.45 518.69L454.7 518.7L454.95 518.71L455.2 518.73L455.45 518.74L455.7 518.75L455.95 518.77L456.2 518.78L456.45 518.8L456.7 518.81L456.95 518.83L457.2 518.84L457.45 518.86L457.7 518.87L457.95 518.89L458.2 518.91L458.45 518.93L458.7 518.95L458.95 518.97L459.2 518.99L459.45 519.02L459.7 519.04L459.95 519.07L460.2 519.11L460.45 519.14L460.7 519.18L460.95 519.22L461.2 519.27L461.45 519.32L461.7 519.37L461.95 519.43L462.2 519.5L462.45 519.58L462.7 519.66L462.95 519.75L463.2 519.85L463.45 519.95L463.7 520.07L463.95 520.2L464.2 520.34L464.45 520.49L464.7 520.65L464.95 520.83L465.2 521.01L465.45 521.22L465.7 521.43L465.95 521.66L466.2 521.91L466.45 522.17L466.7 522.44L466.95 522.73L467.2 523.03L467.45 523.34L467.7 523.67L467.95 524.01L468.2 524.36L468.45 524.72L468.7 525.09L468.95 525.47L469.2 525.86L469.45 526.26L469.7 526.66L469.95 527.06L470.2 527.47L470.45 527.87L470.7 528.28L470.95 528.69L471.2 529.09L471.45 529.49L471.7 529.88L471.95 530.26L472.2 530.64L472.45 531.01L472.7 531.36L472.95 531.71L473.2 532.04L473.45 532.36L473.7 532.67L473.95 532.96L474.2 533.24L474.45 533.51L474.7 533.75L474.95 533.99L475.2 534.21L475.45 534.42L475.7 534.61L475.95 534.79L476.2 534.95L476.45 535.1L476.7 535.24L476.95 535.37L477.2 535.48L477.45 535.59L477.7 535.69L477.95 535.77L478.2 535.85L478.45 535.92L478.7 535.98L478.95 536.04L479.2 536.08L479.45 536.13L479.7 536.17L479.95 536.2L479.95 536.4Z"/>
<path class="sps" d="M382.95 536.4L382.95 536.19L383.2 536.13L383.45 536.06L383.7 535.98L383.95 535.88L384.2 535.76L384.45 535.61L384.7 535.45L384.95 535.25L385.2 535.03L385.45 534.77L385.7 534.47L385.95 534.14L386.2 533.77L386.45 533.36L386.7 532.91L386.95 532.41L387.2 531.87L387.45 531.29L387.7 530.68L387.95 530.02L388.2 529.34L388.45 528.62L388.7 527.88L388.95 527.13L389.2 526.36L389.45 525.58L389.7 524.8L389.95 524.03L390.2 523.27L390.45 522.53L390.7 521.81L390.95 521.11L391.2 520.45L391.45 519.83L391.7 519.24L391.95 518.69L392.2 518.19L392.45 517.72L392.7 517.3L392.95 516.93L393.2 516.59L393.45 516.29L393.7 516.02L393.95 515.79L394.2 515.6L394.45 515.43L394.7 515.28L394.95 515.16L395.2 515.07L395.45 515L395.7 514.95L395.95 514.91L396.2 514.88L396.45 514.86L396.7 514.85L396.95 514.84L397.2 514.84L397.45 514.84L397.7 514.85L397.95 514.86L398.2 514.88L398.45 514.89L398.7 514.91L398.95 514.92L399.2 514.94L399.45 514.96L399.7 514.98L399.95 515L400.2 515.02L400.45 515.04L400.7 515.06L400.95 515.08L401.2 515.1L401.45 515.12L401.7 515.14L401.95 515.16L402.2 515.18L402.45 515.2L402.7 515.22L402.95 515.24L403.2 515.26L403.45 515.28L403.7 515.3L403.95 515.32L404.2 515.34L404.45 515.36L404.7 515.38L404.95 515.4L405.2 515.42L405.45 515.44L405.7 515.46L405.95 515.48L406.2 515.5L406.45 515.52L406.7 515.54L406.95 515.56L407.2 515.58L407.45 515.6L407.7 515.62L407.95 515.64L408.2 515.66L408.45 515.68L408.7 515.7L408.95 515.72L409.2 515.74L409.45 515.76L409.7 515.78L409.95 515.8L410.2 515.82L410.45 515.84L410.7 515.86L410.95 515.88L411.2 515.9L411.45 515.92L411.7 515.94L411.95 515.96L412.2 515.98L412.45 516L412.7 516.02L412.95 516.04L413.2 516.06L413.45 516.08L413.7 516.1L413.95 516.12L414.2 516.14L414.45 516.16L414.7 516.18L414.95 516.2L415.2 516.22L415.45 516.24L415.7 516.26L415.95 516.28L416.2 516.3L416.45 516.32L416.7 516.34L416.95 516.36L417.2 516.38L417.45 516.4L417.7 516.42L417.95 516.44L418.2 516.46L418.45 516.48L418.7 516.5L418.95 516.52L419.2 516.54L419.45 516.56L419.7 516.58L419.95 516.6L420.2 516.61L420.45 516.63L420.7 516.64L420.95 516.66L421.2 516.68L421.45 516.69L421.7 516.71L421.95 516.72L422.2 516.74L422.45 516.76L422.7 516.77L422.95 516.79L423.2 516.8L423.45 516.82L423.7 516.84L423.95 516.85L424.2 516.87L424.45 516.88L424.7 516.9L424.95 516.92L425.2 516.93L425.45 516.95L425.7 516.96L425.95 516.98L426.2 517L426.45 517.01L426.7 517.03L426.95 517.04L427.2 517.06L427.45 517.08L427.7 517.09L427.95 517.11L428.2 517.12L428.45 517.14L428.7 517.16L428.95 517.17L429.2 517.19L429.45 517.2L429.7 517.22L429.95 517.24L430.2 517.25L430.45 517.27L430.7 517.28L430.95 517.3L431.2 517.32L431.45 517.33L431.7 517.35L431.95 517.36L432.2 517.38L432.45 517.4L432.7 517.41L432.95 517.43L433.2 517.44L433.45 517.46L433.7 517.48L433.95 517.49L434.2 517.51L434.45 517.52L434.7 517.54L434.95 517.56L435.2 517.57L435.45 517.59L435.7 517.6L435.95 517.62L436.2 517.64L436.45 517.65L436.7 517.67L436.95 517.68L437.2 517.7L437.45 517.72L437.7 517.73L437.95 517.75L438.2 517.76L438.45 517.78L438.7 517.8L438.95 517.81L439.2 517.83L439.45 517.84L439.7 517.86L439.95 517.88L440.2 517.89L440.45 517.91L440.7 517.92L440.95 517.94L441.2 517.96L441.45 517.97L441.7 517.99L441.95 518L442.2 518.02L442.45 518.04L442.7 518.05L442.95 518.07L443.2 518.08L443.45 518.1L443.7 518.12L443.95 518.13L444.2 518.15L444.45 518.16L444.7 518.18L444.95 518.2L445.2 518.21L445.45 518.22L445.7 518.24L445.95 518.25L446.2 518.26L446.45 518.27L446.7 518.29L446.95 518.3L447.2 518.31L447.45 518.33L447.7 518.34L447.95 518.35L448.2 518.36L448.45 518.38L448.7 518.39L448.95 518.4L449.2 518.42L449.45 518.43L449.7 518.44L449.95 518.45L450.2 518.47L450.45 518.48L450.7 518.49L450.95 518.51L451.2 518.52L451.45 518.53L451.7 518.54L451.95 518.56L452.2 518.57L452.45 518.58L452.7 518.6L452.95 518.61L453.2 518.62L453.45 518.64L453.7 518.65L453.95 518.66L454.2 518.67L454.45 518.69L454.7 518.7L454.95 518.71L455.2 518.73L455.45 518.74L455.7 518.75L455.95 518.77L456.2 518.78L456.45 518.8L456.7 518.81L456.95 518.83L457.2 518.84L457.45 518.86L457.7 518.87L457.95 518.89L458.2 518.91L458.45 518.93L458.7 518.95L458.95 518.97L459.2 518.99L459.45 519.02L459.7 519.04L459.95 519.07L460.2 519.11L460.45 519.14L460.7 519.18L460.95 519.22L461.2 519.27L461.45 519.32L461.7 519.37L461.95 519.43L462.2 519.5L462.45 519.58L462.7 519.66L462.95 519.75L463.2 519.85L463.45 519.95L463.7 520.07L463.95 520.2L464.2 520.34L464.45 520.49L464.7 520.65L464.95 520.83L465.2 521.01L465.45 521.22L465.7 521.43L465.95 521.66L466.2 521.91L466.45 522.17L466.7 522.44L466.95 522.73L467.2 523.03L467.45 523.34L467.7 523.67L467.95 524.01L468.2 524.36L468.45 524.72L468.7 525.09L468.95 525.47L469.2 525.86L469.45 526.26L469.7 526.66L469.95 527.06L470.2 527.47L470.45 527.87L470.7 528.28L470.95 528.69L471.2 529.09L471.45 529.49L471.7 529.88L471.95 530.26L472.2 530.64L472.45 531.01L472.7 531.36L472.95 531.71L473.2 532.04L473.45 532.36L473.7 532.67L473.95 532.96L474.2 533.24L474.45 533.51L474.7 533.75L474.95 533.99L475.2 534.21L475.45 534.42L475.7 534.61L475.95 534.79L476.2 534.95L476.45 535.1L476.7 535.24L476.95 535.37L477.2 535.48L477.45 535.59L477.7 535.69L477.95 535.77L478.2 535.85L478.45 535.92L478.7 535.98L478.95 536.04L479.2 536.08L479.45 536.13L479.7 536.17L479.95 536.2L479.95 536.4Z"/>
<path class="g1i" d="M388.5 433.8L389.72 513.47"/>
<path class="ov" d="M382.95 536.4L382.95 536.19L383.2 536.13L383.45 536.06L383.7 535.98L383.95 535.88L384.2 535.76L384.45 535.61L384.7 535.45L384.95 535.25L385.2 535.03L385.45 534.77L385.7 534.47L385.95 534.14L386.2 533.77L386.45 533.36L386.7 532.91L386.95 532.41L387.2 531.87L387.45 531.29L387.7 530.68L387.95 530.02L388.2 529.34L388.45 528.62L388.7 527.88L388.95 527.13L389.2 526.36L389.45 525.58L389.7 524.8L389.95 524.03L390.2 523.27L390.45 522.53L390.7 521.81L390.95 521.11L391.2 520.45L391.45 519.83L391.7 519.24L391.95 518.69L392.2 518.19L392.45 517.72L392.7 517.3L392.95 516.93L393.2 516.59L393.45 516.29L393.7 516.02L393.95 515.79L394.2 515.6L394.45 515.43L394.7 515.28L394.95 515.97L395.2 519.28L395.45 520.83L395.7 522.38L395.95 523.92L396.2 525.47L396.45 527.02L396.7 528.57L396.95 530.11L397.2 531.66L397.45 532.32L397.7 532.94L397.95 533.56L398.2 534.18L398.45 534.79L398.7 535.41L398.95 536.03L398.95 536.4Z"/>
<path class="g2" fill="#3c3c3c" d="M452.2 536.4L452.2 536.17L452.45 536.13L452.7 536.08L452.95 536.03L453.2 535.98L453.45 535.91L453.7 535.84L453.95 535.76L454.2 535.67L454.45 535.57L454.7 535.46L454.95 535.33L455.2 535.2L455.45 535.05L455.7 534.89L455.95 534.72L456.2 534.53L456.45 534.32L456.7 534.11L456.95 533.87L457.2 533.63L457.45 533.36L457.7 533.09L457.95 532.8L458.2 532.5L458.45 532.19L458.7 531.86L458.95 531.53L459.2 531.19L459.45 530.84L459.7 530.49L459.95 530.14L460.2 529.79L460.45 529.44L460.7 529.1L460.95 528.77L461.2 528.44L461.45 528.13L461.7 527.83L461.95 527.56L462.2 527.3L462.45 527.06L462.7 526.85L462.95 526.67L463.2 526.51L463.45 526.39L463.7 526.29L463.95 526.23L464.2 526.2L464.45 526.21L464.7 526.24L464.95 526.31L465.2 526.41L465.45 526.54L465.7 526.7L465.95 526.89L466.2 527.11L466.45 527.35L466.7 527.61L466.95 527.89L467.2 528.19L467.45 528.51L467.7 528.83L467.95 529.17L468.2 529.51L468.45 529.86L468.7 530.21L468.95 530.56L469.2 530.91L469.45 531.26L469.7 531.6L469.95 531.93L470.2 532.25L470.45 532.56L470.7 532.86L470.95 533.14L471.2 533.42L471.45 533.68L471.7 533.92L471.95 534.15L472.2 534.36L472.45 534.57L472.7 534.75L472.95 534.92L473.2 535.08L473.45 535.23L473.7 535.36L473.95 535.48L474.2 535.59L474.45 535.69L474.7 535.78L474.95 535.85L475.2 535.93L475.45 535.99L475.7 536.04L475.95 536.09L476.2 536.14L476.45 536.17L476.45 536.4Z"/>
<path class="g1ll" d="M375.2 536.16L375.45 535.56L375.7 534.97L375.95 534.37L376.2 533.77L376.45 533.17L376.7 532.58L376.95 531.98L377.2 530.89L377.45 529.47L377.7 528.04L377.95 526.61L378.2 525.19L378.45 523.76L378.7 522.33L378.95 520.91L379.2 519.48L379.45 517L379.7 513.81L379.95 510.62L380.2 507.44L380.45 504.25L380.7 501.07L380.95 497.88L381.2 494.69L381.45 491.36L381.7 487.39L381.95 483.42L382.2 479.46L382.45 475.49L382.7 471.52L382.95 467.55L383.2 463.23L383.45 458.77L383.7 454.31L383.95 449.86L384.2 445.4L384.45 440.94L384.7 437.43L384.95 434.32L385.2 431.32L385.45 429.52L385.7 427.72L385.95 425.93L386.2 424.13L386.45 422.92L386.7 422.2L386.95 421.49L387.2 420.95L387.45 420.54L387.7 420.13L387.95 419.88"/>
<path class="g1lr" d="M387.95 419.88L388.2 420.31L388.45 420.73L388.7 421.15L388.95 421.85L389.2 422.6L389.45 423.41L389.7 425.4L389.95 427.39L390.2 429.39L390.45 431.38L390.7 435.06L390.95 438.81L391.2 444.25L391.45 450.15L391.7 456.05L391.95 461.95L392.2 467.66L392.45 472.73L392.7 477.8L392.95 482.88L393.2 487.95L393.45 492.8L393.7 496.66L393.95 500.53L394.2 504.39L394.45 508.25L394.7 512.11L394.95 515.97L395.2 519.28L395.45 520.83L395.7 522.38L395.95 523.92L396.2 525.47L396.45 527.02L396.7 528.57L396.95 530.11L397.2 531.66L397.45 532.32L397.7 532.94L397.95 533.56L398.2 534.18L398.45 534.79L398.7 535.41L398.95 536.03"/>
<path class="spl" d="M382.95 536.19L383.2 536.13L383.45 536.06L383.7 535.98L383.95 535.88L384.2 535.76L384.45 535.61L384.7 535.45L384.95 535.25L385.2 535.03L385.45 534.77L385.7 534.47L385.95 534.14L386.2 533.77L386.45 533.36L386.7 532.91L386.95 532.41L387.2 531.87L387.45 531.29L387.7 530.68L387.95 530.02L388.2 529.34L388.45 528.62L388.7 527.88L388.95 527.13L389.2 526.36L389.45 525.58L389.7 524.8L389.95 524.03L390.2 523.27L390.45 522.53L390.7 521.81L390.95 521.11L391.2 520.45L391.45 519.83L391.7 519.24L391.95 518.69L392.2 518.19L392.45 517.72L392.7 517.3L392.95 516.93L393.2 516.59L393.45 516.29L393.7 516.02L393.95 515.79L394.2 515.6L394.45 515.43L394.7 515.28L394.95 515.16L395.2 515.07L395.45 515L395.7 514.95L395.95 514.91L396.2 514.88L396.45 514.86L396.7 514.85L396.95 514.84L397.2 514.84L397.45 514.84L397.7 514.85L397.95 514.86L398.2 514.88L398.45 514.89L398.7 514.91L398.95 514.92L399.2 514.94L399.45 514.96L399.7 514.98L399.95 515L400.2 515.02L400.45 515.04L400.7 515.06L400.95 515.08L401.2 515.1L401.45 515.12L401.7 515.14L401.95 515.16L402.2 515.18L402.45 515.2L402.7 515.22L402.95 515.24L403.2 515.26L403.45 515.28L403.7 515.3L403.95 515.32L404.2 515.34L404.45 515.36L404.7 515.38L404.95 515.4L405.2 515.42L405.45 515.44L405.7 515.46L405.95 515.48L406.2 515.5L406.45 515.52L406.7 515.54L406.95 515.56L407.2 515.58L407.45 515.6L407.7 515.62L407.95 515.64L408.2 515.66L408.45 515.68L408.7 515.7L408.95 515.72L409.2 515.74L409.45 515.76L409.7 515.78L409.95 515.8L410.2 515.82L410.45 515.84L410.7 515.86L410.95 515.88L411.2 515.9L411.45 515.92L411.7 515.94L411.95 515.96L412.2 515.98L412.45 516L412.7 516.02L412.95 516.04L413.2 516.06L413.45 516.08L413.7 516.1L413.95 516.12L414.2 516.14L414.45 516.16L414.7 516.18L414.95 516.2L415.2 516.22L415.45 516.24L415.7 516.26L415.95 516.28L416.2 516.3L416.45 516.32L416.7 516.34L416.95 516.36L417.2 516.38L417.45 516.4L417.7 516.42L417.95 516.44L418.2 516.46L418.45 516.48L418.7 516.5L418.95 516.52L419.2 516.54L419.45 516.56L419.7 516.58L419.95 516.6L420.2 516.61L420.45 516.63L420.7 516.64L420.95 516.66L421.2 516.68L421.45 516.69L421.7 516.71L421.95 516.72L422.2 516.74L422.45 516.76L422.7 516.77L422.95 516.79L423.2 516.8L423.45 516.82L423.7 516.84L423.95 516.85L424.2 516.87L424.45 516.88L424.7 516.9L424.95 516.92L425.2 516.93L425.45 516.95L425.7 516.96L425.95 516.98L426.2 517L426.45 517.01L426.7 517.03L426.95 517.04L427.2 517.06L427.45 517.08L427.7 517.09L427.95 517.11L428.2 517.12L428.45 517.14L428.7 517.16L428.95 517.17L429.2 517.19L429.45 517.2L429.7 517.22L429.95 517.24L430.2 517.25L430.45 517.27L430.7 517.28L430.95 517.3L431.2 517.32L431.45 517.33L431.7 517.35L431.95 517.36L432.2 517.38L432.45 517.4L432.7 517.41L432.95 517.43L433.2 517.44L433.45 517.46L433.7 517.48L433.95 517.49L434.2 517.51L434.45 517.52L434.7 517.54L434.95 517.56L435.2 517.57L435.45 517.59L435.7 517.6L435.95 517.62L436.2 517.64L436.45 517.65L436.7 517.67L436.95 517.68L437.2 517.7L437.45 517.72L437.7 517.73L437.95 517.75L438.2 517.76L438.45 517.78L438.7 517.8L438.95 517.81L439.2 517.83L439.45 517.84L439.7 517.86L439.95 517.88L440.2 517.89L440.45 517.91L440.7 517.92L440.95 517.94L441.2 517.96L441.45 517.97L441.7 517.99L441.95 518L442.2 518.02L442.45 518.04L442.7 518.05L442.95 518.07L443.2 518.08L443.45 518.1L443.7 518.12L443.95 518.13L444.2 518.15L444.45 518.16L444.7 518.18L444.95 518.2L445.2 518.21L445.45 518.22L445.7 518.24L445.95 518.25L446.2 518.26L446.45 518.27L446.7 518.29L446.95 518.3L447.2 518.31L447.45 518.33L447.7 518.34L447.95 518.35L448.2 518.36L448.45 518.38L448.7 518.39L448.95 518.4L449.2 518.42L449.45 518.43L449.7 518.44L449.95 518.45L450.2 518.47L450.45 518.48L450.7 518.49L450.95 518.51L451.2 518.52L451.45 518.53L451.7 518.54L451.95 518.56L452.2 518.57L452.45 518.58L452.7 518.6L452.95 518.61L453.2 518.62L453.45 518.64L453.7 518.65L453.95 518.66L454.2 518.67L454.45 518.69L454.7 518.7L454.95 518.71L455.2 518.73L455.45 518.74L455.7 518.75L455.95 518.77L456.2 518.78L456.45 518.8L456.7 518.81L456.95 518.83L457.2 518.84L457.45 518.86L457.7 518.87L457.95 518.89L458.2 518.91L458.45 518.93L458.7 518.95L458.95 518.97L459.2 518.99L459.45 519.02L459.7 519.04L459.95 519.07L460.2 519.11L460.45 519.14L460.7 519.18L460.95 519.22L461.2 519.27L461.45 519.32L461.7 519.37L461.95 519.43L462.2 519.5L462.45 519.58L462.7 519.66L462.95 519.75L463.2 519.85L463.45 519.95L463.7 520.07L463.95 520.2L464.2 520.34L464.45 520.49L464.7 520.65L464.95 520.83L465.2 521.01L465.45 521.22L465.7 521.43L465.95 521.66L466.2 521.91L466.45 522.17L466.7 522.44L466.95 522.73L467.2 523.03L467.45 523.34L467.7 523.67L467.95 524.01L468.2 524.36L468.45 524.72L468.7 525.09L468.95 525.47L469.2 525.86L469.45 526.26L469.7 526.66L469.95 527.06L470.2 527.47L470.45 527.87L470.7 528.28L470.95 528.69L471.2 529.09L471.45 529.49L471.7 529.88L471.95 530.26L472.2 530.64L472.45 531.01L472.7 531.36L472.95 531.71L473.2 532.04L473.45 532.36L473.7 532.67L473.95 532.96L474.2 533.24L474.45 533.51L474.7 533.75L474.95 533.99L475.2 534.21L475.45 534.42L475.7 534.61L475.95 534.79L476.2 534.95L476.45 535.1L476.7 535.24L476.95 535.37L477.2 535.48L477.45 535.59L477.7 535.69L477.95 535.77L478.2 535.85L478.45 535.92L478.7 535.98L478.95 536.04L479.2 536.08L479.45 536.13L479.7 536.17L479.95 536.2"/>
<path class="dots" d="M375.48 530.29h1.1M377.62 521.89h1.1M378.48 516.17h1.1M379.47 504.71h1.1M379.87 498.96h1.1M380.15 495.78h1.1M380.86 483.85h1.1M381.55 476.57h1.1M381.89 469.71h1.1M382.68 454.17h1.1M383.84 435.74h1.1M384.18 433.37h1.1M384.16 430.57h1.1M384.44 428.83h1.1M385.3 427.74h1.1M385.3 424.3h1.1M385.45 421.48h1.1M385.86 419.68h1.1M386.36 417.32h1.1M386.2 414.28h1.1M386.38 413.07h1.1M387 409.94h1.1M387.02 408.27h1.1M387.5 406.69h1.1M387.85 408.56h1.1M387.89 411.3h1.1M388.46 413.65h1.1M388.89 416.32h1.1M388.98 418.49h1.1M389.02 420.96h1.1M389.65 423.57h1.1M390.1 425.13h1.1M390.23 428.5h1.1M390.47 430.41h1.1M390.61 432.83h1.1M390.89 434.43h1.1M390.78 436.04h1.1M391.28 439.5h1.1M391.14 441.83h1.1M391.21 444.74h1.1M391.54 445.76h1.1M391.55 449.2h1.1M391.6 451.56h1.1M392 454.02h1.1M392.03 456.7h1.1M391.72 459.41h1.1M392.08 460.82h1.1M392.28 464.35h1.1M392.13 465.33h1.1M392.46 467.87h1.1M392.38 471.76h1.1M392.81 475.03h1.1M392.98 478.32h1.1M392.93 480.71h1.1M393.1 483.76h1.1M393.47 487.36h1.1M393.14 490.22h1.1M393.44 492.06h1.1M393.95 495.51h1.1M394.08 497.53h1.1M394.33 499h1.1M394.33 501.53h1.1M394.26 503.29h1.1M395.73 506.65h1.1M396.89 507.29h1.1M398.18 508.66h1.1M399.71 511.69h1.1M401.75 511.74h1.1M403.52 511.6h1.1M405.46 512.26h1.1M407.53 512.18h1.1M409.71 513.13h1.1M411.68 513.6h1.1M413.99 515.26h1.1M415.73 513.04h1.1M418.04 514.65h1.1M420.02 514.98h1.1M422.41 514.73h1.1M424.47 514.35h1.1M426.32 515.56h1.1M428.44 514.63h1.1M430.39 514.98h1.1M432.59 515.55h1.1M434.91 516.38h1.1M437.03 516.11h1.1M439.02 516.8h1.1M441.16 517.45h1.1M443.07 516.81h1.1M445.28 517.99h1.1M447.48 515.72h1.1M449.52 517.52h1.1M451.56 518.35h1.1M453.69 515.13h1.1M455.8 517.9h1.1M456.68 515.91h1.1M457.58 515.86h1.1M459.29 511.03h1.1M461.45 509.33h1.1M463.3 511.1h1.1M464.35 510.91h1.1M465.76 517.3h1.1M466.61 517.91h1.1M467.85 520.04h1.1M468.73 522.77h1.1M469.62 524.04h1.1M470.68 525.51h1.1M471.62 526.16h1.1M472.49 527.68h1.1M474.1 531.9h1.1M475.65 529.36h1.1M477.61 534.71h1.1M320 534.14h1.1M322.89 535.18h1.1M325.57 535.1h1.1M330.69 534.81h1.1M335.75 534.78h1.1M339.25 534.53h1.1M342.46 535.03h1.1M347.68 534.95h1.1M350.93 534.71h1.1M354.33 534.95h1.1M359.43 535.19h1.1M364.41 534.82h1.1M369.63 534.11h1.1"/>
<text class="tl" x="309.9" y="384.4" textLength="13" lengthAdjust="spacingAndGlyphs" text-anchor="end">120</text>
<text class="tl" x="309.9" y="410" textLength="13" lengthAdjust="spacingAndGlyphs" text-anchor="end">100</text>
<text class="tl" x="309.9" y="436.2" textLength="9.7" lengthAdjust="spacingAndGlyphs" text-anchor="end">80</text>
<text class="tl" x="309.9" y="461.8" textLength="9.7" lengthAdjust="spacingAndGlyphs" text-anchor="end">60</text>
<text class="tl" x="309.9" y="487.4" textLength="9.7" lengthAdjust="spacingAndGlyphs" text-anchor="end">40</text>
<text class="tl" x="309.9" y="513" textLength="9.7" lengthAdjust="spacingAndGlyphs" text-anchor="end">20</text>
<text class="tl" x="309.9" y="538.1" textLength="4.7" lengthAdjust="spacingAndGlyphs" text-anchor="end">0</text>
<text class="tl" x="312.7" y="542.8" textLength="4.7" lengthAdjust="spacingAndGlyphs" text-anchor="middle">0</text>
<text class="tl" x="352.4" y="542.8" textLength="9.7" lengthAdjust="spacingAndGlyphs" text-anchor="middle">40</text>
<text class="tl" x="392.9" y="542.8" textLength="9.7" lengthAdjust="spacingAndGlyphs" text-anchor="middle">80</text>
<text class="tl" x="432.6" y="542.8" textLength="13" lengthAdjust="spacingAndGlyphs" text-anchor="middle">120</text>
<text class="tl" x="471.5" y="542.8" textLength="13" lengthAdjust="spacingAndGlyphs" text-anchor="middle">160</text>
<text class="tl" x="507" y="542.8" textLength="14.7" lengthAdjust="spacingAndGlyphs" text-anchor="middle">200</text>
<text class="ax" text-anchor="middle" transform="translate(282.6 462) rotate(-90)">Cell Number</text>
<text class="axd" text-anchor="middle" x="390.5" y="549.8" textLength="49.4" lengthAdjust="spacingAndGlyphs">DNA content</text>
<text class="letter" x="272.8" y="393.6">F</text>
<text class="st" x="409" y="422.7" textLength="73.2" lengthAdjust="spacingAndGlyphs">32D/v-src/β4</text>
<text class="st" x="409" y="453.3" textLength="17.2" lengthAdjust="spacingAndGlyphs">G1</text>
<text class="st" x="409" y="468.1" textLength="8" lengthAdjust="spacingAndGlyphs">S</text>
<text class="st" x="409" y="483.1" textLength="30.4" lengthAdjust="spacingAndGlyphs">G2/M</text>
<text class="st" x="447" y="453.3" textLength="33.9" lengthAdjust="spacingAndGlyphs">41.9%</text>
<text class="st" x="446.2" y="468.1" textLength="33.8" lengthAdjust="spacingAndGlyphs">52.1%</text>
<text class="st" x="454.2" y="483.1" textLength="26.7" lengthAdjust="spacingAndGlyphs">6.0%</text>
</g>
</g>
</svg>
</body>
</html>
